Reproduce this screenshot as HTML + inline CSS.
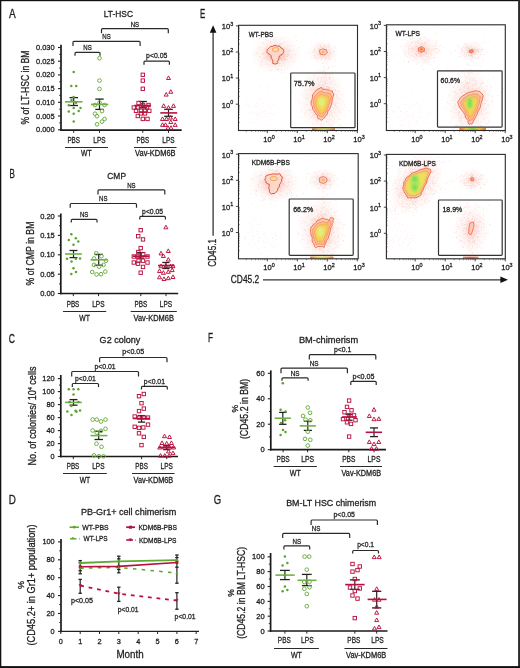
<!DOCTYPE html>
<html><head><meta charset="utf-8"><style>
html,body{margin:0;padding:0;background:#fff;width:520px;height:668px;overflow:hidden}
svg{display:block;will-change:transform}
text{font-family:"Liberation Sans", sans-serif;fill:#1e1e1e;stroke:#1e1e1e;stroke-width:0.3px}
</style></head><body>
<svg width="520" height="668" viewBox="0 0 520 668">
<defs><filter id="b1" x="-50%" y="-50%" width="200%" height="200%"><feGaussianBlur stdDeviation="0.9"/></filter><radialGradient id="halo"><stop offset="0" stop-color="#f08070" stop-opacity="0.40"/><stop offset="0.5" stop-color="#f3a090" stop-opacity="0.16"/><stop offset="1" stop-color="#f8c0b0" stop-opacity="0"/></radialGradient><linearGradient id="barG" x1="0" x2="1"><stop offset="0" stop-color="#f06030"/><stop offset="0.25" stop-color="#f0c030"/><stop offset="0.5" stop-color="#d8e040"/><stop offset="0.75" stop-color="#f0c030"/><stop offset="1" stop-color="#f06030"/></linearGradient><linearGradient id="barGr" x1="0" x2="1"><stop offset="0" stop-color="#f06030"/><stop offset="0.25" stop-color="#f0c030"/><stop offset="0.5" stop-color="#70d040"/><stop offset="0.75" stop-color="#f0c030"/><stop offset="1" stop-color="#f06030"/></linearGradient><linearGradient id="barO" x1="0" x2="1"><stop offset="0" stop-color="#f08060"/><stop offset="0.5" stop-color="#e85a30"/><stop offset="1" stop-color="#f08060"/></linearGradient></defs>
<rect x="0" y="0" width="520" height="668" fill="#fff"/>
<text x="9.0" y="17.9" font-size="12" textLength="6.7" lengthAdjust="spacingAndGlyphs">A</text>
<text x="103.8" y="17.3" font-size="9.77" textLength="29.2" lengthAdjust="spacingAndGlyphs">LT-HSC</text>
<line x1="61.0" y1="44.8" x2="61.0" y2="131.0" stroke="#1a1a1a" stroke-width="1.7"/>
<line x1="58.0" y1="47.5" x2="61.0" y2="47.5" stroke="#222" stroke-width="1.1"/>
<text x="54.6" y="50.0" font-size="8.05" text-anchor="end" textLength="18.6" lengthAdjust="spacingAndGlyphs">0.030</text>
<line x1="58.0" y1="61.2" x2="61.0" y2="61.2" stroke="#222" stroke-width="1.1"/>
<text x="54.6" y="63.7" font-size="8.05" text-anchor="end" textLength="18.6" lengthAdjust="spacingAndGlyphs">0.025</text>
<line x1="58.0" y1="74.9" x2="61.0" y2="74.9" stroke="#222" stroke-width="1.1"/>
<text x="54.6" y="77.4" font-size="8.05" text-anchor="end" textLength="18.6" lengthAdjust="spacingAndGlyphs">0.020</text>
<line x1="58.0" y1="88.6" x2="61.0" y2="88.6" stroke="#222" stroke-width="1.1"/>
<text x="54.6" y="91.1" font-size="8.05" text-anchor="end" textLength="18.6" lengthAdjust="spacingAndGlyphs">0.015</text>
<line x1="58.0" y1="102.3" x2="61.0" y2="102.3" stroke="#222" stroke-width="1.1"/>
<text x="54.6" y="104.8" font-size="8.05" text-anchor="end" textLength="18.6" lengthAdjust="spacingAndGlyphs">0.010</text>
<line x1="58.0" y1="116.0" x2="61.0" y2="116.0" stroke="#222" stroke-width="1.1"/>
<text x="54.6" y="118.5" font-size="8.05" text-anchor="end" textLength="18.6" lengthAdjust="spacingAndGlyphs">0.005</text>
<line x1="58.0" y1="129.8" x2="61.0" y2="129.8" stroke="#222" stroke-width="1.1"/>
<text x="54.6" y="132.3" font-size="8.05" text-anchor="end" textLength="18.6" lengthAdjust="spacingAndGlyphs">0.000</text>
<line x1="59.2" y1="54.4" x2="61.0" y2="54.4" stroke="#222" stroke-width="0.9"/>
<line x1="59.2" y1="68.1" x2="61.0" y2="68.1" stroke="#222" stroke-width="0.9"/>
<line x1="59.2" y1="81.8" x2="61.0" y2="81.8" stroke="#222" stroke-width="0.9"/>
<line x1="59.2" y1="95.4" x2="61.0" y2="95.4" stroke="#222" stroke-width="0.9"/>
<line x1="59.2" y1="109.2" x2="61.0" y2="109.2" stroke="#222" stroke-width="0.9"/>
<line x1="59.2" y1="122.9" x2="61.0" y2="122.9" stroke="#222" stroke-width="0.9"/>
<line x1="60.2" y1="130.2" x2="181.7" y2="130.2" stroke="#1a1a1a" stroke-width="1.7"/>
<line x1="73.7" y1="130.2" x2="73.7" y2="132.8" stroke="#222" stroke-width="1.0"/>
<line x1="99.5" y1="130.2" x2="99.5" y2="132.8" stroke="#222" stroke-width="1.0"/>
<line x1="142.8" y1="130.2" x2="142.8" y2="132.8" stroke="#222" stroke-width="1.0"/>
<line x1="168.5" y1="130.2" x2="168.5" y2="132.8" stroke="#222" stroke-width="1.0"/>
<text x="28.5" y="87.5" font-size="10.7" text-anchor="middle" textLength="74.0" lengthAdjust="spacingAndGlyphs" transform="rotate(-90 28.5 87.5)">% of LT-HSC in BM</text>
<path d="M101.5 33.2V29.7Q101.5 28.7 102.5 28.7H167.3Q168.3 28.7 168.3 29.7V33.2" fill="none" stroke="#2a2a2a" stroke-width="1.2"/>
<text x="134.9" y="26.5" font-size="8.05" text-anchor="middle" textLength="8.4" lengthAdjust="spacingAndGlyphs">NS</text>
<path d="M73.0 46.1V42.3Q73.0 41.3 74.0 41.3H139.1Q140.1 41.3 140.1 42.3V46.1" fill="none" stroke="#2a2a2a" stroke-width="1.2"/>
<text x="106.5" y="39.3" font-size="8.05" text-anchor="middle" textLength="8.4" lengthAdjust="spacingAndGlyphs">NS</text>
<path d="M75.0 55.8V53.3Q75.0 52.3 76.0 52.3H99.0Q100.0 52.3 100.0 53.3V55.8" fill="none" stroke="#2a2a2a" stroke-width="1.2"/>
<text x="87.5" y="50.3" font-size="8.05" text-anchor="middle" textLength="8.4" lengthAdjust="spacingAndGlyphs">NS</text>
<path d="M144.0 64.8V62.2Q144.0 61.2 145.0 61.2H168.4Q169.4 61.2 169.4 62.2V64.8" fill="none" stroke="#2a2a2a" stroke-width="1.2"/>
<text x="156.7" y="58.3" font-size="7.82" text-anchor="middle" textLength="21.3" lengthAdjust="spacingAndGlyphs">p&lt;0.05</text>
<text x="73.7" y="143.2" font-size="8.51" text-anchor="middle" textLength="12.6" lengthAdjust="spacingAndGlyphs">PBS</text>
<text x="99.5" y="143.2" font-size="8.51" text-anchor="middle" textLength="12.3" lengthAdjust="spacingAndGlyphs">LPS</text>
<text x="142.8" y="143.2" font-size="8.51" text-anchor="middle" textLength="12.6" lengthAdjust="spacingAndGlyphs">PBS</text>
<text x="168.5" y="143.2" font-size="8.51" text-anchor="middle" textLength="12.3" lengthAdjust="spacingAndGlyphs">LPS</text>
<line x1="65.0" y1="147.5" x2="108.0" y2="147.5" stroke="#2a2a2a" stroke-width="1.0"/>
<line x1="134.0" y1="147.5" x2="176.5" y2="147.5" stroke="#2a2a2a" stroke-width="1.0"/>
<text x="86.3" y="156.0" font-size="8.39" text-anchor="middle" textLength="10.6" lengthAdjust="spacingAndGlyphs">WT</text>
<text x="155.3" y="156.0" font-size="8.39" text-anchor="middle" textLength="40.4" lengthAdjust="spacingAndGlyphs">Vav-KDM6B</text>
<line x1="73.7" y1="97.6" x2="73.7" y2="105.5" stroke="#222" stroke-width="1.2"/>
<line x1="69.5" y1="97.6" x2="78.0" y2="97.6" stroke="#222" stroke-width="1.3"/>
<line x1="69.5" y1="105.5" x2="78.0" y2="105.5" stroke="#222" stroke-width="1.3"/>
<line x1="65.0" y1="101.8" x2="82.5" y2="101.8" stroke="#6fb144" stroke-width="1.6"/>
<circle cx="73.7" cy="72.1" r="1.25" fill="#5ca12f"/>
<circle cx="71.3" cy="86.1" r="1.25" fill="#5ca12f"/>
<circle cx="76.2" cy="86.1" r="1.25" fill="#5ca12f"/>
<circle cx="73.7" cy="96.9" r="1.25" fill="#5ca12f"/>
<circle cx="71.5" cy="99.9" r="1.25" fill="#5ca12f"/>
<circle cx="76.0" cy="102.7" r="1.25" fill="#5ca12f"/>
<circle cx="68.8" cy="105.3" r="1.25" fill="#5ca12f"/>
<circle cx="73.7" cy="108.1" r="1.25" fill="#5ca12f"/>
<circle cx="80.5" cy="108.1" r="1.25" fill="#5ca12f"/>
<circle cx="68.8" cy="111.5" r="1.25" fill="#5ca12f"/>
<circle cx="78.7" cy="110.9" r="1.25" fill="#5ca12f"/>
<circle cx="73.7" cy="113.7" r="1.25" fill="#5ca12f"/>
<circle cx="73.7" cy="121.6" r="1.25" fill="#5ca12f"/>
<line x1="99.5" y1="99.1" x2="99.5" y2="109.4" stroke="#222" stroke-width="1.2"/>
<line x1="95.3" y1="99.1" x2="103.7" y2="99.1" stroke="#222" stroke-width="1.3"/>
<line x1="95.3" y1="109.4" x2="103.7" y2="109.4" stroke="#222" stroke-width="1.3"/>
<line x1="90.9" y1="104.4" x2="108.3" y2="104.4" stroke="#6fb144" stroke-width="1.6"/>
<circle cx="99.5" cy="58.2" r="1.85" fill="none" stroke="#6fb144" stroke-width="1.0"/>
<circle cx="99.5" cy="80.6" r="1.85" fill="none" stroke="#6fb144" stroke-width="1.0"/>
<circle cx="99.5" cy="88.9" r="1.85" fill="none" stroke="#6fb144" stroke-width="1.0"/>
<circle cx="99.5" cy="102.7" r="1.85" fill="none" stroke="#6fb144" stroke-width="1.0"/>
<circle cx="95.0" cy="105.0" r="1.85" fill="none" stroke="#6fb144" stroke-width="1.0"/>
<circle cx="104.5" cy="105.0" r="1.85" fill="none" stroke="#6fb144" stroke-width="1.0"/>
<circle cx="102.0" cy="111.1" r="1.85" fill="none" stroke="#6fb144" stroke-width="1.0"/>
<circle cx="95.0" cy="113.7" r="1.85" fill="none" stroke="#6fb144" stroke-width="1.0"/>
<circle cx="97.0" cy="116.2" r="1.85" fill="none" stroke="#6fb144" stroke-width="1.0"/>
<circle cx="104.5" cy="119.0" r="1.85" fill="none" stroke="#6fb144" stroke-width="1.0"/>
<circle cx="102.0" cy="121.6" r="1.85" fill="none" stroke="#6fb144" stroke-width="1.0"/>
<circle cx="97.0" cy="124.3" r="1.85" fill="none" stroke="#6fb144" stroke-width="1.0"/>
<line x1="142.8" y1="101.5" x2="142.8" y2="107.8" stroke="#222" stroke-width="1.2"/>
<line x1="138.7" y1="101.5" x2="146.9" y2="101.5" stroke="#222" stroke-width="1.3"/>
<line x1="138.7" y1="107.8" x2="146.9" y2="107.8" stroke="#222" stroke-width="1.3"/>
<line x1="134.3" y1="105.5" x2="150.8" y2="105.5" stroke="#b9113f" stroke-width="1.6"/>
<rect x="141.1" y="73.1" width="3.4" height="3.4" fill="none" stroke="#b9113f" stroke-width="0.95"/>
<rect x="141.1" y="78.9" width="3.4" height="3.4" fill="none" stroke="#b9113f" stroke-width="0.95"/>
<rect x="141.1" y="87.1" width="3.4" height="3.4" fill="none" stroke="#b9113f" stroke-width="0.95"/>
<rect x="136.9" y="101.3" width="3.4" height="3.4" fill="none" stroke="#b9113f" stroke-width="0.95"/>
<rect x="141.3" y="103.3" width="3.4" height="3.4" fill="none" stroke="#b9113f" stroke-width="0.95"/>
<rect x="146.8" y="103.3" width="3.4" height="3.4" fill="none" stroke="#b9113f" stroke-width="0.95"/>
<rect x="132.1" y="105.8" width="3.4" height="3.4" fill="none" stroke="#b9113f" stroke-width="0.95"/>
<rect x="136.3" y="105.8" width="3.4" height="3.4" fill="none" stroke="#b9113f" stroke-width="0.95"/>
<rect x="145.3" y="105.8" width="3.4" height="3.4" fill="none" stroke="#b9113f" stroke-width="0.95"/>
<rect x="134.3" y="109.1" width="3.4" height="3.4" fill="none" stroke="#b9113f" stroke-width="0.95"/>
<rect x="139.3" y="109.1" width="3.4" height="3.4" fill="none" stroke="#b9113f" stroke-width="0.95"/>
<rect x="143.3" y="109.1" width="3.4" height="3.4" fill="none" stroke="#b9113f" stroke-width="0.95"/>
<rect x="147.6" y="109.1" width="3.4" height="3.4" fill="none" stroke="#b9113f" stroke-width="0.95"/>
<rect x="139.1" y="111.7" width="3.4" height="3.4" fill="none" stroke="#b9113f" stroke-width="0.95"/>
<rect x="143.3" y="111.7" width="3.4" height="3.4" fill="none" stroke="#b9113f" stroke-width="0.95"/>
<rect x="136.1" y="114.3" width="3.4" height="3.4" fill="none" stroke="#b9113f" stroke-width="0.95"/>
<rect x="141.1" y="117.2" width="3.4" height="3.4" fill="none" stroke="#b9113f" stroke-width="0.95"/>
<rect x="145.8" y="117.2" width="3.4" height="3.4" fill="none" stroke="#b9113f" stroke-width="0.95"/>
<line x1="168.5" y1="109.4" x2="168.5" y2="116.3" stroke="#222" stroke-width="1.2"/>
<line x1="164.2" y1="109.4" x2="172.8" y2="109.4" stroke="#222" stroke-width="1.3"/>
<line x1="164.2" y1="116.3" x2="172.8" y2="116.3" stroke="#222" stroke-width="1.3"/>
<line x1="160.3" y1="112.9" x2="177.2" y2="112.9" stroke="#b9113f" stroke-width="1.6"/>
<path d="M168.5 75.9L170.5 79.5H166.5Z" fill="none" stroke="#b9113f" stroke-width="0.95" stroke-linejoin="round"/>
<path d="M170.8 89.7L172.8 93.3H168.8Z" fill="none" stroke="#b9113f" stroke-width="0.95" stroke-linejoin="round"/>
<path d="M166.2 92.5L168.2 96.1H164.2Z" fill="none" stroke="#b9113f" stroke-width="0.95" stroke-linejoin="round"/>
<path d="M163.7 103.8L165.7 107.4H161.7Z" fill="none" stroke="#b9113f" stroke-width="0.95" stroke-linejoin="round"/>
<path d="M173.5 103.8L175.5 107.4H171.5Z" fill="none" stroke="#b9113f" stroke-width="0.95" stroke-linejoin="round"/>
<path d="M168.5 105.6L170.5 109.2H166.5Z" fill="none" stroke="#b9113f" stroke-width="0.95" stroke-linejoin="round"/>
<path d="M162.5 116.9L164.5 120.5H160.5Z" fill="none" stroke="#b9113f" stroke-width="0.95" stroke-linejoin="round"/>
<path d="M166.5 116.9L168.5 120.5H164.5Z" fill="none" stroke="#b9113f" stroke-width="0.95" stroke-linejoin="round"/>
<path d="M170.5 115.5L172.5 119.1H168.5Z" fill="none" stroke="#b9113f" stroke-width="0.95" stroke-linejoin="round"/>
<path d="M175.2 116.9L177.2 120.5H173.2Z" fill="none" stroke="#b9113f" stroke-width="0.95" stroke-linejoin="round"/>
<path d="M170.8 119.9L172.8 123.5H168.8Z" fill="none" stroke="#b9113f" stroke-width="0.95" stroke-linejoin="round"/>
<path d="M162.5 122.8L164.5 126.4H160.5Z" fill="none" stroke="#b9113f" stroke-width="0.95" stroke-linejoin="round"/>
<path d="M165.5 122.8L167.5 126.4H163.5Z" fill="none" stroke="#b9113f" stroke-width="0.95" stroke-linejoin="round"/>
<path d="M175.2 122.8L177.2 126.4H173.2Z" fill="none" stroke="#b9113f" stroke-width="0.95" stroke-linejoin="round"/>
<path d="M168.0 125.7L170.0 129.3H166.0Z" fill="none" stroke="#b9113f" stroke-width="0.95" stroke-linejoin="round"/>
<path d="M171.0 125.7L173.0 129.3H169.0Z" fill="none" stroke="#b9113f" stroke-width="0.95" stroke-linejoin="round"/>
<text x="9.6" y="177.8" font-size="12" textLength="5.4" lengthAdjust="spacingAndGlyphs">B</text>
<text x="107.3" y="178.8" font-size="9.77" textLength="18.7" lengthAdjust="spacingAndGlyphs">CMP</text>
<line x1="60.8" y1="213.5" x2="60.8" y2="294.3" stroke="#1a1a1a" stroke-width="1.7"/>
<line x1="57.8" y1="216.0" x2="60.8" y2="216.0" stroke="#222" stroke-width="1.1"/>
<text x="54.8" y="218.5" font-size="8.05" text-anchor="end" textLength="14.6" lengthAdjust="spacingAndGlyphs">0.20</text>
<line x1="57.8" y1="235.4" x2="60.8" y2="235.4" stroke="#222" stroke-width="1.1"/>
<text x="54.8" y="237.9" font-size="8.05" text-anchor="end" textLength="14.6" lengthAdjust="spacingAndGlyphs">0.15</text>
<line x1="57.8" y1="254.8" x2="60.8" y2="254.8" stroke="#222" stroke-width="1.1"/>
<text x="54.8" y="257.3" font-size="8.05" text-anchor="end" textLength="14.6" lengthAdjust="spacingAndGlyphs">0.10</text>
<line x1="57.8" y1="274.2" x2="60.8" y2="274.2" stroke="#222" stroke-width="1.1"/>
<text x="54.8" y="276.7" font-size="8.05" text-anchor="end" textLength="14.6" lengthAdjust="spacingAndGlyphs">0.05</text>
<line x1="57.8" y1="293.5" x2="60.8" y2="293.5" stroke="#222" stroke-width="1.1"/>
<text x="54.8" y="296.0" font-size="8.05" text-anchor="end" textLength="14.6" lengthAdjust="spacingAndGlyphs">0.00</text>
<line x1="59.0" y1="225.7" x2="60.8" y2="225.7" stroke="#222" stroke-width="0.9"/>
<line x1="59.0" y1="245.1" x2="60.8" y2="245.1" stroke="#222" stroke-width="0.9"/>
<line x1="59.0" y1="264.5" x2="60.8" y2="264.5" stroke="#222" stroke-width="0.9"/>
<line x1="59.0" y1="283.9" x2="60.8" y2="283.9" stroke="#222" stroke-width="0.9"/>
<line x1="60.0" y1="293.5" x2="178.2" y2="293.5" stroke="#1a1a1a" stroke-width="1.7"/>
<line x1="73.3" y1="293.5" x2="73.3" y2="296.1" stroke="#222" stroke-width="1.0"/>
<line x1="98.5" y1="293.5" x2="98.5" y2="296.1" stroke="#222" stroke-width="1.0"/>
<line x1="140.8" y1="293.5" x2="140.8" y2="296.1" stroke="#222" stroke-width="1.0"/>
<line x1="166.0" y1="293.5" x2="166.0" y2="296.1" stroke="#222" stroke-width="1.0"/>
<text x="33.6" y="253.5" font-size="10.7" text-anchor="middle" textLength="64.0" lengthAdjust="spacingAndGlyphs" transform="rotate(-90 33.6 253.5)">% of CMP in BM</text>
<path d="M98.0 194.6V190.8Q98.0 189.8 99.0 189.8H163.8Q164.8 189.8 164.8 190.8V194.6" fill="none" stroke="#2a2a2a" stroke-width="1.2"/>
<text x="131.4" y="187.5" font-size="8.05" text-anchor="middle" textLength="8.4" lengthAdjust="spacingAndGlyphs">NS</text>
<path d="M70.2 207.7V204.5Q70.2 203.5 71.2 203.5H135.5Q136.5 203.5 136.5 204.5V207.7" fill="none" stroke="#2a2a2a" stroke-width="1.2"/>
<text x="103.3" y="201.3" font-size="8.05" text-anchor="middle" textLength="8.4" lengthAdjust="spacingAndGlyphs">NS</text>
<path d="M71.3 222.5V220.3Q71.3 219.3 72.3 219.3H96.0Q97.0 219.3 97.0 220.3V222.5" fill="none" stroke="#2a2a2a" stroke-width="1.2"/>
<text x="84.2" y="217.2" font-size="8.05" text-anchor="middle" textLength="8.4" lengthAdjust="spacingAndGlyphs">NS</text>
<path d="M139.8 219.6V217.3Q139.8 216.3 140.8 216.3H164.4Q165.4 216.3 165.4 217.3V219.6" fill="none" stroke="#2a2a2a" stroke-width="1.2"/>
<text x="152.6" y="213.8" font-size="7.82" text-anchor="middle" textLength="21.0" lengthAdjust="spacingAndGlyphs">p&lt;0.05</text>
<text x="73.0" y="307.3" font-size="8.51" text-anchor="middle" textLength="12.6" lengthAdjust="spacingAndGlyphs">PBS</text>
<text x="98.4" y="307.3" font-size="8.51" text-anchor="middle" textLength="12.3" lengthAdjust="spacingAndGlyphs">LPS</text>
<text x="140.8" y="307.3" font-size="8.51" text-anchor="middle" textLength="12.6" lengthAdjust="spacingAndGlyphs">PBS</text>
<text x="166.0" y="307.3" font-size="8.51" text-anchor="middle" textLength="12.3" lengthAdjust="spacingAndGlyphs">LPS</text>
<line x1="63.0" y1="311.5" x2="106.2" y2="311.5" stroke="#2a2a2a" stroke-width="1.0"/>
<line x1="130.7" y1="311.5" x2="176.8" y2="311.5" stroke="#2a2a2a" stroke-width="1.0"/>
<text x="84.6" y="320.6" font-size="8.39" text-anchor="middle" textLength="10.6" lengthAdjust="spacingAndGlyphs">WT</text>
<text x="153.7" y="320.6" font-size="8.39" text-anchor="middle" textLength="40.4" lengthAdjust="spacingAndGlyphs">Vav-KDM6B</text>
<line x1="73.5" y1="250.5" x2="73.5" y2="257.6" stroke="#222" stroke-width="1.2"/>
<line x1="69.5" y1="250.5" x2="77.5" y2="250.5" stroke="#222" stroke-width="1.3"/>
<line x1="69.5" y1="257.6" x2="77.5" y2="257.6" stroke="#222" stroke-width="1.3"/>
<line x1="65.0" y1="254.0" x2="81.8" y2="254.0" stroke="#6fb144" stroke-width="1.6"/>
<circle cx="71.3" cy="234.2" r="1.25" fill="#5ca12f"/>
<circle cx="68.8" cy="240.0" r="1.25" fill="#5ca12f"/>
<circle cx="75.8" cy="238.3" r="1.25" fill="#5ca12f"/>
<circle cx="78.3" cy="241.6" r="1.25" fill="#5ca12f"/>
<circle cx="73.5" cy="244.7" r="1.25" fill="#5ca12f"/>
<circle cx="67.0" cy="258.7" r="1.25" fill="#5ca12f"/>
<circle cx="75.8" cy="258.7" r="1.25" fill="#5ca12f"/>
<circle cx="80.0" cy="258.4" r="1.25" fill="#5ca12f"/>
<circle cx="71.5" cy="261.5" r="1.25" fill="#5ca12f"/>
<circle cx="73.5" cy="268.3" r="1.25" fill="#5ca12f"/>
<circle cx="71.3" cy="273.9" r="1.25" fill="#5ca12f"/>
<circle cx="76.0" cy="272.0" r="1.25" fill="#5ca12f"/>
<line x1="98.7" y1="254.4" x2="98.7" y2="265.2" stroke="#222" stroke-width="1.2"/>
<line x1="94.5" y1="254.4" x2="103.0" y2="254.4" stroke="#222" stroke-width="1.3"/>
<line x1="94.5" y1="265.2" x2="103.0" y2="265.2" stroke="#222" stroke-width="1.3"/>
<line x1="90.6" y1="259.8" x2="107.4" y2="259.8" stroke="#6fb144" stroke-width="1.6"/>
<circle cx="96.3" cy="253.3" r="1.85" fill="none" stroke="#6fb144" stroke-width="1.0"/>
<circle cx="101.5" cy="256.2" r="1.85" fill="none" stroke="#6fb144" stroke-width="1.0"/>
<circle cx="94.0" cy="258.5" r="1.85" fill="none" stroke="#6fb144" stroke-width="1.0"/>
<circle cx="106.0" cy="260.7" r="1.85" fill="none" stroke="#6fb144" stroke-width="1.0"/>
<circle cx="94.0" cy="264.9" r="1.85" fill="none" stroke="#6fb144" stroke-width="1.0"/>
<circle cx="99.0" cy="266.6" r="1.85" fill="none" stroke="#6fb144" stroke-width="1.0"/>
<circle cx="103.5" cy="264.9" r="1.85" fill="none" stroke="#6fb144" stroke-width="1.0"/>
<circle cx="92.2" cy="272.0" r="1.85" fill="none" stroke="#6fb144" stroke-width="1.0"/>
<circle cx="96.6" cy="274.4" r="1.85" fill="none" stroke="#6fb144" stroke-width="1.0"/>
<circle cx="101.0" cy="274.2" r="1.85" fill="none" stroke="#6fb144" stroke-width="1.0"/>
<circle cx="105.3" cy="271.6" r="1.85" fill="none" stroke="#6fb144" stroke-width="1.0"/>
<line x1="140.7" y1="252.6" x2="140.7" y2="258.1" stroke="#222" stroke-width="1.2"/>
<line x1="137.1" y1="252.6" x2="144.3" y2="252.6" stroke="#222" stroke-width="1.3"/>
<line x1="137.1" y1="258.1" x2="144.3" y2="258.1" stroke="#222" stroke-width="1.3"/>
<line x1="132.6" y1="256.2" x2="149.0" y2="256.2" stroke="#b9113f" stroke-width="1.6"/>
<rect x="139.0" y="228.5" width="3.4" height="3.4" fill="none" stroke="#b9113f" stroke-width="0.95"/>
<rect x="136.5" y="234.5" width="3.4" height="3.4" fill="none" stroke="#b9113f" stroke-width="0.95"/>
<rect x="141.3" y="237.7" width="3.4" height="3.4" fill="none" stroke="#b9113f" stroke-width="0.95"/>
<rect x="139.0" y="246.4" width="3.4" height="3.4" fill="none" stroke="#b9113f" stroke-width="0.95"/>
<rect x="136.6" y="250.4" width="3.4" height="3.4" fill="none" stroke="#b9113f" stroke-width="0.95"/>
<rect x="141.5" y="252.4" width="3.4" height="3.4" fill="none" stroke="#b9113f" stroke-width="0.95"/>
<rect x="132.1" y="254.8" width="3.4" height="3.4" fill="none" stroke="#b9113f" stroke-width="0.95"/>
<rect x="136.3" y="254.8" width="3.4" height="3.4" fill="none" stroke="#b9113f" stroke-width="0.95"/>
<rect x="145.8" y="254.8" width="3.4" height="3.4" fill="none" stroke="#b9113f" stroke-width="0.95"/>
<rect x="132.1" y="260.8" width="3.4" height="3.4" fill="none" stroke="#b9113f" stroke-width="0.95"/>
<rect x="136.8" y="259.0" width="3.4" height="3.4" fill="none" stroke="#b9113f" stroke-width="0.95"/>
<rect x="141.3" y="259.0" width="3.4" height="3.4" fill="none" stroke="#b9113f" stroke-width="0.95"/>
<rect x="145.8" y="260.8" width="3.4" height="3.4" fill="none" stroke="#b9113f" stroke-width="0.95"/>
<rect x="136.3" y="262.0" width="3.4" height="3.4" fill="none" stroke="#b9113f" stroke-width="0.95"/>
<rect x="141.3" y="265.2" width="3.4" height="3.4" fill="none" stroke="#b9113f" stroke-width="0.95"/>
<rect x="139.0" y="271.0" width="3.4" height="3.4" fill="none" stroke="#b9113f" stroke-width="0.95"/>
<line x1="165.9" y1="262.5" x2="165.9" y2="268.5" stroke="#222" stroke-width="1.2"/>
<line x1="162.3" y1="262.5" x2="169.5" y2="262.5" stroke="#222" stroke-width="1.3"/>
<line x1="162.3" y1="268.5" x2="169.5" y2="268.5" stroke="#222" stroke-width="1.3"/>
<line x1="158.1" y1="265.5" x2="174.5" y2="265.5" stroke="#b9113f" stroke-width="1.6"/>
<path d="M165.9 225.2L167.9 228.8H163.9Z" fill="none" stroke="#b9113f" stroke-width="0.95" stroke-linejoin="round"/>
<path d="M168.3 248.9L170.3 252.5H166.3Z" fill="none" stroke="#b9113f" stroke-width="0.95" stroke-linejoin="round"/>
<path d="M161.0 251.3L163.0 254.9H159.0Z" fill="none" stroke="#b9113f" stroke-width="0.95" stroke-linejoin="round"/>
<path d="M163.4 253.9L165.4 257.5H161.4Z" fill="none" stroke="#b9113f" stroke-width="0.95" stroke-linejoin="round"/>
<path d="M168.3 257.5L170.3 261.1H166.3Z" fill="none" stroke="#b9113f" stroke-width="0.95" stroke-linejoin="round"/>
<path d="M161.0 264.1L163.0 267.7H159.0Z" fill="none" stroke="#b9113f" stroke-width="0.95" stroke-linejoin="round"/>
<path d="M165.9 264.0L167.9 267.6H163.9Z" fill="none" stroke="#b9113f" stroke-width="0.95" stroke-linejoin="round"/>
<path d="M170.5 264.0L172.5 267.6H168.5Z" fill="none" stroke="#b9113f" stroke-width="0.95" stroke-linejoin="round"/>
<path d="M173.0 264.1L175.0 267.7H171.0Z" fill="none" stroke="#b9113f" stroke-width="0.95" stroke-linejoin="round"/>
<path d="M159.5 268.9L161.5 272.5H157.5Z" fill="none" stroke="#b9113f" stroke-width="0.95" stroke-linejoin="round"/>
<path d="M163.4 270.7L165.4 274.3H161.4Z" fill="none" stroke="#b9113f" stroke-width="0.95" stroke-linejoin="round"/>
<path d="M168.3 269.7L170.3 273.3H166.3Z" fill="none" stroke="#b9113f" stroke-width="0.95" stroke-linejoin="round"/>
<path d="M172.2 268.0L174.2 271.6H170.2Z" fill="none" stroke="#b9113f" stroke-width="0.95" stroke-linejoin="round"/>
<path d="M159.5 275.2L161.5 278.8H157.5Z" fill="none" stroke="#b9113f" stroke-width="0.95" stroke-linejoin="round"/>
<path d="M164.0 276.9L166.0 280.5H162.0Z" fill="none" stroke="#b9113f" stroke-width="0.95" stroke-linejoin="round"/>
<path d="M168.3 276.1L170.3 279.7H166.3Z" fill="none" stroke="#b9113f" stroke-width="0.95" stroke-linejoin="round"/>
<path d="M173.0 274.9L175.0 278.5H171.0Z" fill="none" stroke="#b9113f" stroke-width="0.95" stroke-linejoin="round"/>
<text x="8.8" y="342.6" font-size="12" textLength="6.2" lengthAdjust="spacingAndGlyphs">C</text>
<text x="99.6" y="342.5" font-size="9.77" textLength="40.8" lengthAdjust="spacingAndGlyphs">G2 colony</text>
<line x1="60.8" y1="375.0" x2="60.8" y2="457.3" stroke="#1a1a1a" stroke-width="1.7"/>
<line x1="57.8" y1="378.6" x2="60.8" y2="378.6" stroke="#222" stroke-width="1.1"/>
<text x="54.6" y="381.1" font-size="8.05" text-anchor="end" textLength="12.3" lengthAdjust="spacingAndGlyphs">120</text>
<line x1="57.8" y1="391.6" x2="60.8" y2="391.6" stroke="#222" stroke-width="1.1"/>
<text x="54.6" y="394.1" font-size="8.05" text-anchor="end" textLength="12.3" lengthAdjust="spacingAndGlyphs">100</text>
<line x1="57.8" y1="404.6" x2="60.8" y2="404.6" stroke="#222" stroke-width="1.1"/>
<text x="54.6" y="407.1" font-size="8.05" text-anchor="end" textLength="8.2" lengthAdjust="spacingAndGlyphs">80</text>
<line x1="57.8" y1="417.6" x2="60.8" y2="417.6" stroke="#222" stroke-width="1.1"/>
<text x="54.6" y="420.1" font-size="8.05" text-anchor="end" textLength="8.2" lengthAdjust="spacingAndGlyphs">60</text>
<line x1="57.8" y1="430.6" x2="60.8" y2="430.6" stroke="#222" stroke-width="1.1"/>
<text x="54.6" y="433.1" font-size="8.05" text-anchor="end" textLength="8.2" lengthAdjust="spacingAndGlyphs">40</text>
<line x1="57.8" y1="443.6" x2="60.8" y2="443.6" stroke="#222" stroke-width="1.1"/>
<text x="54.6" y="446.1" font-size="8.05" text-anchor="end" textLength="8.2" lengthAdjust="spacingAndGlyphs">20</text>
<line x1="57.8" y1="456.5" x2="60.8" y2="456.5" stroke="#222" stroke-width="1.1"/>
<text x="54.6" y="459.0" font-size="8.05" text-anchor="end" textLength="4.1" lengthAdjust="spacingAndGlyphs">0</text>
<line x1="59.0" y1="385.1" x2="60.8" y2="385.1" stroke="#222" stroke-width="0.9"/>
<line x1="59.0" y1="398.1" x2="60.8" y2="398.1" stroke="#222" stroke-width="0.9"/>
<line x1="59.0" y1="411.1" x2="60.8" y2="411.1" stroke="#222" stroke-width="0.9"/>
<line x1="59.0" y1="424.1" x2="60.8" y2="424.1" stroke="#222" stroke-width="0.9"/>
<line x1="59.0" y1="437.1" x2="60.8" y2="437.1" stroke="#222" stroke-width="0.9"/>
<line x1="59.0" y1="450.1" x2="60.8" y2="450.1" stroke="#222" stroke-width="0.9"/>
<line x1="60.0" y1="456.5" x2="178.0" y2="456.5" stroke="#1a1a1a" stroke-width="1.7"/>
<line x1="73.3" y1="456.5" x2="73.3" y2="459.1" stroke="#222" stroke-width="1.0"/>
<line x1="98.6" y1="456.5" x2="98.6" y2="459.1" stroke="#222" stroke-width="1.0"/>
<line x1="141.6" y1="456.5" x2="141.6" y2="459.1" stroke="#222" stroke-width="1.0"/>
<line x1="166.7" y1="456.5" x2="166.7" y2="459.1" stroke="#222" stroke-width="1.0"/>
<text x="35.6" y="416.0" font-size="10.7" text-anchor="middle" textLength="99.0" lengthAdjust="spacingAndGlyphs" transform="rotate(-90 35.6 416.0)">No. of colonies/ 10<tspan font-size="6" dy="-3.5">4</tspan><tspan dy="3.5"> cells</tspan></text>
<path d="M99.6 362.3V358.5Q99.6 357.5 100.6 357.5H166.0Q167.0 357.5 167.0 358.5V362.3" fill="none" stroke="#2a2a2a" stroke-width="1.2"/>
<text x="133.3" y="354.0" font-size="7.82" text-anchor="middle" textLength="21.9" lengthAdjust="spacingAndGlyphs">p&lt;0.05</text>
<path d="M71.7 376.5V372.5Q71.7 371.5 72.7 371.5H137.5Q138.5 371.5 138.5 372.5V376.5" fill="none" stroke="#2a2a2a" stroke-width="1.2"/>
<text x="105.1" y="368.5" font-size="7.82" text-anchor="middle" textLength="21.2" lengthAdjust="spacingAndGlyphs">p&lt;0.01</text>
<path d="M72.3 387.0V384.5Q72.3 383.5 73.3 383.5H97.5Q98.5 383.5 98.5 384.5V387.0" fill="none" stroke="#2a2a2a" stroke-width="1.2"/>
<text x="85.4" y="380.7" font-size="7.82" text-anchor="middle" textLength="21.0" lengthAdjust="spacingAndGlyphs">p&lt;0.01</text>
<path d="M141.5 389.6V387.3Q141.5 386.3 142.5 386.3H166.3Q167.3 386.3 167.3 387.3V389.6" fill="none" stroke="#2a2a2a" stroke-width="1.2"/>
<text x="154.4" y="383.5" font-size="7.82" text-anchor="middle" textLength="21.1" lengthAdjust="spacingAndGlyphs">p&lt;0.01</text>
<text x="73.0" y="469.0" font-size="8.51" text-anchor="middle" textLength="12.6" lengthAdjust="spacingAndGlyphs">PBS</text>
<text x="98.4" y="469.0" font-size="8.51" text-anchor="middle" textLength="12.3" lengthAdjust="spacingAndGlyphs">LPS</text>
<text x="141.6" y="469.0" font-size="8.51" text-anchor="middle" textLength="12.6" lengthAdjust="spacingAndGlyphs">PBS</text>
<text x="166.7" y="469.0" font-size="8.51" text-anchor="middle" textLength="12.3" lengthAdjust="spacingAndGlyphs">LPS</text>
<line x1="63.0" y1="473.5" x2="106.8" y2="473.5" stroke="#2a2a2a" stroke-width="1.0"/>
<line x1="132.0" y1="473.5" x2="174.5" y2="473.5" stroke="#2a2a2a" stroke-width="1.0"/>
<text x="85.0" y="483.0" font-size="8.39" text-anchor="middle" textLength="10.6" lengthAdjust="spacingAndGlyphs">WT</text>
<text x="153.4" y="483.0" font-size="8.39" text-anchor="middle" textLength="39.7" lengthAdjust="spacingAndGlyphs">Vav-KDM6B</text>
<line x1="73.5" y1="399.6" x2="73.5" y2="405.2" stroke="#222" stroke-width="1.2"/>
<line x1="69.5" y1="399.6" x2="77.5" y2="399.6" stroke="#222" stroke-width="1.3"/>
<line x1="69.5" y1="405.2" x2="77.5" y2="405.2" stroke="#222" stroke-width="1.3"/>
<line x1="65.0" y1="402.4" x2="81.8" y2="402.4" stroke="#6fb144" stroke-width="1.6"/>
<circle cx="68.8" cy="389.2" r="1.25" fill="#5ca12f"/>
<circle cx="73.5" cy="389.2" r="1.25" fill="#5ca12f"/>
<circle cx="78.3" cy="389.2" r="1.25" fill="#5ca12f"/>
<circle cx="73.5" cy="394.6" r="1.25" fill="#5ca12f"/>
<circle cx="69.5" cy="402.1" r="1.25" fill="#5ca12f"/>
<circle cx="78.5" cy="402.1" r="1.25" fill="#5ca12f"/>
<circle cx="71.3" cy="406.1" r="1.25" fill="#5ca12f"/>
<circle cx="67.3" cy="411.4" r="1.25" fill="#5ca12f"/>
<circle cx="75.5" cy="410.8" r="1.25" fill="#5ca12f"/>
<circle cx="76.5" cy="411.8" r="1.25" fill="#5ca12f"/>
<circle cx="80.0" cy="410.6" r="1.25" fill="#5ca12f"/>
<circle cx="71.5" cy="415.1" r="1.25" fill="#5ca12f"/>
<line x1="98.7" y1="431.3" x2="98.7" y2="439.5" stroke="#222" stroke-width="1.2"/>
<line x1="94.5" y1="431.3" x2="103.0" y2="431.3" stroke="#222" stroke-width="1.3"/>
<line x1="94.5" y1="439.5" x2="103.0" y2="439.5" stroke="#222" stroke-width="1.3"/>
<line x1="90.6" y1="435.6" x2="107.4" y2="435.6" stroke="#6fb144" stroke-width="1.6"/>
<circle cx="92.7" cy="419.6" r="1.85" fill="none" stroke="#6fb144" stroke-width="1.0"/>
<circle cx="96.8" cy="419.6" r="1.85" fill="none" stroke="#6fb144" stroke-width="1.0"/>
<circle cx="101.0" cy="421.5" r="1.85" fill="none" stroke="#6fb144" stroke-width="1.0"/>
<circle cx="105.5" cy="419.6" r="1.85" fill="none" stroke="#6fb144" stroke-width="1.0"/>
<circle cx="92.7" cy="430.5" r="1.85" fill="none" stroke="#6fb144" stroke-width="1.0"/>
<circle cx="96.8" cy="432.6" r="1.85" fill="none" stroke="#6fb144" stroke-width="1.0"/>
<circle cx="101.0" cy="430.8" r="1.85" fill="none" stroke="#6fb144" stroke-width="1.0"/>
<circle cx="105.5" cy="428.8" r="1.85" fill="none" stroke="#6fb144" stroke-width="1.0"/>
<circle cx="96.5" cy="443.7" r="1.85" fill="none" stroke="#6fb144" stroke-width="1.0"/>
<circle cx="101.5" cy="446.8" r="1.85" fill="none" stroke="#6fb144" stroke-width="1.0"/>
<circle cx="94.0" cy="455.4" r="1.85" fill="none" stroke="#6fb144" stroke-width="1.0"/>
<circle cx="99.0" cy="456.3" r="1.85" fill="none" stroke="#6fb144" stroke-width="1.0"/>
<circle cx="103.5" cy="456.3" r="1.85" fill="none" stroke="#6fb144" stroke-width="1.0"/>
<line x1="141.5" y1="415.6" x2="141.5" y2="422.1" stroke="#222" stroke-width="1.2"/>
<line x1="137.9" y1="415.6" x2="145.1" y2="415.6" stroke="#222" stroke-width="1.3"/>
<line x1="137.9" y1="422.1" x2="145.1" y2="422.1" stroke="#222" stroke-width="1.3"/>
<line x1="133.0" y1="418.5" x2="149.8" y2="418.5" stroke="#b9113f" stroke-width="1.6"/>
<rect x="137.3" y="394.5" width="3.4" height="3.4" fill="none" stroke="#b9113f" stroke-width="0.95"/>
<rect x="142.1" y="392.3" width="3.4" height="3.4" fill="none" stroke="#b9113f" stroke-width="0.95"/>
<rect x="139.8" y="401.5" width="3.4" height="3.4" fill="none" stroke="#b9113f" stroke-width="0.95"/>
<rect x="137.3" y="409.4" width="3.4" height="3.4" fill="none" stroke="#b9113f" stroke-width="0.95"/>
<rect x="142.1" y="406.9" width="3.4" height="3.4" fill="none" stroke="#b9113f" stroke-width="0.95"/>
<rect x="133.0" y="414.8" width="3.4" height="3.4" fill="none" stroke="#b9113f" stroke-width="0.95"/>
<rect x="137.3" y="415.9" width="3.4" height="3.4" fill="none" stroke="#b9113f" stroke-width="0.95"/>
<rect x="142.1" y="415.9" width="3.4" height="3.4" fill="none" stroke="#b9113f" stroke-width="0.95"/>
<rect x="146.3" y="415.9" width="3.4" height="3.4" fill="none" stroke="#b9113f" stroke-width="0.95"/>
<rect x="146.3" y="422.9" width="3.4" height="3.4" fill="none" stroke="#b9113f" stroke-width="0.95"/>
<rect x="133.0" y="425.1" width="3.4" height="3.4" fill="none" stroke="#b9113f" stroke-width="0.95"/>
<rect x="137.3" y="426.2" width="3.4" height="3.4" fill="none" stroke="#b9113f" stroke-width="0.95"/>
<rect x="141.6" y="425.8" width="3.4" height="3.4" fill="none" stroke="#b9113f" stroke-width="0.95"/>
<rect x="137.3" y="431.6" width="3.4" height="3.4" fill="none" stroke="#b9113f" stroke-width="0.95"/>
<rect x="142.1" y="435.2" width="3.4" height="3.4" fill="none" stroke="#b9113f" stroke-width="0.95"/>
<rect x="139.8" y="443.4" width="3.4" height="3.4" fill="none" stroke="#b9113f" stroke-width="0.95"/>
<line x1="166.7" y1="445.7" x2="166.7" y2="449.6" stroke="#222" stroke-width="1.2"/>
<line x1="163.1" y1="445.7" x2="170.3" y2="445.7" stroke="#222" stroke-width="1.3"/>
<line x1="163.1" y1="449.6" x2="170.3" y2="449.6" stroke="#222" stroke-width="1.3"/>
<line x1="158.6" y1="447.4" x2="175.4" y2="447.4" stroke="#b9113f" stroke-width="1.6"/>
<path d="M164.5 434.1L166.5 437.7H162.5Z" fill="none" stroke="#b9113f" stroke-width="0.95" stroke-linejoin="round"/>
<path d="M169.5 434.9L171.5 438.5H167.5Z" fill="none" stroke="#b9113f" stroke-width="0.95" stroke-linejoin="round"/>
<path d="M162.0 440.9L164.0 444.5H160.0Z" fill="none" stroke="#b9113f" stroke-width="0.95" stroke-linejoin="round"/>
<path d="M166.7 441.4L168.7 445.0H164.7Z" fill="none" stroke="#b9113f" stroke-width="0.95" stroke-linejoin="round"/>
<path d="M171.4 440.9L173.4 444.5H169.4Z" fill="none" stroke="#b9113f" stroke-width="0.95" stroke-linejoin="round"/>
<path d="M159.7 445.4L161.7 449.0H157.7Z" fill="none" stroke="#b9113f" stroke-width="0.95" stroke-linejoin="round"/>
<path d="M164.5 445.4L166.5 449.0H162.5Z" fill="none" stroke="#b9113f" stroke-width="0.95" stroke-linejoin="round"/>
<path d="M169.5 445.4L171.5 449.0H167.5Z" fill="none" stroke="#b9113f" stroke-width="0.95" stroke-linejoin="round"/>
<path d="M173.5 445.4L175.5 449.0H171.5Z" fill="none" stroke="#b9113f" stroke-width="0.95" stroke-linejoin="round"/>
<path d="M168.5 449.3L170.5 452.9H166.5Z" fill="none" stroke="#b9113f" stroke-width="0.95" stroke-linejoin="round"/>
<path d="M173.0 451.0L175.0 454.6H171.0Z" fill="none" stroke="#b9113f" stroke-width="0.95" stroke-linejoin="round"/>
<path d="M160.5 453.6L162.5 457.2H158.5Z" fill="none" stroke="#b9113f" stroke-width="0.95" stroke-linejoin="round"/>
<path d="M164.8 453.6L166.8 457.2H162.8Z" fill="none" stroke="#b9113f" stroke-width="0.95" stroke-linejoin="round"/>
<path d="M169.2 453.6L171.2 457.2H167.2Z" fill="none" stroke="#b9113f" stroke-width="0.95" stroke-linejoin="round"/>
<text x="8.7" y="503.8" font-size="12" textLength="7.1" lengthAdjust="spacingAndGlyphs">D</text>
<text x="81.0" y="514.8" font-size="9.77" textLength="95.4" lengthAdjust="spacingAndGlyphs">PB-Gr1+ cell chimerism</text>
<line x1="61.0" y1="539.0" x2="61.0" y2="632.2" stroke="#1a1a1a" stroke-width="1.7"/>
<line x1="58.0" y1="541.9" x2="61.0" y2="541.9" stroke="#222" stroke-width="1.1"/>
<text x="54.7" y="544.4" font-size="8.05" text-anchor="end" textLength="12.3" lengthAdjust="spacingAndGlyphs">100</text>
<line x1="58.0" y1="559.8" x2="61.0" y2="559.8" stroke="#222" stroke-width="1.1"/>
<text x="54.7" y="562.3" font-size="8.05" text-anchor="end" textLength="8.2" lengthAdjust="spacingAndGlyphs">80</text>
<line x1="58.0" y1="577.7" x2="61.0" y2="577.7" stroke="#222" stroke-width="1.1"/>
<text x="54.7" y="580.2" font-size="8.05" text-anchor="end" textLength="8.2" lengthAdjust="spacingAndGlyphs">60</text>
<line x1="58.0" y1="595.6" x2="61.0" y2="595.6" stroke="#222" stroke-width="1.1"/>
<text x="54.7" y="598.1" font-size="8.05" text-anchor="end" textLength="8.2" lengthAdjust="spacingAndGlyphs">40</text>
<line x1="58.0" y1="613.5" x2="61.0" y2="613.5" stroke="#222" stroke-width="1.1"/>
<text x="54.7" y="616.0" font-size="8.05" text-anchor="end" textLength="8.2" lengthAdjust="spacingAndGlyphs">20</text>
<line x1="58.0" y1="631.4" x2="61.0" y2="631.4" stroke="#222" stroke-width="1.1"/>
<text x="54.7" y="633.9" font-size="8.05" text-anchor="end" textLength="4.1" lengthAdjust="spacingAndGlyphs">0</text>
<line x1="59.2" y1="550.8" x2="61.0" y2="550.8" stroke="#222" stroke-width="0.9"/>
<line x1="59.2" y1="568.8" x2="61.0" y2="568.8" stroke="#222" stroke-width="0.9"/>
<line x1="59.2" y1="586.7" x2="61.0" y2="586.7" stroke="#222" stroke-width="0.9"/>
<line x1="59.2" y1="604.5" x2="61.0" y2="604.5" stroke="#222" stroke-width="0.9"/>
<line x1="59.2" y1="622.5" x2="61.0" y2="622.5" stroke="#222" stroke-width="0.9"/>
<line x1="60.4" y1="631.4" x2="199.0" y2="631.4" stroke="#222" stroke-width="1.3"/>
<line x1="60.8" y1="631.4" x2="60.8" y2="634.0" stroke="#222" stroke-width="1.0"/>
<text x="60.8" y="644.3" font-size="8.05" text-anchor="middle" textLength="4.1" lengthAdjust="spacingAndGlyphs">0</text>
<line x1="80.2" y1="631.4" x2="80.2" y2="634.0" stroke="#222" stroke-width="1.0"/>
<text x="80.2" y="644.3" font-size="8.05" text-anchor="middle" textLength="4.1" lengthAdjust="spacingAndGlyphs">1</text>
<line x1="99.5" y1="631.4" x2="99.5" y2="634.0" stroke="#222" stroke-width="1.0"/>
<text x="99.5" y="644.3" font-size="8.05" text-anchor="middle" textLength="4.1" lengthAdjust="spacingAndGlyphs">2</text>
<line x1="118.8" y1="631.4" x2="118.8" y2="634.0" stroke="#222" stroke-width="1.0"/>
<text x="118.8" y="644.3" font-size="8.05" text-anchor="middle" textLength="4.1" lengthAdjust="spacingAndGlyphs">3</text>
<line x1="138.2" y1="631.4" x2="138.2" y2="634.0" stroke="#222" stroke-width="1.0"/>
<text x="138.2" y="644.3" font-size="8.05" text-anchor="middle" textLength="4.1" lengthAdjust="spacingAndGlyphs">4</text>
<line x1="157.6" y1="631.4" x2="157.6" y2="634.0" stroke="#222" stroke-width="1.0"/>
<text x="157.6" y="644.3" font-size="8.05" text-anchor="middle" textLength="4.1" lengthAdjust="spacingAndGlyphs">5</text>
<line x1="176.9" y1="631.4" x2="176.9" y2="634.0" stroke="#222" stroke-width="1.0"/>
<text x="176.9" y="644.3" font-size="8.05" text-anchor="middle" textLength="4.1" lengthAdjust="spacingAndGlyphs">6</text>
<line x1="196.2" y1="631.4" x2="196.2" y2="634.0" stroke="#222" stroke-width="1.0"/>
<text x="196.2" y="644.3" font-size="8.05" text-anchor="middle" textLength="4.1" lengthAdjust="spacingAndGlyphs">7</text>
<text x="130.0" y="657.6" font-size="11.5" text-anchor="middle" textLength="27.2" lengthAdjust="spacingAndGlyphs">Month</text>
<text x="23.5" y="585.0" font-size="9.89" text-anchor="middle" textLength="8.0" lengthAdjust="spacingAndGlyphs" transform="rotate(-90 23.5 585.0)">%</text>
<text x="35.2" y="585.0" font-size="10.7" text-anchor="middle" textLength="121.0" lengthAdjust="spacingAndGlyphs" transform="rotate(-90 35.2 585.0)">(CD45.2+ in Gr1+ population)</text>
<line x1="69.6" y1="527.2" x2="78.9" y2="527.2" stroke="#58a62a" stroke-width="1.5"/>
<circle cx="74.2" cy="527.2" r="1.4" fill="#58a62a"/>
<text x="82.3" y="529.8" font-size="8.05" textLength="26.4" lengthAdjust="spacingAndGlyphs">WT-PBS</text>
<line x1="70.0" y1="538.8" x2="76.5" y2="538.8" stroke="#58a62a" stroke-width="1.4"/>
<path d="M71.6 537.3L74.2 537.3L72.9 539.6Z" fill="#58a62a"/>
<circle cx="79.5" cy="538.8" r="0.6" fill="#58a62a"/>
<text x="83.5" y="541.4" font-size="8.05" textLength="24.2" lengthAdjust="spacingAndGlyphs">WT-LPS</text>
<line x1="126.2" y1="527.2" x2="135.0" y2="527.2" stroke="#b9113f" stroke-width="1.8"/>
<rect x="129" y="525.7" width="3" height="3" fill="#b9113f"/>
<text x="138.4" y="529.8" font-size="8.05" textLength="38.6" lengthAdjust="spacingAndGlyphs">KDM6B-PBS</text>
<line x1="126.2" y1="540.0" x2="133.0" y2="540.0" stroke="#b9113f" stroke-width="1.6"/>
<path d="M128.6 538.6L132.0 538.6L130.3 541.4Z" fill="#b9113f"/>
<circle cx="135.4" cy="540" r="0.6" fill="#b9113f"/>
<text x="138.9" y="542.6" font-size="8.05" textLength="37.6" lengthAdjust="spacingAndGlyphs">KDM6B-LPS</text>
<line x1="80.2" y1="560.6" x2="80.2" y2="573.8" stroke="#222" stroke-width="1.2"/>
<line x1="78.5" y1="560.6" x2="81.9" y2="560.6" stroke="#222" stroke-width="1.3"/>
<line x1="78.5" y1="573.8" x2="81.9" y2="573.8" stroke="#222" stroke-width="1.3"/>
<line x1="118.8" y1="556.2" x2="118.8" y2="572.8" stroke="#222" stroke-width="1.2"/>
<line x1="117.1" y1="556.2" x2="120.5" y2="556.2" stroke="#222" stroke-width="1.3"/>
<line x1="117.1" y1="572.8" x2="120.5" y2="572.8" stroke="#222" stroke-width="1.3"/>
<line x1="176.9" y1="555.0" x2="176.9" y2="583.2" stroke="#222" stroke-width="1.2"/>
<line x1="175.2" y1="555.0" x2="178.6" y2="555.0" stroke="#222" stroke-width="1.3"/>
<line x1="175.2" y1="583.2" x2="178.6" y2="583.2" stroke="#222" stroke-width="1.3"/>
<line x1="80.2" y1="579.4" x2="80.2" y2="593.3" stroke="#222" stroke-width="1.2"/>
<line x1="78.5" y1="579.4" x2="81.9" y2="579.4" stroke="#222" stroke-width="1.3"/>
<line x1="78.5" y1="593.3" x2="81.9" y2="593.3" stroke="#222" stroke-width="1.3"/>
<line x1="118.8" y1="587.2" x2="118.8" y2="601.4" stroke="#222" stroke-width="1.2"/>
<line x1="117.1" y1="587.2" x2="120.5" y2="587.2" stroke="#222" stroke-width="1.3"/>
<line x1="117.1" y1="601.4" x2="120.5" y2="601.4" stroke="#222" stroke-width="1.3"/>
<line x1="176.9" y1="592.7" x2="176.9" y2="609.2" stroke="#222" stroke-width="1.2"/>
<line x1="175.2" y1="592.7" x2="178.6" y2="592.7" stroke="#222" stroke-width="1.3"/>
<line x1="175.2" y1="609.2" x2="178.6" y2="609.2" stroke="#222" stroke-width="1.3"/>
<line x1="78.5" y1="562.6" x2="81.9" y2="562.6" stroke="#222" stroke-width="1.3"/>
<line x1="78.5" y1="570.8" x2="81.9" y2="570.8" stroke="#222" stroke-width="1.3"/>
<line x1="117.1" y1="558.8" x2="120.5" y2="558.8" stroke="#222" stroke-width="1.3"/>
<line x1="117.1" y1="569.5" x2="120.5" y2="569.5" stroke="#222" stroke-width="1.3"/>
<line x1="175.2" y1="557.6" x2="178.6" y2="557.6" stroke="#222" stroke-width="1.3"/>
<line x1="175.2" y1="567.2" x2="178.6" y2="567.2" stroke="#222" stroke-width="1.3"/>
<polyline points="80.2,568.2 118.8,567.4 176.9,573" fill="none" stroke="#58a62a" stroke-width="1.5" stroke-dasharray="3.5 5.3"/>
<polyline points="80.2,585.5 118.8,593.7 176.9,600.5" fill="none" stroke="#b9113f" stroke-width="1.8" stroke-dasharray="3.8 4.8"/>
<polyline points="80.2,566.8 118.8,566.4 176.9,562.5" fill="none" stroke="#b9113f" stroke-width="1.6"/>
<polyline points="80.2,563 118.8,561.4 176.9,560.2" fill="none" stroke="#5eaa36" stroke-width="1.8"/>
<circle cx="80.2" cy="563.0" r="1.5" fill="#58a62a"/>
<circle cx="118.8" cy="561.4" r="1.5" fill="#58a62a"/>
<circle cx="176.9" cy="560.2" r="1.5" fill="#58a62a"/>
<rect x="78.7" y="565.3" width="3" height="3" fill="#b9113f"/>
<rect x="117.3" y="564.9" width="3" height="3" fill="#b9113f"/>
<rect x="175.4" y="561.0" width="3" height="3" fill="#b9113f"/>
<path d="M78.7 569.4L81.7 569.4L80.2 566.7Z" fill="#58a62a"/>
<path d="M117.3 568.6L120.3 568.6L118.8 565.9Z" fill="#58a62a"/>
<path d="M175.4 574.2L178.4 574.2L176.9 571.5Z" fill="#58a62a"/>
<path d="M78.5 584.2L81.9 584.2L80.2 587.1Z" fill="#b9113f"/>
<path d="M117.1 592.4L120.5 592.4L118.8 595.3Z" fill="#b9113f"/>
<path d="M175.2 599.2L178.6 599.2L176.9 602.1Z" fill="#b9113f"/>
<text x="71.0" y="602.8" font-size="8.05" textLength="22.0" lengthAdjust="spacingAndGlyphs">p&lt;0.05</text>
<text x="117.8" y="612.0" font-size="8.05" textLength="20.8" lengthAdjust="spacingAndGlyphs">p&lt;0.01</text>
<text x="174.6" y="619.3" font-size="8.05" textLength="21.0" lengthAdjust="spacingAndGlyphs">p&lt;0.01</text>
<text x="208.0" y="342.0" font-size="12" textLength="5.0" lengthAdjust="spacingAndGlyphs">F</text>
<text x="298.9" y="342.7" font-size="9.77" textLength="59.3" lengthAdjust="spacingAndGlyphs">BM-chimerism</text>
<line x1="270.8" y1="370.4" x2="270.8" y2="450.5" stroke="#1a1a1a" stroke-width="1.7"/>
<line x1="267.8" y1="373.3" x2="270.8" y2="373.3" stroke="#222" stroke-width="1.1"/>
<text x="264.6" y="375.8" font-size="8.05" text-anchor="end" textLength="8.4" lengthAdjust="spacingAndGlyphs">60</text>
<line x1="267.8" y1="398.8" x2="270.8" y2="398.8" stroke="#222" stroke-width="1.1"/>
<text x="264.6" y="401.3" font-size="8.05" text-anchor="end" textLength="8.4" lengthAdjust="spacingAndGlyphs">40</text>
<line x1="267.8" y1="424.2" x2="270.8" y2="424.2" stroke="#222" stroke-width="1.1"/>
<text x="264.6" y="426.7" font-size="8.05" text-anchor="end" textLength="8.4" lengthAdjust="spacingAndGlyphs">20</text>
<line x1="267.8" y1="449.7" x2="270.8" y2="449.7" stroke="#222" stroke-width="1.1"/>
<text x="264.6" y="452.2" font-size="8.05" text-anchor="end" textLength="4.2" lengthAdjust="spacingAndGlyphs">0</text>
<line x1="269.0" y1="386.1" x2="270.8" y2="386.1" stroke="#222" stroke-width="0.9"/>
<line x1="269.0" y1="411.5" x2="270.8" y2="411.5" stroke="#222" stroke-width="0.9"/>
<line x1="269.0" y1="436.9" x2="270.8" y2="436.9" stroke="#222" stroke-width="0.9"/>
<line x1="270.0" y1="449.7" x2="386.0" y2="449.7" stroke="#1a1a1a" stroke-width="1.7"/>
<line x1="283.1" y1="449.7" x2="283.1" y2="452.3" stroke="#222" stroke-width="1.0"/>
<line x1="307.6" y1="449.7" x2="307.6" y2="452.3" stroke="#222" stroke-width="1.0"/>
<line x1="348.8" y1="449.7" x2="348.8" y2="452.3" stroke="#222" stroke-width="1.0"/>
<line x1="374.0" y1="449.7" x2="374.0" y2="452.3" stroke="#222" stroke-width="1.0"/>
<text x="238.2" y="408.8" font-size="9.89" text-anchor="middle" textLength="7.6" lengthAdjust="spacingAndGlyphs" transform="rotate(-90 238.2 408.8)">%</text>
<text x="248.0" y="408.9" font-size="10.7" text-anchor="middle" textLength="60.3" lengthAdjust="spacingAndGlyphs" transform="rotate(-90 248.0 408.9)">(CD45.2 in BM)</text>
<path d="M309.3 359.6V355.7Q309.3 354.7 310.3 354.7H374.8Q375.8 354.7 375.8 355.7V359.6" fill="none" stroke="#2a2a2a" stroke-width="1.2"/>
<text x="342.6" y="352.0" font-size="7.82" text-anchor="middle" textLength="17.3" lengthAdjust="spacingAndGlyphs">p&lt;0.1</text>
<path d="M281.0 373.2V369.1Q281.0 368.1 282.0 368.1H346.4Q347.4 368.1 347.4 369.1V373.2" fill="none" stroke="#2a2a2a" stroke-width="1.2"/>
<text x="314.2" y="366.3" font-size="8.05" text-anchor="middle" textLength="9.0" lengthAdjust="spacingAndGlyphs">NS</text>
<path d="M282.0 380.8V378.8Q282.0 377.8 283.0 377.8H307.1Q308.1 377.8 308.1 378.8V380.8" fill="none" stroke="#2a2a2a" stroke-width="1.2"/>
<text x="295.1" y="375.5" font-size="8.05" text-anchor="middle" textLength="8.8" lengthAdjust="spacingAndGlyphs">NS</text>
<path d="M350.8 385.0V382.3Q350.8 381.3 351.8 381.3H375.2Q376.2 381.3 376.2 382.3V385.0" fill="none" stroke="#2a2a2a" stroke-width="1.2"/>
<text x="363.5" y="379.0" font-size="7.82" text-anchor="middle" textLength="22.0" lengthAdjust="spacingAndGlyphs">p&lt;0.05</text>
<text x="283.1" y="462.4" font-size="8.74" text-anchor="middle" textLength="13.2" lengthAdjust="spacingAndGlyphs">PBS</text>
<text x="307.6" y="462.4" font-size="8.74" text-anchor="middle" textLength="12.9" lengthAdjust="spacingAndGlyphs">LPS</text>
<text x="348.8" y="462.4" font-size="8.74" text-anchor="middle" textLength="13.2" lengthAdjust="spacingAndGlyphs">PBS</text>
<text x="374.0" y="462.4" font-size="8.74" text-anchor="middle" textLength="12.9" lengthAdjust="spacingAndGlyphs">LPS</text>
<line x1="273.6" y1="466.5" x2="316.9" y2="466.5" stroke="#2a2a2a" stroke-width="1.0"/>
<line x1="340.0" y1="466.5" x2="382.0" y2="466.5" stroke="#2a2a2a" stroke-width="1.0"/>
<text x="295.3" y="475.9" font-size="8.62" text-anchor="middle" textLength="11.1" lengthAdjust="spacingAndGlyphs">WT</text>
<text x="361.3" y="475.9" font-size="8.62" text-anchor="middle" textLength="39.5" lengthAdjust="spacingAndGlyphs">Vav-KDM6B</text>
<line x1="282.8" y1="412.4" x2="282.8" y2="424.3" stroke="#222" stroke-width="1.2"/>
<line x1="279.1" y1="412.4" x2="286.5" y2="412.4" stroke="#222" stroke-width="1.3"/>
<line x1="279.1" y1="424.3" x2="286.5" y2="424.3" stroke="#222" stroke-width="1.3"/>
<line x1="274.7" y1="418.2" x2="290.9" y2="418.2" stroke="#6fb144" stroke-width="1.6"/>
<circle cx="282.8" cy="383.2" r="1.25" fill="#5ca12f"/>
<circle cx="280.6" cy="409.7" r="1.25" fill="#5ca12f"/>
<circle cx="285.5" cy="411.5" r="1.25" fill="#5ca12f"/>
<circle cx="285.0" cy="420.3" r="1.25" fill="#5ca12f"/>
<circle cx="281.0" cy="423.0" r="1.25" fill="#5ca12f"/>
<circle cx="283.0" cy="430.0" r="1.25" fill="#5ca12f"/>
<circle cx="285.5" cy="432.1" r="1.25" fill="#5ca12f"/>
<circle cx="280.6" cy="435.1" r="1.25" fill="#5ca12f"/>
<line x1="307.8" y1="421.3" x2="307.8" y2="430.4" stroke="#222" stroke-width="1.2"/>
<line x1="303.8" y1="421.3" x2="311.9" y2="421.3" stroke="#222" stroke-width="1.3"/>
<line x1="303.8" y1="430.4" x2="311.9" y2="430.4" stroke="#222" stroke-width="1.3"/>
<line x1="299.7" y1="425.9" x2="315.8" y2="425.9" stroke="#6fb144" stroke-width="1.6"/>
<circle cx="307.8" cy="407.5" r="1.85" fill="none" stroke="#6fb144" stroke-width="1.0"/>
<circle cx="310.0" cy="412.8" r="1.85" fill="none" stroke="#6fb144" stroke-width="1.0"/>
<circle cx="303.0" cy="416.0" r="1.85" fill="none" stroke="#6fb144" stroke-width="1.0"/>
<circle cx="305.5" cy="419.6" r="1.85" fill="none" stroke="#6fb144" stroke-width="1.0"/>
<circle cx="310.3" cy="420.3" r="1.85" fill="none" stroke="#6fb144" stroke-width="1.0"/>
<circle cx="307.8" cy="431.7" r="1.85" fill="none" stroke="#6fb144" stroke-width="1.0"/>
<circle cx="305.0" cy="438.9" r="1.85" fill="none" stroke="#6fb144" stroke-width="1.0"/>
<circle cx="310.3" cy="439.8" r="1.85" fill="none" stroke="#6fb144" stroke-width="1.0"/>
<circle cx="307.8" cy="445.6" r="1.85" fill="none" stroke="#6fb144" stroke-width="1.0"/>
<line x1="349.1" y1="414.3" x2="349.1" y2="420.2" stroke="#222" stroke-width="1.2"/>
<line x1="345.6" y1="414.3" x2="352.6" y2="414.3" stroke="#222" stroke-width="1.3"/>
<line x1="345.6" y1="420.2" x2="352.6" y2="420.2" stroke="#222" stroke-width="1.3"/>
<line x1="342.0" y1="417.0" x2="356.8" y2="417.0" stroke="#b9113f" stroke-width="1.6"/>
<rect x="347.4" y="398.9" width="3.4" height="3.4" fill="none" stroke="#b9113f" stroke-width="0.95"/>
<rect x="345.3" y="405.2" width="3.4" height="3.4" fill="none" stroke="#b9113f" stroke-width="0.95"/>
<rect x="349.8" y="408.6" width="3.4" height="3.4" fill="none" stroke="#b9113f" stroke-width="0.95"/>
<rect x="342.8" y="410.5" width="3.4" height="3.4" fill="none" stroke="#b9113f" stroke-width="0.95"/>
<rect x="347.3" y="413.7" width="3.4" height="3.4" fill="none" stroke="#b9113f" stroke-width="0.95"/>
<rect x="352.3" y="413.7" width="3.4" height="3.4" fill="none" stroke="#b9113f" stroke-width="0.95"/>
<rect x="341.3" y="417.4" width="3.4" height="3.4" fill="none" stroke="#b9113f" stroke-width="0.95"/>
<rect x="346.3" y="417.3" width="3.4" height="3.4" fill="none" stroke="#b9113f" stroke-width="0.95"/>
<rect x="353.8" y="418.5" width="3.4" height="3.4" fill="none" stroke="#b9113f" stroke-width="0.95"/>
<rect x="345.3" y="420.6" width="3.4" height="3.4" fill="none" stroke="#b9113f" stroke-width="0.95"/>
<rect x="349.3" y="422.2" width="3.4" height="3.4" fill="none" stroke="#b9113f" stroke-width="0.95"/>
<rect x="347.4" y="434.9" width="3.4" height="3.4" fill="none" stroke="#b9113f" stroke-width="0.95"/>
<line x1="374.0" y1="427.9" x2="374.0" y2="436.6" stroke="#222" stroke-width="1.2"/>
<line x1="370.0" y1="427.9" x2="378.0" y2="427.9" stroke="#222" stroke-width="1.3"/>
<line x1="370.0" y1="436.6" x2="378.0" y2="436.6" stroke="#222" stroke-width="1.3"/>
<line x1="365.7" y1="432.3" x2="382.1" y2="432.3" stroke="#b9113f" stroke-width="1.6"/>
<path d="M374.0 407.6L376.0 411.2H372.0Z" fill="none" stroke="#b9113f" stroke-width="0.95" stroke-linejoin="round"/>
<path d="M369.3 413.9L371.3 417.5H367.3Z" fill="none" stroke="#b9113f" stroke-width="0.95" stroke-linejoin="round"/>
<path d="M374.0 417.1L376.0 420.7H372.0Z" fill="none" stroke="#b9113f" stroke-width="0.95" stroke-linejoin="round"/>
<path d="M378.8 416.8L380.8 420.4H376.8Z" fill="none" stroke="#b9113f" stroke-width="0.95" stroke-linejoin="round"/>
<path d="M369.3 439.9L371.3 443.5H367.3Z" fill="none" stroke="#b9113f" stroke-width="0.95" stroke-linejoin="round"/>
<path d="M374.0 442.0L376.0 445.6H372.0Z" fill="none" stroke="#b9113f" stroke-width="0.95" stroke-linejoin="round"/>
<path d="M378.8 439.9L380.8 443.5H376.8Z" fill="none" stroke="#b9113f" stroke-width="0.95" stroke-linejoin="round"/>
<path d="M371.5 446.6L373.5 450.2H369.5Z" fill="none" stroke="#b9113f" stroke-width="0.95" stroke-linejoin="round"/>
<path d="M376.5 446.6L378.5 450.2H374.5Z" fill="none" stroke="#b9113f" stroke-width="0.95" stroke-linejoin="round"/>
<text x="213.8" y="504.0" font-size="12" textLength="7.4" lengthAdjust="spacingAndGlyphs">G</text>
<text x="286.2" y="505.8" font-size="9.77" textLength="90.0" lengthAdjust="spacingAndGlyphs">BM-LT HSC chimerism</text>
<line x1="270.6" y1="553.0" x2="270.6" y2="631.8" stroke="#1a1a1a" stroke-width="1.7"/>
<line x1="267.6" y1="556.8" x2="270.6" y2="556.8" stroke="#222" stroke-width="1.1"/>
<text x="264.6" y="559.3" font-size="8.05" text-anchor="end" textLength="12.6" lengthAdjust="spacingAndGlyphs">100</text>
<line x1="267.6" y1="571.6" x2="270.6" y2="571.6" stroke="#222" stroke-width="1.1"/>
<text x="264.6" y="574.1" font-size="8.05" text-anchor="end" textLength="8.4" lengthAdjust="spacingAndGlyphs">80</text>
<line x1="267.6" y1="586.5" x2="270.6" y2="586.5" stroke="#222" stroke-width="1.1"/>
<text x="264.6" y="589.0" font-size="8.05" text-anchor="end" textLength="8.4" lengthAdjust="spacingAndGlyphs">60</text>
<line x1="267.6" y1="601.4" x2="270.6" y2="601.4" stroke="#222" stroke-width="1.1"/>
<text x="264.6" y="603.9" font-size="8.05" text-anchor="end" textLength="8.4" lengthAdjust="spacingAndGlyphs">40</text>
<line x1="267.6" y1="616.2" x2="270.6" y2="616.2" stroke="#222" stroke-width="1.1"/>
<text x="264.6" y="618.7" font-size="8.05" text-anchor="end" textLength="8.4" lengthAdjust="spacingAndGlyphs">20</text>
<line x1="267.6" y1="631.0" x2="270.6" y2="631.0" stroke="#222" stroke-width="1.1"/>
<text x="264.6" y="633.5" font-size="8.05" text-anchor="end" textLength="4.2" lengthAdjust="spacingAndGlyphs">0</text>
<line x1="268.8" y1="564.2" x2="270.6" y2="564.2" stroke="#222" stroke-width="0.9"/>
<line x1="268.8" y1="579.0" x2="270.6" y2="579.0" stroke="#222" stroke-width="0.9"/>
<line x1="268.8" y1="594.0" x2="270.6" y2="594.0" stroke="#222" stroke-width="0.9"/>
<line x1="268.8" y1="608.8" x2="270.6" y2="608.8" stroke="#222" stroke-width="0.9"/>
<line x1="268.8" y1="623.6" x2="270.6" y2="623.6" stroke="#222" stroke-width="0.9"/>
<line x1="269.8" y1="631.0" x2="387.5" y2="631.0" stroke="#1a1a1a" stroke-width="1.7"/>
<line x1="284.9" y1="631.0" x2="284.9" y2="633.6" stroke="#222" stroke-width="1.0"/>
<line x1="306.8" y1="631.0" x2="306.8" y2="633.6" stroke="#222" stroke-width="1.0"/>
<line x1="354.8" y1="631.0" x2="354.8" y2="633.6" stroke="#222" stroke-width="1.0"/>
<line x1="376.7" y1="631.0" x2="376.7" y2="633.6" stroke="#222" stroke-width="1.0"/>
<text x="233.8" y="593.0" font-size="9.89" text-anchor="middle" textLength="7.5" lengthAdjust="spacingAndGlyphs" transform="rotate(-90 233.8 593.0)">%</text>
<text x="244.6" y="592.8" font-size="10.7" text-anchor="middle" textLength="92.0" lengthAdjust="spacingAndGlyphs" transform="rotate(-90 244.6 592.8)">(CD45.2 in BM LT-HSC)</text>
<path d="M311.1 525.1V521.0Q311.1 520.0 312.1 520.0H376.4Q377.4 520.0 377.4 521.0V525.1" fill="none" stroke="#2a2a2a" stroke-width="1.2"/>
<text x="344.2" y="516.6" font-size="7.82" text-anchor="middle" textLength="21.5" lengthAdjust="spacingAndGlyphs">p&lt;0.05</text>
<path d="M282.7 538.0V534.4Q282.7 533.4 283.7 533.4H348.7Q349.7 533.4 349.7 534.4V538.0" fill="none" stroke="#2a2a2a" stroke-width="1.2"/>
<text x="316.2" y="531.1" font-size="8.05" text-anchor="middle" textLength="8.7" lengthAdjust="spacingAndGlyphs">NS</text>
<path d="M283.9 549.6V546.9Q283.9 545.9 284.9 545.9H308.7Q309.7 545.9 309.7 546.9V549.6" fill="none" stroke="#2a2a2a" stroke-width="1.2"/>
<text x="296.8" y="543.6" font-size="8.05" text-anchor="middle" textLength="8.6" lengthAdjust="spacingAndGlyphs">NS</text>
<path d="M352.7 553.5V551.5Q352.7 550.5 353.7 550.5H377.5Q378.5 550.5 378.5 551.5V553.5" fill="none" stroke="#2a2a2a" stroke-width="1.2"/>
<text x="365.6" y="546.6" font-size="7.82" text-anchor="middle" textLength="16.9" lengthAdjust="spacingAndGlyphs">p&lt;0.1</text>
<text x="284.3" y="643.4" font-size="8.74" text-anchor="middle" textLength="13.0" lengthAdjust="spacingAndGlyphs">PBS</text>
<text x="307.3" y="643.4" font-size="8.74" text-anchor="middle" textLength="12.7" lengthAdjust="spacingAndGlyphs">LPS</text>
<text x="353.8" y="643.4" font-size="8.74" text-anchor="middle" textLength="13.0" lengthAdjust="spacingAndGlyphs">PBS</text>
<text x="377.5" y="643.4" font-size="8.74" text-anchor="middle" textLength="12.7" lengthAdjust="spacingAndGlyphs">LPS</text>
<line x1="274.0" y1="648.5" x2="318.9" y2="648.5" stroke="#2a2a2a" stroke-width="1.0"/>
<line x1="344.4" y1="648.5" x2="387.5" y2="648.5" stroke="#2a2a2a" stroke-width="1.0"/>
<text x="296.4" y="657.8" font-size="8.62" text-anchor="middle" textLength="11.0" lengthAdjust="spacingAndGlyphs">WT</text>
<text x="366.1" y="657.8" font-size="8.62" text-anchor="middle" textLength="40.2" lengthAdjust="spacingAndGlyphs">Vav-KDM6B</text>
<line x1="284.9" y1="570.4" x2="284.9" y2="579.6" stroke="#222" stroke-width="1.2"/>
<line x1="280.0" y1="570.4" x2="289.8" y2="570.4" stroke="#222" stroke-width="1.3"/>
<line x1="280.0" y1="579.6" x2="289.8" y2="579.6" stroke="#222" stroke-width="1.3"/>
<line x1="275.4" y1="575.1" x2="294.7" y2="575.1" stroke="#6fb144" stroke-width="1.6"/>
<circle cx="284.9" cy="556.6" r="1.25" fill="#5ca12f"/>
<circle cx="282.6" cy="565.5" r="1.25" fill="#5ca12f"/>
<circle cx="287.4" cy="563.0" r="1.25" fill="#5ca12f"/>
<circle cx="284.9" cy="575.4" r="1.25" fill="#5ca12f"/>
<circle cx="284.9" cy="586.6" r="1.25" fill="#5ca12f"/>
<circle cx="282.6" cy="591.3" r="1.25" fill="#5ca12f"/>
<circle cx="287.4" cy="590.1" r="1.25" fill="#5ca12f"/>
<line x1="306.8" y1="574.4" x2="306.8" y2="585.6" stroke="#222" stroke-width="1.2"/>
<line x1="301.9" y1="574.4" x2="311.7" y2="574.4" stroke="#222" stroke-width="1.3"/>
<line x1="301.9" y1="585.6" x2="311.7" y2="585.6" stroke="#222" stroke-width="1.3"/>
<line x1="297.5" y1="580.3" x2="316.6" y2="580.3" stroke="#6fb144" stroke-width="1.6"/>
<circle cx="304.6" cy="556.6" r="1.85" fill="none" stroke="#6fb144" stroke-width="1.0"/>
<circle cx="309.2" cy="556.6" r="1.85" fill="none" stroke="#6fb144" stroke-width="1.0"/>
<circle cx="306.8" cy="569.7" r="1.85" fill="none" stroke="#6fb144" stroke-width="1.0"/>
<circle cx="304.3" cy="582.0" r="1.85" fill="none" stroke="#6fb144" stroke-width="1.0"/>
<circle cx="309.5" cy="581.8" r="1.85" fill="none" stroke="#6fb144" stroke-width="1.0"/>
<circle cx="304.3" cy="588.8" r="1.85" fill="none" stroke="#6fb144" stroke-width="1.0"/>
<circle cx="309.5" cy="587.2" r="1.85" fill="none" stroke="#6fb144" stroke-width="1.0"/>
<circle cx="306.8" cy="593.9" r="1.85" fill="none" stroke="#6fb144" stroke-width="1.0"/>
<circle cx="306.8" cy="606.2" r="1.85" fill="none" stroke="#6fb144" stroke-width="1.0"/>
<line x1="354.8" y1="579.9" x2="354.8" y2="589.4" stroke="#222" stroke-width="1.2"/>
<line x1="349.9" y1="579.9" x2="359.8" y2="579.9" stroke="#222" stroke-width="1.3"/>
<line x1="349.9" y1="589.4" x2="359.8" y2="589.4" stroke="#222" stroke-width="1.3"/>
<line x1="345.2" y1="584.6" x2="364.6" y2="584.6" stroke="#b9113f" stroke-width="1.6"/>
<rect x="350.8" y="562.3" width="3.4" height="3.4" fill="none" stroke="#b9113f" stroke-width="0.95"/>
<rect x="358.1" y="564.8" width="3.4" height="3.4" fill="none" stroke="#b9113f" stroke-width="0.95"/>
<rect x="355.8" y="568.4" width="3.4" height="3.4" fill="none" stroke="#b9113f" stroke-width="0.95"/>
<rect x="350.8" y="569.9" width="3.4" height="3.4" fill="none" stroke="#b9113f" stroke-width="0.95"/>
<rect x="353.1" y="577.3" width="3.4" height="3.4" fill="none" stroke="#b9113f" stroke-width="0.95"/>
<rect x="348.3" y="585.8" width="3.4" height="3.4" fill="none" stroke="#b9113f" stroke-width="0.95"/>
<rect x="358.1" y="586.7" width="3.4" height="3.4" fill="none" stroke="#b9113f" stroke-width="0.95"/>
<rect x="353.1" y="589.3" width="3.4" height="3.4" fill="none" stroke="#b9113f" stroke-width="0.95"/>
<rect x="350.8" y="593.8" width="3.4" height="3.4" fill="none" stroke="#b9113f" stroke-width="0.95"/>
<rect x="355.8" y="596.9" width="3.4" height="3.4" fill="none" stroke="#b9113f" stroke-width="0.95"/>
<rect x="353.1" y="616.4" width="3.4" height="3.4" fill="none" stroke="#b9113f" stroke-width="0.95"/>
<line x1="376.7" y1="591.3" x2="376.7" y2="607.9" stroke="#222" stroke-width="1.2"/>
<line x1="372.1" y1="591.3" x2="381.3" y2="591.3" stroke="#222" stroke-width="1.3"/>
<line x1="372.1" y1="607.9" x2="381.3" y2="607.9" stroke="#222" stroke-width="1.3"/>
<line x1="367.6" y1="599.4" x2="386.6" y2="599.4" stroke="#b9113f" stroke-width="1.6"/>
<path d="M374.2 555.0L376.2 558.6H372.2Z" fill="none" stroke="#b9113f" stroke-width="0.95" stroke-linejoin="round"/>
<path d="M379.2 555.0L381.2 558.6H377.2Z" fill="none" stroke="#b9113f" stroke-width="0.95" stroke-linejoin="round"/>
<path d="M376.7 586.8L378.7 590.4H374.7Z" fill="none" stroke="#b9113f" stroke-width="0.95" stroke-linejoin="round"/>
<path d="M374.5 597.6L376.5 601.2H372.5Z" fill="none" stroke="#b9113f" stroke-width="0.95" stroke-linejoin="round"/>
<path d="M379.0 597.6L381.0 601.2H377.0Z" fill="none" stroke="#b9113f" stroke-width="0.95" stroke-linejoin="round"/>
<path d="M376.7 604.6L378.7 608.2H374.7Z" fill="none" stroke="#b9113f" stroke-width="0.95" stroke-linejoin="round"/>
<path d="M376.7 610.6L378.7 614.2H374.7Z" fill="none" stroke="#b9113f" stroke-width="0.95" stroke-linejoin="round"/>
<path d="M376.7 618.0L378.7 621.6H374.7Z" fill="none" stroke="#b9113f" stroke-width="0.95" stroke-linejoin="round"/>
<path d="M374.5 626.4L376.5 630.0H372.5Z" fill="none" stroke="#b9113f" stroke-width="0.95" stroke-linejoin="round"/>
<path d="M379.0 625.0L381.0 628.6H377.0Z" fill="none" stroke="#b9113f" stroke-width="0.95" stroke-linejoin="round"/>
<text x="199.9" y="17.8" font-size="12" textLength="5.2" lengthAdjust="spacingAndGlyphs">E</text>
<line x1="213.1" y1="31.0" x2="213.1" y2="235.8" stroke="#333" stroke-width="1.3"/>
<path d="M213.1 25.2L216.4 32.8L209.8 32.8Z" fill="#111"/>
<text x="216.2" y="252.8" font-size="10.81" text-anchor="middle" textLength="28.0" lengthAdjust="spacingAndGlyphs" transform="rotate(-90 216.2 252.8)">CD45.1</text>
<line x1="263.0" y1="279.8" x2="502.0" y2="279.8" stroke="#333" stroke-width="1.3"/>
<path d="M508 279.8L500.4 276.5L500.4 283.1Z" fill="#111"/>
<text x="230.8" y="283.2" font-size="10.81" textLength="28.4" lengthAdjust="spacingAndGlyphs">CD45.2</text>
<line x1="235.9" y1="104.2" x2="238.5" y2="104.2" stroke="#333" stroke-width="0.9"/>
<text x="230.2" y="107.5" font-size="8.05" text-anchor="end" textLength="8.4" lengthAdjust="spacingAndGlyphs" fill="#333">10</text>
<text x="230.2" y="103.8" font-size="5.75" textLength="3.0" lengthAdjust="spacingAndGlyphs" fill="#333">0</text>
<line x1="267.3" y1="130.5" x2="267.3" y2="133.1" stroke="#333" stroke-width="0.9"/>
<text x="267.5" y="142.1" font-size="8.05" text-anchor="middle" textLength="8.4" lengthAdjust="spacingAndGlyphs" fill="#333">10</text>
<text x="271.7" y="138.5" font-size="5.75" textLength="3.0" lengthAdjust="spacingAndGlyphs" fill="#333">0</text>
<line x1="235.9" y1="78.1" x2="238.5" y2="78.1" stroke="#333" stroke-width="0.9"/>
<text x="230.2" y="81.4" font-size="8.05" text-anchor="end" textLength="8.4" lengthAdjust="spacingAndGlyphs" fill="#333">10</text>
<text x="230.2" y="77.7" font-size="5.75" textLength="3.0" lengthAdjust="spacingAndGlyphs" fill="#333">1</text>
<line x1="297.3" y1="130.5" x2="297.3" y2="133.1" stroke="#333" stroke-width="0.9"/>
<text x="297.5" y="142.1" font-size="8.05" text-anchor="middle" textLength="8.4" lengthAdjust="spacingAndGlyphs" fill="#333">10</text>
<text x="301.7" y="138.5" font-size="5.75" textLength="3.0" lengthAdjust="spacingAndGlyphs" fill="#333">1</text>
<line x1="235.9" y1="52.0" x2="238.5" y2="52.0" stroke="#333" stroke-width="0.9"/>
<text x="230.2" y="55.3" font-size="8.05" text-anchor="end" textLength="8.4" lengthAdjust="spacingAndGlyphs" fill="#333">10</text>
<text x="230.2" y="51.6" font-size="5.75" textLength="3.0" lengthAdjust="spacingAndGlyphs" fill="#333">2</text>
<line x1="327.3" y1="130.5" x2="327.3" y2="133.1" stroke="#333" stroke-width="0.9"/>
<text x="327.5" y="142.1" font-size="8.05" text-anchor="middle" textLength="8.4" lengthAdjust="spacingAndGlyphs" fill="#333">10</text>
<text x="331.7" y="138.5" font-size="5.75" textLength="3.0" lengthAdjust="spacingAndGlyphs" fill="#333">2</text>
<line x1="235.9" y1="25.9" x2="238.5" y2="25.9" stroke="#333" stroke-width="0.9"/>
<text x="230.2" y="29.2" font-size="8.05" text-anchor="end" textLength="8.4" lengthAdjust="spacingAndGlyphs" fill="#333">10</text>
<text x="230.2" y="25.5" font-size="5.75" textLength="3.0" lengthAdjust="spacingAndGlyphs" fill="#333">3</text>
<line x1="357.3" y1="130.5" x2="357.3" y2="133.1" stroke="#333" stroke-width="0.9"/>
<text x="357.5" y="142.1" font-size="8.05" text-anchor="middle" textLength="8.4" lengthAdjust="spacingAndGlyphs" fill="#333">10</text>
<text x="361.7" y="138.5" font-size="5.75" textLength="3.0" lengthAdjust="spacingAndGlyphs" fill="#333">3</text>
<path d="M246.3 130.5v1.4M238.5 122.4h1.3M251.6 130.5v1.4M238.5 117.8h1.3M255.4 130.5v1.4M238.5 114.6h1.3M258.3 130.5v1.4M238.5 112.1h1.3M260.6 130.5v1.4M238.5 110.0h1.3M262.7 130.5v1.4M238.5 108.2h1.3M264.4 130.5v1.4M238.5 106.7h1.3M265.9 130.5v1.4M238.5 105.4h1.3M276.3 130.5v1.4M238.5 96.3h1.3M281.6 130.5v1.4M238.5 91.7h1.3M285.4 130.5v1.4M238.5 88.5h1.3M288.3 130.5v1.4M238.5 86.0h1.3M290.6 130.5v1.4M238.5 83.9h1.3M292.7 130.5v1.4M238.5 82.1h1.3M294.4 130.5v1.4M238.5 80.6h1.3M295.9 130.5v1.4M238.5 79.3h1.3M306.3 130.5v1.4M238.5 70.2h1.3M311.6 130.5v1.4M238.5 65.6h1.3M315.4 130.5v1.4M238.5 62.4h1.3M318.3 130.5v1.4M238.5 59.9h1.3M320.6 130.5v1.4M238.5 57.8h1.3M322.7 130.5v1.4M238.5 56.0h1.3M324.4 130.5v1.4M238.5 54.5h1.3M325.9 130.5v1.4M238.5 53.2h1.3M336.3 130.5v1.4M238.5 44.1h1.3M341.6 130.5v1.4M238.5 39.5h1.3M345.4 130.5v1.4M238.5 36.3h1.3M348.3 130.5v1.4M238.5 33.8h1.3M350.6 130.5v1.4M238.5 31.7h1.3M352.7 130.5v1.4M238.5 29.9h1.3M354.4 130.5v1.4M238.5 28.4h1.3M355.9 130.5v1.4M238.5 27.1h1.3" stroke="#555" stroke-width="0.6"/>
<path d="M277.4 41.9h.6v.6h-.6zM315.7 33.8h.6v.6h-.6zM302.2 64.0h.6v.6h-.6zM246.3 78.7h.6v.6h-.6zM243.9 71.1h.6v.6h-.6zM247.7 35.7h.6v.6h-.6zM289.2 111.6h.6v.6h-.6zM254.0 49.3h.6v.6h-.6zM312.9 124.1h.6v.6h-.6zM307.0 67.2h.6v.6h-.6zM353.7 31.1h.6v.6h-.6zM339.9 56.2h.6v.6h-.6zM256.4 38.5h.6v.6h-.6zM275.6 110.5h.6v.6h-.6zM260.6 86.3h.6v.6h-.6zM314.3 64.7h.6v.6h-.6zM303.6 32.8h.6v.6h-.6zM246.5 47.6h.6v.6h-.6zM319.1 70.4h.6v.6h-.6zM276.3 86.7h.6v.6h-.6zM292.5 57.2h.6v.6h-.6zM332.4 98.4h.6v.6h-.6zM268.1 85.6h.6v.6h-.6zM300.9 116.6h.6v.6h-.6zM324.8 56.0h.6v.6h-.6zM354.2 38.5h.6v.6h-.6zM288.4 104.4h.6v.6h-.6zM257.3 76.8h.6v.6h-.6zM244.1 95.3h.6v.6h-.6zM329.0 85.4h.6v.6h-.6zM341.9 58.7h.6v.6h-.6zM320.8 87.6h.6v.6h-.6zM307.3 73.4h.6v.6h-.6zM337.8 123.8h.6v.6h-.6zM295.0 94.8h.6v.6h-.6zM246.6 98.7h.6v.6h-.6zM315.2 128.8h.6v.6h-.6zM335.7 55.7h.6v.6h-.6zM284.6 95.3h.6v.6h-.6zM242.1 73.9h.6v.6h-.6zM259.2 38.4h.6v.6h-.6zM246.4 105.6h.6v.6h-.6zM254.6 51.9h.6v.6h-.6zM285.2 116.2h.6v.6h-.6zM248.9 72.7h.6v.6h-.6zM303.8 117.5h.6v.6h-.6zM335.4 115.5h.6v.6h-.6zM272.1 69.2h.6v.6h-.6zM281.5 117.5h.6v.6h-.6zM351.6 41.9h.6v.6h-.6zM260.1 50.2h.6v.6h-.6zM266.8 76.3h.6v.6h-.6zM308.4 53.4h.6v.6h-.6zM240.0 69.5h.6v.6h-.6zM282.7 84.7h.6v.6h-.6zM351.0 97.6h.6v.6h-.6zM299.8 90.0h.6v.6h-.6zM318.6 31.9h.6v.6h-.6zM344.7 106.8h.6v.6h-.6zM341.8 108.6h.6v.6h-.6zM285.4 67.5h.6v.6h-.6zM251.6 91.8h.6v.6h-.6zM246.8 33.3h.6v.6h-.6zM263.9 43.0h.6v.6h-.6zM279.3 31.7h.6v.6h-.6zM239.5 41.9h.6v.6h-.6zM251.4 63.8h.6v.6h-.6zM242.5 116.5h.6v.6h-.6zM311.3 41.6h.6v.6h-.6zM269.0 62.2h.6v.6h-.6zM282.1 39.0h.6v.6h-.6zM338.8 128.8h.6v.6h-.6zM294.0 76.2h.6v.6h-.6zM249.5 36.8h.6v.6h-.6zM279.6 53.6h.6v.6h-.6zM336.5 43.0h.6v.6h-.6zM242.2 124.4h.6v.6h-.6zM301.3 41.4h.6v.6h-.6zM303.1 29.1h.6v.6h-.6zM301.3 127.3h.6v.6h-.6zM340.5 98.1h.6v.6h-.6zM270.1 64.1h.6v.6h-.6zM259.0 106.0h.6v.6h-.6zM301.8 106.7h.6v.6h-.6zM278.1 49.3h.6v.6h-.6zM334.4 127.9h.6v.6h-.6zM339.3 109.5h.6v.6h-.6zM335.2 102.7h.6v.6h-.6zM266.0 79.7h.6v.6h-.6zM281.1 29.3h.6v.6h-.6zM242.8 55.1h.6v.6h-.6zM269.8 97.8h.6v.6h-.6zM351.4 72.5h.6v.6h-.6zM349.1 128.3h.6v.6h-.6zM351.2 63.9h.6v.6h-.6zM265.3 49.7h.6v.6h-.6zM262.5 47.4h.6v.6h-.6zM312.5 119.2h.6v.6h-.6zM337.8 75.8h.6v.6h-.6zM315.9 108.8h.6v.6h-.6zM249.4 94.5h.6v.6h-.6zM345.9 107.0h.6v.6h-.6zM327.3 75.6h.6v.6h-.6zM260.4 107.7h.6v.6h-.6zM278.4 108.9h.6v.6h-.6zM353.2 67.2h.6v.6h-.6zM286.5 124.0h.6v.6h-.6zM324.3 43.8h.6v.6h-.6zM254.4 41.9h.6v.6h-.6zM345.4 109.5h.6v.6h-.6zM256.6 111.6h.6v.6h-.6zM354.2 94.1h.6v.6h-.6zM280.5 82.9h.6v.6h-.6zM254.8 27.8h.6v.6h-.6zM353.1 93.3h.6v.6h-.6zM301.1 122.7h.6v.6h-.6zM290.3 116.3h.6v.6h-.6zM336.2 48.1h.6v.6h-.6zM269.0 56.5h.6v.6h-.6zM267.6 86.8h.6v.6h-.6zM269.8 69.5h.6v.6h-.6zM254.8 120.2h.6v.6h-.6zM280.9 73.6h.6v.6h-.6zM307.8 119.6h.6v.6h-.6zM288.7 121.0h.6v.6h-.6zM298.2 81.2h.6v.6h-.6zM300.8 28.2h.6v.6h-.6zM291.0 45.2h.6v.6h-.6zM240.0 108.8h.6v.6h-.6zM259.7 75.2h.6v.6h-.6zM324.3 83.7h.6v.6h-.6zM277.6 79.8h.6v.6h-.6zM304.5 107.2h.6v.6h-.6zM251.9 84.1h.6v.6h-.6zM268.6 54.9h.6v.6h-.6zM329.9 78.7h.6v.6h-.6zM305.2 104.7h.6v.6h-.6zM346.3 72.0h.6v.6h-.6zM311.2 78.5h.6v.6h-.6zM299.4 97.8h.6v.6h-.6zM292.4 81.3h.6v.6h-.6zM295.4 123.5h.6v.6h-.6zM321.3 116.8h.6v.6h-.6zM349.7 53.1h.6v.6h-.6zM305.0 123.6h.6v.6h-.6zM337.8 40.5h.6v.6h-.6zM253.7 71.9h.6v.6h-.6zM248.0 51.1h.6v.6h-.6zM248.1 95.4h.6v.6h-.6zM331.2 118.9h.6v.6h-.6zM257.6 100.2h.6v.6h-.6zM316.8 41.1h.6v.6h-.6zM342.8 126.2h.6v.6h-.6zM265.2 124.6h.6v.6h-.6zM286.1 76.6h.6v.6h-.6zM355.3 112.2h.6v.6h-.6zM258.4 70.8h.6v.6h-.6zM299.8 61.3h.6v.6h-.6zM262.4 59.2h.6v.6h-.6zM324.0 28.3h.6v.6h-.6zM304.3 71.8h.6v.6h-.6zM241.6 60.5h.6v.6h-.6zM312.5 79.2h.6v.6h-.6zM247.0 128.0h.6v.6h-.6zM331.7 126.6h.6v.6h-.6zM251.8 53.7h.6v.6h-.6zM244.1 106.7h.6v.6h-.6zM271.1 39.7h.6v.6h-.6zM288.9 120.4h.6v.6h-.6zM335.3 53.0h.6v.6h-.6zM257.0 121.2h.6v.6h-.6zM306.3 98.6h.6v.6h-.6zM250.0 32.2h.6v.6h-.6zM320.0 70.2h.6v.6h-.6zM248.0 123.1h.6v.6h-.6zM313.7 109.0h.6v.6h-.6zM249.3 114.7h.6v.6h-.6zM247.3 115.3h.6v.6h-.6zM292.6 61.3h.6v.6h-.6zM304.2 121.9h.6v.6h-.6zM270.8 39.6h.6v.6h-.6zM301.1 50.9h.6v.6h-.6zM252.3 43.0h.6v.6h-.6zM245.4 47.1h.6v.6h-.6zM276.0 57.8h.6v.6h-.6zM328.4 56.2h.6v.6h-.6zM298.0 44.7h.6v.6h-.6zM280.1 28.2h.6v.6h-.6zM268.8 27.9h.6v.6h-.6zM325.3 83.2h.6v.6h-.6zM261.7 75.3h.6v.6h-.6zM348.9 37.3h.6v.6h-.6zM335.3 70.9h.6v.6h-.6zM297.4 112.4h.6v.6h-.6zM285.5 78.6h.6v.6h-.6zM320.0 127.7h.6v.6h-.6zM279.6 112.2h.6v.6h-.6zM322.2 91.9h.6v.6h-.6zM286.8 62.2h.6v.6h-.6zM245.9 39.7h.6v.6h-.6zM247.8 102.8h.6v.6h-.6zM269.4 43.1h.6v.6h-.6zM249.4 113.1h.6v.6h-.6zM341.4 95.5h.6v.6h-.6zM272.5 51.3h.6v.6h-.6zM273.8 73.7h.6v.6h-.6zM257.9 72.3h.6v.6h-.6zM270.3 125.6h.6v.6h-.6zM353.3 82.8h.6v.6h-.6zM268.1 126.0h.6v.6h-.6zM275.7 63.1h.6v.6h-.6zM239.6 65.7h.6v.6h-.6zM295.0 78.2h.6v.6h-.6zM263.0 78.4h.6v.6h-.6zM240.1 53.6h.6v.6h-.6zM250.0 67.5h.6v.6h-.6zM244.4 28.6h.6v.6h-.6zM275.1 50.3h.6v.6h-.6zM308.0 80.9h.6v.6h-.6zM327.3 94.2h.6v.6h-.6zM323.3 117.0h.6v.6h-.6zM285.1 60.0h.6v.6h-.6zM354.7 41.7h.6v.6h-.6zM324.2 92.7h.6v.6h-.6zM244.6 112.5h.6v.6h-.6zM343.9 91.0h.6v.6h-.6zM325.4 110.1h.6v.6h-.6zM255.8 80.4h.6v.6h-.6zM298.5 112.5h.6v.6h-.6zM333.6 111.6h.6v.6h-.6zM307.8 118.4h.6v.6h-.6zM319.4 97.9h.6v.6h-.6zM266.4 29.5h.6v.6h-.6zM255.1 63.5h.6v.6h-.6zM251.8 112.6h.6v.6h-.6zM304.8 91.1h.6v.6h-.6zM312.8 96.5h.6v.6h-.6zM296.7 26.6h.6v.6h-.6zM332.8 103.5h.6v.6h-.6zM298.3 81.5h.6v.6h-.6zM316.6 33.1h.6v.6h-.6zM325.7 52.3h.6v.6h-.6zM248.2 53.7h.6v.6h-.6zM324.8 47.5h.6v.6h-.6zM326.1 127.0h.6v.6h-.6zM297.3 65.8h.6v.6h-.6zM295.5 96.9h.6v.6h-.6zM329.2 90.0h.6v.6h-.6zM314.7 34.3h.6v.6h-.6zM256.7 52.5h.6v.6h-.6zM326.5 57.7h.6v.6h-.6zM305.9 27.6h.6v.6h-.6zM246.6 54.0h.6v.6h-.6zM318.1 97.7h.6v.6h-.6zM318.6 56.3h.6v.6h-.6zM299.9 74.3h.6v.6h-.6zM294.1 38.5h.6v.6h-.6zM344.1 46.9h.6v.6h-.6zM353.9 122.9h.6v.6h-.6zM241.5 73.7h.6v.6h-.6z" fill="#e8a8a0" fill-opacity="0.2"/>
<ellipse cx="276.0" cy="54.0" rx="26" ry="20" fill="url(#halo)" opacity="1" transform="rotate(0 276.0 54.0)"/>
<ellipse cx="276.0" cy="54.0" rx="14" ry="11" fill="url(#halo)" opacity="1" transform="rotate(0 276.0 54.0)"/>
<ellipse cx="323.0" cy="52.0" rx="16" ry="12" fill="url(#halo)" opacity="0.8" transform="rotate(0 323.0 52.0)"/>
<ellipse cx="322.0" cy="100.0" rx="24" ry="34" fill="url(#halo)" opacity="1" transform="rotate(0 322.0 100.0)"/>
<path d="M286.0 37.4h.7v.7h-.7zM269.2 55.7h.7v.7h-.7zM281.4 70.4h.7v.7h-.7zM278.9 63.0h.7v.7h-.7zM282.9 60.6h.7v.7h-.7zM280.6 52.9h.7v.7h-.7zM280.6 46.5h.7v.7h-.7zM286.6 46.9h.7v.7h-.7zM278.2 68.8h.7v.7h-.7zM274.0 54.1h.7v.7h-.7zM286.5 54.2h.7v.7h-.7zM268.7 55.8h.7v.7h-.7zM281.2 59.0h.7v.7h-.7zM269.0 66.3h.7v.7h-.7zM291.0 54.1h.7v.7h-.7zM278.4 51.0h.7v.7h-.7zM288.7 49.1h.7v.7h-.7zM282.1 50.6h.7v.7h-.7zM269.8 59.0h.7v.7h-.7zM288.0 53.9h.7v.7h-.7zM269.9 59.7h.7v.7h-.7zM275.6 56.2h.7v.7h-.7zM289.7 61.9h.7v.7h-.7zM271.3 70.0h.7v.7h-.7zM276.0 59.5h.7v.7h-.7zM270.2 53.7h.7v.7h-.7zM260.3 66.5h.7v.7h-.7zM288.3 45.5h.7v.7h-.7zM262.5 42.7h.7v.7h-.7zM286.6 50.8h.7v.7h-.7zM275.5 51.8h.7v.7h-.7zM274.9 46.4h.7v.7h-.7zM276.2 43.9h.7v.7h-.7zM275.4 56.2h.7v.7h-.7zM280.2 52.4h.7v.7h-.7zM267.9 55.1h.7v.7h-.7zM271.6 65.0h.7v.7h-.7zM282.9 53.2h.7v.7h-.7zM271.8 49.1h.7v.7h-.7zM267.6 51.5h.7v.7h-.7zM278.7 57.6h.7v.7h-.7zM281.1 68.7h.7v.7h-.7zM269.7 54.1h.7v.7h-.7zM301.2 40.9h.7v.7h-.7zM271.3 55.2h.7v.7h-.7zM277.4 56.9h.7v.7h-.7zM273.9 56.6h.7v.7h-.7zM276.5 59.4h.7v.7h-.7zM259.0 47.8h.7v.7h-.7zM276.0 46.8h.7v.7h-.7zM266.6 58.4h.7v.7h-.7zM270.2 58.4h.7v.7h-.7zM282.7 56.1h.7v.7h-.7zM280.6 53.3h.7v.7h-.7zM263.3 53.8h.7v.7h-.7zM280.1 50.3h.7v.7h-.7zM275.1 59.2h.7v.7h-.7zM268.1 58.5h.7v.7h-.7zM292.8 50.1h.7v.7h-.7zM277.3 52.9h.7v.7h-.7zM289.9 56.2h.7v.7h-.7zM284.1 49.2h.7v.7h-.7zM275.9 53.9h.7v.7h-.7zM260.0 64.1h.7v.7h-.7zM284.1 41.8h.7v.7h-.7zM282.7 53.1h.7v.7h-.7zM280.0 56.6h.7v.7h-.7zM262.5 52.5h.7v.7h-.7zM289.4 50.0h.7v.7h-.7zM266.8 44.5h.7v.7h-.7zM265.0 56.3h.7v.7h-.7zM291.2 57.0h.7v.7h-.7zM278.2 69.6h.7v.7h-.7zM271.3 49.3h.7v.7h-.7zM280.8 57.8h.7v.7h-.7zM266.9 45.8h.7v.7h-.7zM278.6 55.7h.7v.7h-.7zM264.2 52.6h.7v.7h-.7zM271.1 57.2h.7v.7h-.7zM274.9 53.4h.7v.7h-.7zM272.8 61.4h.7v.7h-.7zM288.5 51.4h.7v.7h-.7zM283.6 48.7h.7v.7h-.7zM276.6 59.2h.7v.7h-.7zM289.6 51.3h.7v.7h-.7zM275.3 55.4h.7v.7h-.7zM262.5 54.1h.7v.7h-.7zM269.9 56.6h.7v.7h-.7zM265.8 40.2h.7v.7h-.7zM276.3 55.8h.7v.7h-.7zM271.1 60.2h.7v.7h-.7zM273.5 49.8h.7v.7h-.7zM280.3 43.0h.7v.7h-.7zM269.9 53.9h.7v.7h-.7zM283.6 52.9h.7v.7h-.7zM278.8 49.4h.7v.7h-.7zM278.7 65.6h.7v.7h-.7zM269.8 70.6h.7v.7h-.7zM270.2 54.1h.7v.7h-.7zM277.6 61.2h.7v.7h-.7zM264.9 39.3h.7v.7h-.7zM281.5 59.6h.7v.7h-.7zM281.6 72.4h.7v.7h-.7zM277.8 55.8h.7v.7h-.7zM284.4 56.6h.7v.7h-.7zM291.0 45.3h.7v.7h-.7zM272.6 29.9h.7v.7h-.7zM283.3 51.4h.7v.7h-.7zM284.3 69.1h.7v.7h-.7zM275.9 52.2h.7v.7h-.7zM271.5 48.1h.7v.7h-.7zM270.3 58.5h.7v.7h-.7zM276.3 54.5h.7v.7h-.7zM274.4 60.4h.7v.7h-.7zM280.4 53.0h.7v.7h-.7zM282.0 52.9h.7v.7h-.7zM265.6 64.2h.7v.7h-.7zM280.2 47.3h.7v.7h-.7zM285.7 56.4h.7v.7h-.7zM261.9 65.3h.7v.7h-.7zM279.0 60.2h.7v.7h-.7zM277.8 53.0h.7v.7h-.7zM262.1 60.8h.7v.7h-.7zM276.3 52.0h.7v.7h-.7zM279.2 54.5h.7v.7h-.7zM282.1 51.4h.7v.7h-.7zM275.7 39.0h.7v.7h-.7zM272.2 58.7h.7v.7h-.7zM288.0 51.5h.7v.7h-.7zM274.9 65.1h.7v.7h-.7zM273.1 59.1h.7v.7h-.7zM291.1 54.3h.7v.7h-.7zM287.0 49.0h.7v.7h-.7zM277.9 53.5h.7v.7h-.7zM277.0 61.9h.7v.7h-.7zM297.5 49.3h.7v.7h-.7zM270.8 57.5h.7v.7h-.7zM266.5 57.5h.7v.7h-.7zM281.1 52.1h.7v.7h-.7zM280.8 43.2h.7v.7h-.7zM282.8 43.2h.7v.7h-.7zM269.7 50.1h.7v.7h-.7zM272.4 60.0h.7v.7h-.7zM276.7 51.2h.7v.7h-.7zM280.9 65.1h.7v.7h-.7zM276.1 56.6h.7v.7h-.7zM287.2 55.9h.7v.7h-.7zM264.4 71.4h.7v.7h-.7zM295.9 40.1h.7v.7h-.7zM275.6 56.9h.7v.7h-.7zM284.7 58.7h.7v.7h-.7zM273.6 46.6h.7v.7h-.7zM276.9 61.2h.7v.7h-.7zM266.2 46.8h.7v.7h-.7zM275.8 40.4h.7v.7h-.7zM273.7 50.9h.7v.7h-.7zM280.1 49.1h.7v.7h-.7zM268.1 51.2h.7v.7h-.7zM275.6 49.3h.7v.7h-.7zM276.1 59.3h.7v.7h-.7zM286.7 65.9h.7v.7h-.7zM268.9 51.1h.7v.7h-.7zM253.7 67.3h.7v.7h-.7zM269.5 53.8h.7v.7h-.7zM280.7 44.5h.7v.7h-.7zM280.2 53.8h.7v.7h-.7zM259.6 56.0h.7v.7h-.7zM286.8 40.9h.7v.7h-.7zM283.3 55.5h.7v.7h-.7zM280.3 57.1h.7v.7h-.7zM287.7 52.4h.7v.7h-.7zM283.9 51.1h.7v.7h-.7zM282.6 48.3h.7v.7h-.7zM275.0 66.1h.7v.7h-.7zM280.0 52.9h.7v.7h-.7zM265.7 48.5h.7v.7h-.7zM277.7 60.6h.7v.7h-.7zM279.8 57.7h.7v.7h-.7zM275.6 63.5h.7v.7h-.7zM272.5 50.2h.7v.7h-.7zM284.0 54.4h.7v.7h-.7zM273.5 50.0h.7v.7h-.7zM273.7 58.4h.7v.7h-.7zM279.2 45.5h.7v.7h-.7zM279.8 55.3h.7v.7h-.7zM267.0 59.4h.7v.7h-.7zM273.5 51.7h.7v.7h-.7zM283.2 63.2h.7v.7h-.7zM269.8 57.1h.7v.7h-.7zM268.1 70.2h.7v.7h-.7zM271.6 62.4h.7v.7h-.7zM270.2 59.7h.7v.7h-.7zM296.0 36.2h.7v.7h-.7zM272.1 57.5h.7v.7h-.7zM275.2 49.3h.7v.7h-.7zM295.4 54.6h.7v.7h-.7zM261.2 60.0h.7v.7h-.7zM260.5 62.1h.7v.7h-.7zM270.8 55.0h.7v.7h-.7zM287.3 54.8h.7v.7h-.7zM263.5 42.1h.7v.7h-.7zM286.6 59.2h.7v.7h-.7zM268.7 60.0h.7v.7h-.7zM280.5 58.5h.7v.7h-.7zM255.7 51.9h.7v.7h-.7zM284.1 59.1h.7v.7h-.7zM283.9 36.8h.7v.7h-.7zM277.5 57.4h.7v.7h-.7zM299.0 47.3h.7v.7h-.7zM273.0 54.3h.7v.7h-.7zM284.0 50.9h.7v.7h-.7zM286.3 48.5h.7v.7h-.7zM278.4 50.3h.7v.7h-.7zM277.4 49.2h.7v.7h-.7zM261.6 61.7h.7v.7h-.7zM278.7 50.1h.7v.7h-.7zM277.8 60.9h.7v.7h-.7zM267.2 53.2h.7v.7h-.7zM280.9 57.7h.7v.7h-.7zM273.0 39.3h.7v.7h-.7zM287.2 56.3h.7v.7h-.7zM276.1 52.1h.7v.7h-.7zM278.4 51.0h.7v.7h-.7zM266.8 48.8h.7v.7h-.7zM270.6 49.7h.7v.7h-.7zM265.6 58.5h.7v.7h-.7zM264.2 58.6h.7v.7h-.7zM266.9 56.5h.7v.7h-.7zM288.4 55.4h.7v.7h-.7zM269.4 54.3h.7v.7h-.7zM277.3 41.9h.7v.7h-.7zM270.5 55.1h.7v.7h-.7zM271.8 54.6h.7v.7h-.7zM282.6 59.4h.7v.7h-.7zM284.2 58.1h.7v.7h-.7zM273.4 53.9h.7v.7h-.7zM273.6 51.8h.7v.7h-.7zM274.4 41.9h.7v.7h-.7zM273.0 53.8h.7v.7h-.7zM267.2 53.8h.7v.7h-.7zM280.6 52.8h.7v.7h-.7zM294.7 35.8h.7v.7h-.7zM274.1 41.2h.7v.7h-.7zM284.8 72.6h.7v.7h-.7zM253.5 54.9h.7v.7h-.7zM280.7 51.9h.7v.7h-.7zM281.0 38.3h.7v.7h-.7zM283.7 56.6h.7v.7h-.7zM276.2 49.9h.7v.7h-.7zM281.7 50.6h.7v.7h-.7zM278.0 50.4h.7v.7h-.7zM255.8 53.8h.7v.7h-.7zM277.8 59.3h.7v.7h-.7zM268.1 53.8h.7v.7h-.7zM281.6 55.0h.7v.7h-.7zM287.2 67.9h.7v.7h-.7zM267.8 40.6h.7v.7h-.7zM283.7 64.7h.7v.7h-.7zM284.3 59.7h.7v.7h-.7zM270.4 49.0h.7v.7h-.7zM284.0 47.6h.7v.7h-.7zM259.7 47.0h.7v.7h-.7zM298.4 67.5h.7v.7h-.7zM269.8 48.9h.7v.7h-.7zM278.1 48.8h.7v.7h-.7zM287.8 53.5h.7v.7h-.7zM266.2 63.2h.7v.7h-.7zM270.8 55.5h.7v.7h-.7zM275.9 51.8h.7v.7h-.7zM278.9 49.2h.7v.7h-.7zM259.4 38.5h.7v.7h-.7zM264.6 48.7h.7v.7h-.7zM275.8 54.4h.7v.7h-.7zM281.0 54.8h.7v.7h-.7zM268.9 49.0h.7v.7h-.7zM256.9 52.8h.7v.7h-.7zM280.4 57.7h.7v.7h-.7zM274.9 52.8h.7v.7h-.7zM284.4 54.1h.7v.7h-.7zM282.6 58.1h.7v.7h-.7zM277.9 63.1h.7v.7h-.7zM270.8 51.5h.7v.7h-.7zM268.7 48.4h.7v.7h-.7zM290.0 66.3h.7v.7h-.7zM276.2 58.0h.7v.7h-.7zM286.6 59.7h.7v.7h-.7zM286.8 45.2h.7v.7h-.7zM270.2 57.2h.7v.7h-.7zM288.9 54.7h.7v.7h-.7zM268.3 51.5h.7v.7h-.7zM270.1 48.0h.7v.7h-.7zM289.5 49.6h.7v.7h-.7zM276.2 69.1h.7v.7h-.7zM286.7 56.4h.7v.7h-.7zM270.5 56.9h.7v.7h-.7zM290.6 58.4h.7v.7h-.7zM287.4 54.7h.7v.7h-.7zM280.6 52.6h.7v.7h-.7zM279.8 63.1h.7v.7h-.7zM263.1 53.6h.7v.7h-.7zM278.2 50.0h.7v.7h-.7zM273.2 59.5h.7v.7h-.7zM294.0 58.4h.7v.7h-.7zM278.9 43.1h.7v.7h-.7zM293.3 54.5h.7v.7h-.7zM275.7 46.2h.7v.7h-.7zM275.5 46.3h.7v.7h-.7zM276.6 57.3h.7v.7h-.7zM276.3 56.0h.7v.7h-.7zM268.3 64.0h.7v.7h-.7zM270.1 41.3h.7v.7h-.7zM274.3 48.7h.7v.7h-.7zM266.9 51.5h.7v.7h-.7zM278.6 45.7h.7v.7h-.7zM274.8 64.0h.7v.7h-.7zM282.1 52.9h.7v.7h-.7zM277.1 53.2h.7v.7h-.7zM275.6 59.1h.7v.7h-.7zM275.2 37.2h.7v.7h-.7zM275.8 47.8h.7v.7h-.7zM281.9 49.7h.7v.7h-.7zM277.3 69.2h.7v.7h-.7zM266.6 46.1h.7v.7h-.7zM263.3 37.2h.7v.7h-.7zM259.1 56.6h.7v.7h-.7zM270.3 40.9h.7v.7h-.7zM262.7 58.3h.7v.7h-.7zM269.0 51.4h.7v.7h-.7zM279.0 63.5h.7v.7h-.7zM293.5 61.2h.7v.7h-.7z" fill="#ec7868" fill-opacity="0.32"/>
<path d="M323.9 52.8h.7v.7h-.7zM333.8 58.4h.7v.7h-.7zM321.1 54.1h.7v.7h-.7zM324.7 52.2h.7v.7h-.7zM320.0 46.0h.7v.7h-.7zM319.8 45.1h.7v.7h-.7zM330.3 54.4h.7v.7h-.7zM315.8 58.3h.7v.7h-.7zM328.4 43.4h.7v.7h-.7zM334.0 55.6h.7v.7h-.7zM335.4 46.5h.7v.7h-.7zM326.2 53.9h.7v.7h-.7zM324.2 52.8h.7v.7h-.7zM329.3 45.3h.7v.7h-.7zM315.5 45.7h.7v.7h-.7zM319.7 49.3h.7v.7h-.7zM325.2 53.2h.7v.7h-.7zM323.2 49.0h.7v.7h-.7zM320.3 56.3h.7v.7h-.7zM327.6 52.5h.7v.7h-.7zM321.1 59.0h.7v.7h-.7zM319.4 54.9h.7v.7h-.7zM329.9 50.8h.7v.7h-.7zM328.0 47.0h.7v.7h-.7zM329.1 52.9h.7v.7h-.7zM313.5 55.0h.7v.7h-.7zM317.6 57.8h.7v.7h-.7zM318.9 51.3h.7v.7h-.7zM324.7 50.5h.7v.7h-.7zM324.6 49.5h.7v.7h-.7zM327.0 52.0h.7v.7h-.7zM324.3 39.6h.7v.7h-.7zM330.0 52.1h.7v.7h-.7zM312.3 52.4h.7v.7h-.7zM325.8 56.8h.7v.7h-.7zM316.5 59.0h.7v.7h-.7zM322.0 62.8h.7v.7h-.7zM322.1 55.1h.7v.7h-.7zM320.8 47.0h.7v.7h-.7zM329.6 56.1h.7v.7h-.7zM332.2 55.9h.7v.7h-.7zM319.6 44.5h.7v.7h-.7zM319.1 49.0h.7v.7h-.7zM318.1 54.6h.7v.7h-.7zM325.0 50.8h.7v.7h-.7zM324.0 51.3h.7v.7h-.7zM324.3 55.4h.7v.7h-.7zM328.8 48.9h.7v.7h-.7zM314.0 58.4h.7v.7h-.7zM323.7 57.0h.7v.7h-.7zM313.1 50.5h.7v.7h-.7zM323.2 45.5h.7v.7h-.7zM319.9 55.3h.7v.7h-.7zM329.5 59.2h.7v.7h-.7zM317.8 45.7h.7v.7h-.7zM326.1 56.2h.7v.7h-.7zM324.2 46.1h.7v.7h-.7zM327.7 55.6h.7v.7h-.7zM326.3 49.8h.7v.7h-.7zM324.8 55.6h.7v.7h-.7zM319.6 43.7h.7v.7h-.7zM325.0 54.2h.7v.7h-.7zM323.1 56.0h.7v.7h-.7zM319.5 51.6h.7v.7h-.7zM321.2 54.6h.7v.7h-.7zM332.6 50.9h.7v.7h-.7zM335.3 58.9h.7v.7h-.7zM327.7 54.6h.7v.7h-.7zM333.6 51.2h.7v.7h-.7zM322.3 47.2h.7v.7h-.7zM325.8 58.1h.7v.7h-.7zM326.2 53.9h.7v.7h-.7zM321.8 52.8h.7v.7h-.7zM314.4 56.7h.7v.7h-.7zM320.5 47.0h.7v.7h-.7zM318.5 48.3h.7v.7h-.7zM328.1 56.8h.7v.7h-.7zM314.9 56.2h.7v.7h-.7zM328.3 49.4h.7v.7h-.7zM314.1 48.6h.7v.7h-.7zM319.2 53.5h.7v.7h-.7zM320.9 42.9h.7v.7h-.7zM324.4 45.1h.7v.7h-.7zM328.4 46.6h.7v.7h-.7zM318.8 48.2h.7v.7h-.7zM319.7 57.8h.7v.7h-.7zM328.1 54.7h.7v.7h-.7zM324.9 45.0h.7v.7h-.7zM319.9 49.5h.7v.7h-.7zM317.1 54.3h.7v.7h-.7zM318.6 48.8h.7v.7h-.7zM316.7 42.7h.7v.7h-.7zM326.6 58.0h.7v.7h-.7zM324.0 47.6h.7v.7h-.7zM306.8 52.8h.7v.7h-.7zM330.3 53.3h.7v.7h-.7zM328.6 58.7h.7v.7h-.7zM329.8 50.0h.7v.7h-.7zM329.3 55.5h.7v.7h-.7zM313.8 50.2h.7v.7h-.7zM314.5 51.5h.7v.7h-.7zM326.5 47.2h.7v.7h-.7zM310.7 57.8h.7v.7h-.7zM325.3 58.6h.7v.7h-.7zM315.1 56.8h.7v.7h-.7zM335.4 61.0h.7v.7h-.7zM321.7 53.2h.7v.7h-.7zM322.1 56.5h.7v.7h-.7zM329.2 52.4h.7v.7h-.7zM314.8 55.3h.7v.7h-.7zM320.2 54.8h.7v.7h-.7zM324.6 59.3h.7v.7h-.7zM329.8 50.0h.7v.7h-.7zM325.1 59.9h.7v.7h-.7zM319.8 54.0h.7v.7h-.7zM330.1 57.7h.7v.7h-.7zM326.1 46.1h.7v.7h-.7zM315.4 53.1h.7v.7h-.7zM325.3 63.5h.7v.7h-.7zM317.8 57.1h.7v.7h-.7zM327.6 44.5h.7v.7h-.7zM318.1 52.7h.7v.7h-.7zM320.0 51.3h.7v.7h-.7zM325.8 48.4h.7v.7h-.7zM325.8 49.1h.7v.7h-.7zM319.7 54.4h.7v.7h-.7zM319.6 53.3h.7v.7h-.7zM332.6 52.1h.7v.7h-.7zM322.1 55.3h.7v.7h-.7zM320.8 56.9h.7v.7h-.7z" fill="#ec7868" fill-opacity="0.32"/>
<path d="M310.5 110.0h.7v.7h-.7zM317.4 91.6h.7v.7h-.7zM337.9 90.9h.7v.7h-.7zM337.8 110.6h.7v.7h-.7zM335.1 89.3h.7v.7h-.7zM332.8 120.9h.7v.7h-.7zM321.0 100.3h.7v.7h-.7zM344.1 104.3h.7v.7h-.7zM318.2 93.8h.7v.7h-.7zM326.0 106.3h.7v.7h-.7zM323.6 124.4h.7v.7h-.7zM319.0 108.2h.7v.7h-.7zM335.1 88.9h.7v.7h-.7zM331.3 125.8h.7v.7h-.7zM309.8 87.7h.7v.7h-.7zM312.7 78.0h.7v.7h-.7zM326.1 77.9h.7v.7h-.7zM326.5 120.9h.7v.7h-.7zM307.5 97.9h.7v.7h-.7zM304.7 112.1h.7v.7h-.7zM315.4 98.5h.7v.7h-.7zM322.5 109.1h.7v.7h-.7zM318.9 102.2h.7v.7h-.7zM317.1 103.5h.7v.7h-.7zM311.4 102.8h.7v.7h-.7zM304.6 95.6h.7v.7h-.7zM339.2 103.0h.7v.7h-.7zM310.7 105.3h.7v.7h-.7zM313.2 80.5h.7v.7h-.7zM315.4 111.6h.7v.7h-.7zM325.5 100.7h.7v.7h-.7zM313.7 88.0h.7v.7h-.7zM334.1 105.2h.7v.7h-.7zM313.4 74.6h.7v.7h-.7zM311.7 101.0h.7v.7h-.7zM323.9 100.0h.7v.7h-.7zM319.5 84.1h.7v.7h-.7zM312.5 124.0h.7v.7h-.7zM315.2 113.0h.7v.7h-.7zM306.8 98.4h.7v.7h-.7zM324.3 115.5h.7v.7h-.7zM311.9 109.7h.7v.7h-.7zM325.5 92.4h.7v.7h-.7zM326.3 90.3h.7v.7h-.7zM314.8 101.8h.7v.7h-.7zM297.6 100.6h.7v.7h-.7zM313.0 83.0h.7v.7h-.7zM318.2 111.9h.7v.7h-.7zM318.4 118.5h.7v.7h-.7zM311.6 84.9h.7v.7h-.7zM336.0 107.2h.7v.7h-.7zM330.5 91.3h.7v.7h-.7zM329.2 105.4h.7v.7h-.7zM327.8 102.3h.7v.7h-.7zM332.9 93.6h.7v.7h-.7zM313.3 82.8h.7v.7h-.7zM332.4 92.4h.7v.7h-.7zM312.6 89.8h.7v.7h-.7zM318.0 85.5h.7v.7h-.7zM319.4 93.8h.7v.7h-.7zM317.0 89.5h.7v.7h-.7zM322.3 96.0h.7v.7h-.7zM323.0 105.2h.7v.7h-.7zM325.1 73.5h.7v.7h-.7zM317.2 91.7h.7v.7h-.7zM329.0 81.5h.7v.7h-.7zM315.6 98.2h.7v.7h-.7zM319.0 114.9h.7v.7h-.7zM318.0 114.5h.7v.7h-.7zM308.8 78.4h.7v.7h-.7zM333.0 107.7h.7v.7h-.7zM326.4 103.6h.7v.7h-.7zM326.4 86.2h.7v.7h-.7zM330.5 95.1h.7v.7h-.7zM330.9 103.1h.7v.7h-.7zM304.2 85.3h.7v.7h-.7zM332.1 100.2h.7v.7h-.7zM318.4 105.2h.7v.7h-.7zM318.2 94.9h.7v.7h-.7zM322.9 103.9h.7v.7h-.7zM335.7 102.6h.7v.7h-.7zM338.9 125.4h.7v.7h-.7zM337.4 115.8h.7v.7h-.7zM323.2 103.8h.7v.7h-.7zM320.7 92.5h.7v.7h-.7zM321.4 93.7h.7v.7h-.7zM336.8 108.9h.7v.7h-.7zM318.0 77.1h.7v.7h-.7zM321.5 96.6h.7v.7h-.7zM312.2 87.2h.7v.7h-.7zM301.7 109.4h.7v.7h-.7zM321.7 100.1h.7v.7h-.7zM335.0 103.7h.7v.7h-.7zM323.5 97.2h.7v.7h-.7zM316.6 121.5h.7v.7h-.7zM331.0 124.3h.7v.7h-.7zM318.9 102.4h.7v.7h-.7zM314.1 114.6h.7v.7h-.7zM309.5 109.3h.7v.7h-.7zM331.9 120.3h.7v.7h-.7zM313.5 116.2h.7v.7h-.7zM315.6 92.2h.7v.7h-.7zM310.1 117.0h.7v.7h-.7zM336.8 94.3h.7v.7h-.7zM315.2 97.6h.7v.7h-.7zM344.6 115.1h.7v.7h-.7zM317.1 78.7h.7v.7h-.7zM315.9 117.4h.7v.7h-.7zM338.8 98.5h.7v.7h-.7zM315.8 95.4h.7v.7h-.7zM305.0 113.8h.7v.7h-.7zM312.2 115.8h.7v.7h-.7zM306.6 85.5h.7v.7h-.7zM324.6 92.1h.7v.7h-.7zM329.0 102.1h.7v.7h-.7zM311.4 110.1h.7v.7h-.7zM329.6 77.1h.7v.7h-.7zM338.4 108.5h.7v.7h-.7zM328.8 77.8h.7v.7h-.7zM315.5 97.5h.7v.7h-.7zM331.7 83.0h.7v.7h-.7zM314.0 75.6h.7v.7h-.7zM319.8 106.5h.7v.7h-.7zM306.8 94.3h.7v.7h-.7zM326.6 122.6h.7v.7h-.7zM328.0 98.1h.7v.7h-.7zM311.4 89.8h.7v.7h-.7zM316.0 103.9h.7v.7h-.7zM321.6 123.7h.7v.7h-.7zM324.6 88.1h.7v.7h-.7zM335.9 114.3h.7v.7h-.7zM322.9 92.6h.7v.7h-.7zM305.2 88.7h.7v.7h-.7zM330.2 91.6h.7v.7h-.7zM310.1 104.5h.7v.7h-.7zM324.2 109.9h.7v.7h-.7zM327.9 120.3h.7v.7h-.7zM314.4 114.7h.7v.7h-.7zM313.1 111.0h.7v.7h-.7zM323.6 105.2h.7v.7h-.7zM330.7 101.8h.7v.7h-.7zM332.0 113.4h.7v.7h-.7zM323.2 94.6h.7v.7h-.7zM315.2 95.1h.7v.7h-.7zM320.2 101.7h.7v.7h-.7zM348.8 110.3h.7v.7h-.7zM328.9 90.8h.7v.7h-.7zM315.6 97.9h.7v.7h-.7zM323.7 88.5h.7v.7h-.7zM336.5 94.7h.7v.7h-.7zM331.7 71.6h.7v.7h-.7zM321.9 105.6h.7v.7h-.7zM323.7 109.8h.7v.7h-.7zM324.5 104.1h.7v.7h-.7zM305.0 92.7h.7v.7h-.7zM300.9 110.2h.7v.7h-.7zM324.8 99.5h.7v.7h-.7zM314.6 94.4h.7v.7h-.7zM338.6 124.5h.7v.7h-.7zM321.5 118.7h.7v.7h-.7zM307.7 76.8h.7v.7h-.7zM317.7 90.6h.7v.7h-.7zM317.0 104.4h.7v.7h-.7zM349.2 93.4h.7v.7h-.7zM322.4 105.6h.7v.7h-.7zM321.7 114.1h.7v.7h-.7zM338.0 85.8h.7v.7h-.7zM323.5 98.6h.7v.7h-.7zM325.2 82.1h.7v.7h-.7zM306.2 71.9h.7v.7h-.7zM326.7 104.5h.7v.7h-.7zM322.7 71.2h.7v.7h-.7zM318.6 92.2h.7v.7h-.7zM309.3 90.1h.7v.7h-.7zM328.3 109.1h.7v.7h-.7zM321.8 108.7h.7v.7h-.7zM316.6 102.9h.7v.7h-.7zM322.4 109.2h.7v.7h-.7zM321.4 100.1h.7v.7h-.7zM320.8 93.6h.7v.7h-.7zM342.1 108.7h.7v.7h-.7zM334.6 81.8h.7v.7h-.7zM328.3 112.9h.7v.7h-.7zM339.0 119.1h.7v.7h-.7zM328.9 86.7h.7v.7h-.7zM314.2 105.5h.7v.7h-.7zM326.5 88.7h.7v.7h-.7zM318.5 96.8h.7v.7h-.7zM322.5 106.4h.7v.7h-.7zM319.4 85.9h.7v.7h-.7zM333.2 122.7h.7v.7h-.7zM321.0 115.3h.7v.7h-.7zM326.0 110.6h.7v.7h-.7zM326.3 92.1h.7v.7h-.7zM327.2 115.1h.7v.7h-.7zM313.9 127.6h.7v.7h-.7zM340.8 125.7h.7v.7h-.7zM339.9 111.7h.7v.7h-.7zM319.0 94.2h.7v.7h-.7zM314.7 103.5h.7v.7h-.7zM321.7 110.7h.7v.7h-.7zM342.5 101.6h.7v.7h-.7zM328.1 108.2h.7v.7h-.7zM324.5 99.3h.7v.7h-.7zM320.9 91.3h.7v.7h-.7zM323.6 101.7h.7v.7h-.7zM324.9 90.9h.7v.7h-.7zM322.4 102.6h.7v.7h-.7zM327.4 88.2h.7v.7h-.7zM325.8 114.8h.7v.7h-.7zM327.4 97.2h.7v.7h-.7zM317.6 98.9h.7v.7h-.7zM328.6 122.2h.7v.7h-.7zM320.6 93.6h.7v.7h-.7zM325.4 104.7h.7v.7h-.7zM313.8 92.4h.7v.7h-.7zM321.1 110.7h.7v.7h-.7zM311.3 88.8h.7v.7h-.7zM326.5 86.1h.7v.7h-.7zM323.0 106.6h.7v.7h-.7zM321.0 88.8h.7v.7h-.7zM321.5 97.7h.7v.7h-.7zM325.0 91.1h.7v.7h-.7zM331.8 80.2h.7v.7h-.7zM320.4 102.1h.7v.7h-.7zM330.7 94.1h.7v.7h-.7zM326.9 94.6h.7v.7h-.7zM328.6 124.6h.7v.7h-.7zM318.4 107.8h.7v.7h-.7zM313.7 114.7h.7v.7h-.7zM332.9 102.5h.7v.7h-.7zM311.8 107.2h.7v.7h-.7zM332.3 116.2h.7v.7h-.7zM329.3 78.2h.7v.7h-.7zM315.9 120.5h.7v.7h-.7zM311.0 116.7h.7v.7h-.7zM338.9 111.9h.7v.7h-.7zM332.1 97.7h.7v.7h-.7zM311.0 100.7h.7v.7h-.7zM320.2 101.4h.7v.7h-.7zM328.3 100.1h.7v.7h-.7zM323.7 107.5h.7v.7h-.7zM322.0 126.0h.7v.7h-.7zM326.0 103.1h.7v.7h-.7zM320.1 93.9h.7v.7h-.7zM334.1 104.0h.7v.7h-.7zM312.3 94.7h.7v.7h-.7zM320.8 96.2h.7v.7h-.7zM331.8 86.9h.7v.7h-.7zM326.4 103.9h.7v.7h-.7zM311.4 102.6h.7v.7h-.7zM321.2 108.5h.7v.7h-.7zM317.9 105.9h.7v.7h-.7zM307.0 87.9h.7v.7h-.7zM329.1 115.5h.7v.7h-.7zM321.9 94.2h.7v.7h-.7zM331.7 74.8h.7v.7h-.7zM314.8 110.7h.7v.7h-.7zM327.9 88.6h.7v.7h-.7zM305.0 120.9h.7v.7h-.7zM323.4 90.3h.7v.7h-.7zM322.5 113.7h.7v.7h-.7zM298.7 116.4h.7v.7h-.7zM328.7 74.9h.7v.7h-.7zM328.9 78.9h.7v.7h-.7zM332.3 107.2h.7v.7h-.7zM342.3 94.1h.7v.7h-.7zM322.0 115.6h.7v.7h-.7zM316.2 92.8h.7v.7h-.7zM318.7 101.1h.7v.7h-.7zM312.3 108.3h.7v.7h-.7zM326.9 102.9h.7v.7h-.7zM337.3 97.7h.7v.7h-.7zM333.8 94.9h.7v.7h-.7zM328.8 76.8h.7v.7h-.7zM323.8 99.7h.7v.7h-.7zM317.5 94.1h.7v.7h-.7zM318.9 92.6h.7v.7h-.7zM302.3 94.2h.7v.7h-.7zM317.1 95.2h.7v.7h-.7zM312.5 100.2h.7v.7h-.7zM329.1 98.7h.7v.7h-.7zM317.6 119.6h.7v.7h-.7zM330.8 114.0h.7v.7h-.7zM332.4 97.7h.7v.7h-.7zM320.8 116.5h.7v.7h-.7zM317.0 100.4h.7v.7h-.7zM325.4 106.8h.7v.7h-.7zM319.5 114.8h.7v.7h-.7zM320.4 111.4h.7v.7h-.7zM331.6 110.6h.7v.7h-.7zM328.6 86.9h.7v.7h-.7zM310.2 94.0h.7v.7h-.7zM326.3 121.5h.7v.7h-.7zM311.0 106.0h.7v.7h-.7zM314.3 92.5h.7v.7h-.7zM319.5 111.0h.7v.7h-.7zM323.9 117.3h.7v.7h-.7zM313.1 113.6h.7v.7h-.7zM330.4 102.9h.7v.7h-.7zM326.3 94.7h.7v.7h-.7zM312.2 96.7h.7v.7h-.7zM317.6 123.5h.7v.7h-.7zM323.8 106.1h.7v.7h-.7zM328.7 91.9h.7v.7h-.7zM330.2 106.9h.7v.7h-.7zM308.4 109.8h.7v.7h-.7zM327.0 107.9h.7v.7h-.7zM336.3 96.6h.7v.7h-.7zM326.6 111.7h.7v.7h-.7zM313.9 117.6h.7v.7h-.7zM308.9 85.1h.7v.7h-.7zM326.7 87.8h.7v.7h-.7zM321.0 80.6h.7v.7h-.7zM322.6 87.3h.7v.7h-.7zM325.1 82.1h.7v.7h-.7zM326.0 98.5h.7v.7h-.7zM322.6 101.1h.7v.7h-.7zM323.2 84.8h.7v.7h-.7zM298.9 102.4h.7v.7h-.7zM313.6 96.1h.7v.7h-.7zM325.8 76.2h.7v.7h-.7zM315.1 94.1h.7v.7h-.7zM312.5 106.2h.7v.7h-.7zM320.7 91.3h.7v.7h-.7zM313.1 112.5h.7v.7h-.7zM316.1 109.6h.7v.7h-.7zM326.0 77.4h.7v.7h-.7zM312.2 102.0h.7v.7h-.7zM325.1 112.1h.7v.7h-.7zM329.2 115.4h.7v.7h-.7zM318.6 99.3h.7v.7h-.7zM329.0 96.5h.7v.7h-.7zM331.5 81.3h.7v.7h-.7zM327.9 99.7h.7v.7h-.7zM304.3 114.7h.7v.7h-.7zM324.8 102.3h.7v.7h-.7zM312.3 96.0h.7v.7h-.7zM335.6 91.2h.7v.7h-.7zM290.8 90.9h.7v.7h-.7zM311.2 100.3h.7v.7h-.7zM318.5 90.1h.7v.7h-.7zM314.4 115.6h.7v.7h-.7zM309.0 127.4h.7v.7h-.7zM317.1 87.8h.7v.7h-.7zM329.1 109.3h.7v.7h-.7zM312.6 111.7h.7v.7h-.7zM305.4 90.0h.7v.7h-.7zM332.1 98.7h.7v.7h-.7zM310.3 108.7h.7v.7h-.7zM330.3 101.7h.7v.7h-.7zM305.7 97.5h.7v.7h-.7zM325.8 112.0h.7v.7h-.7zM338.7 98.7h.7v.7h-.7zM317.7 101.5h.7v.7h-.7zM332.9 89.8h.7v.7h-.7zM333.7 66.3h.7v.7h-.7zM329.2 93.2h.7v.7h-.7zM326.1 111.0h.7v.7h-.7zM311.4 100.9h.7v.7h-.7zM324.2 109.6h.7v.7h-.7zM313.6 89.1h.7v.7h-.7zM320.3 99.1h.7v.7h-.7zM308.5 114.1h.7v.7h-.7zM317.2 120.7h.7v.7h-.7zM329.7 102.3h.7v.7h-.7zM328.5 87.5h.7v.7h-.7zM319.1 94.5h.7v.7h-.7zM310.6 102.2h.7v.7h-.7zM320.7 120.7h.7v.7h-.7zM291.8 93.3h.7v.7h-.7zM313.7 96.0h.7v.7h-.7zM325.8 107.2h.7v.7h-.7zM322.3 95.8h.7v.7h-.7zM326.5 106.7h.7v.7h-.7zM305.4 98.6h.7v.7h-.7zM309.6 86.6h.7v.7h-.7zM323.3 102.8h.7v.7h-.7zM323.0 90.6h.7v.7h-.7zM320.2 90.1h.7v.7h-.7zM325.4 111.0h.7v.7h-.7zM337.8 118.5h.7v.7h-.7zM314.8 96.0h.7v.7h-.7zM313.6 106.0h.7v.7h-.7zM339.8 111.2h.7v.7h-.7zM302.2 85.7h.7v.7h-.7zM310.4 108.7h.7v.7h-.7zM322.0 105.9h.7v.7h-.7zM338.0 91.2h.7v.7h-.7zM314.4 127.6h.7v.7h-.7zM325.1 91.9h.7v.7h-.7zM303.7 82.2h.7v.7h-.7zM300.0 102.9h.7v.7h-.7zM322.4 114.9h.7v.7h-.7zM320.7 93.0h.7v.7h-.7zM315.3 126.7h.7v.7h-.7zM306.1 104.3h.7v.7h-.7zM322.2 110.0h.7v.7h-.7zM318.4 108.5h.7v.7h-.7zM329.3 100.1h.7v.7h-.7zM317.9 99.6h.7v.7h-.7zM313.3 99.3h.7v.7h-.7zM319.3 104.7h.7v.7h-.7zM334.0 119.0h.7v.7h-.7zM318.0 109.8h.7v.7h-.7zM324.7 111.9h.7v.7h-.7zM322.2 105.5h.7v.7h-.7zM317.8 91.8h.7v.7h-.7zM329.8 118.9h.7v.7h-.7zM328.0 107.7h.7v.7h-.7zM324.4 96.1h.7v.7h-.7zM306.0 110.6h.7v.7h-.7zM323.8 94.8h.7v.7h-.7zM313.3 118.6h.7v.7h-.7zM305.8 124.9h.7v.7h-.7zM315.5 101.7h.7v.7h-.7zM317.4 104.0h.7v.7h-.7zM320.1 92.3h.7v.7h-.7zM331.7 91.8h.7v.7h-.7zM317.4 109.2h.7v.7h-.7zM317.2 96.4h.7v.7h-.7zM325.2 97.2h.7v.7h-.7zM310.8 100.7h.7v.7h-.7zM320.0 124.2h.7v.7h-.7zM312.1 114.6h.7v.7h-.7zM314.9 97.4h.7v.7h-.7zM319.1 105.5h.7v.7h-.7zM329.8 124.7h.7v.7h-.7zM316.3 119.3h.7v.7h-.7zM331.0 112.6h.7v.7h-.7zM315.2 113.7h.7v.7h-.7zM321.0 106.6h.7v.7h-.7zM319.6 110.6h.7v.7h-.7zM332.0 116.7h.7v.7h-.7zM320.2 114.9h.7v.7h-.7zM335.1 89.8h.7v.7h-.7zM335.3 84.6h.7v.7h-.7zM326.9 109.7h.7v.7h-.7zM335.3 105.6h.7v.7h-.7zM317.7 91.6h.7v.7h-.7zM310.7 112.0h.7v.7h-.7zM319.9 92.7h.7v.7h-.7zM326.8 92.1h.7v.7h-.7zM318.1 96.0h.7v.7h-.7zM336.9 121.0h.7v.7h-.7zM320.6 81.6h.7v.7h-.7zM324.5 102.9h.7v.7h-.7zM325.1 109.4h.7v.7h-.7zM319.1 114.0h.7v.7h-.7zM329.5 104.7h.7v.7h-.7zM318.3 95.8h.7v.7h-.7zM328.2 87.7h.7v.7h-.7zM320.6 92.3h.7v.7h-.7zM309.5 109.8h.7v.7h-.7zM321.8 102.5h.7v.7h-.7zM329.9 82.6h.7v.7h-.7zM321.4 105.8h.7v.7h-.7zM329.5 87.9h.7v.7h-.7zM328.4 104.9h.7v.7h-.7zM334.2 116.8h.7v.7h-.7zM322.0 96.5h.7v.7h-.7zM318.9 89.8h.7v.7h-.7zM321.7 77.6h.7v.7h-.7zM321.2 107.5h.7v.7h-.7zM330.9 97.5h.7v.7h-.7zM334.5 93.5h.7v.7h-.7zM320.8 77.6h.7v.7h-.7zM315.1 91.7h.7v.7h-.7zM335.1 108.7h.7v.7h-.7zM312.3 108.8h.7v.7h-.7zM326.2 99.0h.7v.7h-.7zM322.2 98.1h.7v.7h-.7zM317.2 79.5h.7v.7h-.7zM321.2 118.3h.7v.7h-.7zM334.6 98.5h.7v.7h-.7zM315.4 99.3h.7v.7h-.7zM329.9 106.5h.7v.7h-.7zM316.9 106.6h.7v.7h-.7zM320.2 108.5h.7v.7h-.7zM318.4 83.3h.7v.7h-.7zM322.5 111.6h.7v.7h-.7zM312.3 100.6h.7v.7h-.7zM329.7 97.3h.7v.7h-.7zM316.3 127.7h.7v.7h-.7zM329.3 115.0h.7v.7h-.7zM313.7 122.7h.7v.7h-.7zM307.5 95.4h.7v.7h-.7zM328.5 118.8h.7v.7h-.7zM313.9 93.6h.7v.7h-.7zM323.7 77.6h.7v.7h-.7zM327.6 109.1h.7v.7h-.7zM318.1 108.8h.7v.7h-.7zM328.8 105.9h.7v.7h-.7zM326.6 121.1h.7v.7h-.7zM317.8 104.0h.7v.7h-.7zM317.4 115.0h.7v.7h-.7zM318.4 108.0h.7v.7h-.7zM323.2 102.8h.7v.7h-.7zM337.0 100.9h.7v.7h-.7zM334.4 112.4h.7v.7h-.7zM333.5 99.9h.7v.7h-.7zM330.1 111.5h.7v.7h-.7zM316.7 105.4h.7v.7h-.7zM320.9 101.6h.7v.7h-.7zM333.3 92.9h.7v.7h-.7zM307.4 80.1h.7v.7h-.7zM318.1 93.9h.7v.7h-.7zM322.1 109.1h.7v.7h-.7zM337.3 105.9h.7v.7h-.7zM326.0 92.8h.7v.7h-.7zM327.0 119.0h.7v.7h-.7zM333.6 77.5h.7v.7h-.7z" fill="#ec7868" fill-opacity="0.32"/>
<path d="M328.0 96.3h.7v.7h-.7zM327.8 60.7h.7v.7h-.7zM324.0 84.8h.7v.7h-.7zM326.4 68.6h.7v.7h-.7zM322.0 89.2h.7v.7h-.7zM320.5 94.6h.7v.7h-.7zM325.1 81.5h.7v.7h-.7zM320.5 71.1h.7v.7h-.7zM327.3 61.0h.7v.7h-.7zM332.0 61.8h.7v.7h-.7zM320.9 78.5h.7v.7h-.7zM326.6 86.5h.7v.7h-.7zM323.8 75.6h.7v.7h-.7zM324.2 71.4h.7v.7h-.7zM316.3 89.1h.7v.7h-.7zM325.8 79.8h.7v.7h-.7zM322.9 80.9h.7v.7h-.7zM325.0 77.1h.7v.7h-.7zM328.7 58.1h.7v.7h-.7zM325.8 65.7h.7v.7h-.7zM323.9 95.3h.7v.7h-.7zM321.4 76.8h.7v.7h-.7zM323.0 88.9h.7v.7h-.7zM321.7 58.6h.7v.7h-.7zM326.7 73.9h.7v.7h-.7zM323.9 90.5h.7v.7h-.7zM322.0 73.7h.7v.7h-.7zM325.5 82.8h.7v.7h-.7zM323.3 89.9h.7v.7h-.7zM332.5 73.3h.7v.7h-.7zM331.3 53.7h.7v.7h-.7zM329.7 74.0h.7v.7h-.7zM325.5 74.1h.7v.7h-.7zM322.9 63.3h.7v.7h-.7zM323.7 92.9h.7v.7h-.7zM328.8 74.0h.7v.7h-.7zM323.2 69.9h.7v.7h-.7zM321.0 98.8h.7v.7h-.7zM327.2 79.4h.7v.7h-.7zM323.3 66.2h.7v.7h-.7zM329.4 87.0h.7v.7h-.7zM321.8 89.4h.7v.7h-.7zM321.3 85.4h.7v.7h-.7zM321.8 73.2h.7v.7h-.7zM326.7 83.0h.7v.7h-.7zM328.4 68.4h.7v.7h-.7zM330.3 93.5h.7v.7h-.7zM325.0 83.4h.7v.7h-.7zM322.4 76.2h.7v.7h-.7zM320.6 79.0h.7v.7h-.7zM325.7 93.5h.7v.7h-.7zM328.2 87.4h.7v.7h-.7zM323.8 75.4h.7v.7h-.7zM323.9 80.6h.7v.7h-.7zM318.5 86.9h.7v.7h-.7zM319.7 72.1h.7v.7h-.7zM325.1 72.1h.7v.7h-.7zM330.6 76.9h.7v.7h-.7zM330.3 91.5h.7v.7h-.7zM323.3 82.6h.7v.7h-.7zM329.4 74.2h.7v.7h-.7zM325.3 71.6h.7v.7h-.7zM325.2 73.9h.7v.7h-.7zM325.3 89.5h.7v.7h-.7zM329.7 79.5h.7v.7h-.7zM325.7 87.9h.7v.7h-.7zM324.0 65.8h.7v.7h-.7zM328.7 67.2h.7v.7h-.7zM328.1 66.9h.7v.7h-.7zM331.2 66.0h.7v.7h-.7zM327.9 95.3h.7v.7h-.7zM321.8 95.1h.7v.7h-.7zM322.2 57.7h.7v.7h-.7zM327.4 86.1h.7v.7h-.7zM324.3 48.9h.7v.7h-.7zM324.8 74.5h.7v.7h-.7zM323.7 74.7h.7v.7h-.7zM319.0 71.5h.7v.7h-.7zM331.0 95.8h.7v.7h-.7zM323.8 69.8h.7v.7h-.7zM326.3 90.2h.7v.7h-.7zM327.4 64.5h.7v.7h-.7zM325.5 79.6h.7v.7h-.7zM329.8 91.8h.7v.7h-.7zM326.8 92.0h.7v.7h-.7zM323.7 95.7h.7v.7h-.7zM323.6 82.6h.7v.7h-.7zM328.1 67.5h.7v.7h-.7zM322.6 57.7h.7v.7h-.7zM325.6 77.4h.7v.7h-.7zM323.9 83.7h.7v.7h-.7zM317.9 77.7h.7v.7h-.7zM325.3 74.9h.7v.7h-.7zM327.7 98.2h.7v.7h-.7zM323.5 67.2h.7v.7h-.7zM323.0 79.1h.7v.7h-.7zM327.0 68.1h.7v.7h-.7zM328.4 66.2h.7v.7h-.7zM327.8 82.9h.7v.7h-.7zM326.6 102.9h.7v.7h-.7zM324.1 76.1h.7v.7h-.7zM326.6 87.9h.7v.7h-.7zM320.5 81.2h.7v.7h-.7zM322.5 85.3h.7v.7h-.7zM329.6 78.6h.7v.7h-.7zM324.6 80.1h.7v.7h-.7zM315.1 86.9h.7v.7h-.7zM326.9 79.9h.7v.7h-.7zM323.7 69.6h.7v.7h-.7zM324.4 92.0h.7v.7h-.7z" fill="#ec7868" fill-opacity="0.2"/>
<path d="M261.0 121.6h.7v.7h-.7zM264.6 109.9h.7v.7h-.7zM246.1 104.3h.7v.7h-.7zM274.0 98.8h.7v.7h-.7zM252.5 100.5h.7v.7h-.7zM256.7 115.6h.7v.7h-.7zM267.7 92.5h.7v.7h-.7zM276.0 104.9h.7v.7h-.7zM256.4 124.4h.7v.7h-.7zM261.2 99.3h.7v.7h-.7zM255.9 103.7h.7v.7h-.7zM252.3 107.1h.7v.7h-.7zM270.4 113.0h.7v.7h-.7zM252.5 111.0h.7v.7h-.7zM262.3 116.6h.7v.7h-.7zM258.8 113.9h.7v.7h-.7zM282.2 110.8h.7v.7h-.7zM251.6 112.8h.7v.7h-.7zM254.3 106.8h.7v.7h-.7zM263.8 112.9h.7v.7h-.7zM259.3 117.3h.7v.7h-.7zM260.1 98.7h.7v.7h-.7zM270.4 106.9h.7v.7h-.7zM273.6 104.3h.7v.7h-.7zM267.5 112.7h.7v.7h-.7zM251.3 122.2h.7v.7h-.7zM243.9 117.9h.7v.7h-.7zM272.5 114.3h.7v.7h-.7zM268.5 105.7h.7v.7h-.7zM261.9 111.9h.7v.7h-.7zM266.0 116.1h.7v.7h-.7zM260.0 103.9h.7v.7h-.7zM256.6 113.6h.7v.7h-.7zM246.1 99.2h.7v.7h-.7zM258.0 105.2h.7v.7h-.7zM259.4 87.0h.7v.7h-.7zM258.7 107.8h.7v.7h-.7zM269.5 92.9h.7v.7h-.7zM259.1 114.1h.7v.7h-.7zM266.7 120.3h.7v.7h-.7zM272.1 100.9h.7v.7h-.7zM268.1 107.1h.7v.7h-.7zM254.3 123.3h.7v.7h-.7zM256.0 102.6h.7v.7h-.7zM258.1 102.6h.7v.7h-.7zM271.7 113.3h.7v.7h-.7zM275.5 113.6h.7v.7h-.7zM256.1 119.1h.7v.7h-.7zM255.7 106.0h.7v.7h-.7zM260.4 110.3h.7v.7h-.7zM273.5 104.8h.7v.7h-.7zM265.4 109.8h.7v.7h-.7zM249.9 100.5h.7v.7h-.7zM259.9 113.5h.7v.7h-.7zM265.1 114.2h.7v.7h-.7zM262.5 106.1h.7v.7h-.7zM266.1 101.3h.7v.7h-.7zM249.1 107.1h.7v.7h-.7zM248.2 105.5h.7v.7h-.7zM254.8 105.2h.7v.7h-.7zM261.6 103.1h.7v.7h-.7zM257.9 95.2h.7v.7h-.7zM263.4 102.4h.7v.7h-.7zM265.9 85.5h.7v.7h-.7zM254.3 112.1h.7v.7h-.7zM262.9 110.9h.7v.7h-.7z" fill="#ec7868" fill-opacity="0.2"/>
<path d="M267.3 49.6L268.3 48.5L269.5 47.7L270.4 46.5L272.3 46.4L274.0 45.6L275.8 45.4L277.1 46.3L278.7 45.8L280.0 46.5L281.0 48.0L282.7 48.8L283.5 50.4L283.7 51.6L283.4 52.6L282.7 53.5L282.0 54.7L280.6 55.0L279.6 55.8L279.0 57.3L278.9 59.0L278.0 60.4L277.3 61.3L277.7 62.5L277.3 63.5L275.8 63.9L274.2 63.9L272.7 63.5L272.8 62.2L272.9 60.9L272.3 59.6L271.6 58.4L271.1 57.2L271.2 55.8L269.8 54.3L267.9 53.4L266.5 51.9L267.3 51.3L267.0 50.4Z" fill="#fcd8cc" stroke="#ec5232" stroke-width="1.0" stroke-linejoin="round"/>
<path d="M272.5 48.5L273.5 48.2L274.5 47.6L275.5 47.3L276.5 47.7L277.5 47.9L278.5 48.2L278.7 49.0L278.5 49.8L278.8 50.5L277.8 51.1L276.6 51.3L275.5 51.8L274.5 51.6L273.6 51.1L272.6 50.8L272.5 50.0L272.7 49.3Z" fill="#fbd6b0" stroke="#f39a40" stroke-width="0.8" stroke-linejoin="round"/>
<ellipse cx="275.6" cy="49.6" rx="1.3" ry="0.9" fill="#f8e0a0"/>
<path d="M319.3 50.5L320.3 49.8L321.4 49.4L322.5 48.8L323.8 49.1L325.1 49.6L326.5 49.8L326.6 50.8L327.1 51.6L327.4 52.5L326.5 53.4L325.5 54.1L324.5 54.8L323.2 54.7L321.8 54.4L320.5 54.2L320.0 53.0L319.6 51.8Z" fill="#fbd0b8" stroke="#ec5232" stroke-width="0.7" stroke-linejoin="round"/>
<ellipse cx="323.2" cy="51.8" rx="1.6" ry="1.1" fill="#f6b070"/>
<path d="M318.0 89.0L319.1 88.7L320.1 88.1L321.0 87.4L322.1 87.9L322.7 89.2L324.0 89.5L325.4 89.4L326.7 89.9L328.0 90.0L329.6 90.0L330.9 91.1L332.5 91.0L332.5 92.5L333.5 93.6L333.7 95.0L332.9 97.3L332.2 99.6L332.0 102.0L331.6 104.1L330.8 106.1L330.0 108.0L329.2 109.7L327.9 111.1L327.5 113.0L326.8 114.9L325.3 116.2L324.5 118.0L323.4 118.6L322.5 119.5L321.5 120.2L320.5 119.7L319.7 119.0L318.5 119.0L317.4 117.5L317.2 115.5L316.0 114.0L314.7 112.4L313.9 110.5L312.5 109.0L312.4 106.6L311.2 104.4L311.0 102.0L311.9 99.8L312.5 97.4L312.5 95.0L314.2 92.8L315.8 90.6Z" fill="#fbcdb6" stroke="#ec5232" stroke-width="0.75" stroke-linejoin="round"/>
<path d="M318.8 92.1L319.5 91.4L320.6 91.6L321.2 90.8L322.2 91.1L322.6 92.2L323.6 92.5L324.7 92.4L325.7 93.0L326.8 92.9L328.1 92.9L329.3 93.2L330.4 93.7L330.6 94.8L331.4 95.7L331.4 96.9L331.0 98.8L330.1 100.6L330.0 102.5L329.3 104.0L328.6 105.6L328.4 107.3L327.4 108.5L327.4 110.1L326.4 111.3L325.8 112.7L324.6 113.8L324.0 115.3L323.1 115.8L322.6 116.8L321.6 117.1L320.8 116.7L319.9 116.6L319.2 116.1L318.5 114.8L317.6 113.6L317.2 112.1L316.0 111.0L315.7 109.2L314.4 108.1L313.9 106.3L313.9 104.3L313.2 102.5L313.3 100.6L314.0 98.8L314.4 96.9L315.7 95.1L317.3 93.7Z" fill="#f9bc88" stroke="#f07846" stroke-width="0.6" stroke-linejoin="round"/>
<path d="M319.6 95.1L320.1 94.6L320.9 94.6L321.4 94.1L322.1 94.4L322.5 95.1L323.2 95.4L324.0 95.5L324.8 95.4L325.6 95.7L326.5 95.8L327.4 96.1L328.3 96.3L328.3 97.2L328.9 97.9L329.0 98.7L328.8 100.1L328.1 101.4L328.0 102.9L327.4 104.0L327.1 105.3L326.8 106.5L326.4 107.6L326.0 108.6L325.3 109.5L324.8 110.6L324.3 111.6L323.5 112.5L323.1 113.2L322.3 113.4L321.7 113.8L321.1 113.6L320.5 113.3L319.9 113.1L319.3 112.1L318.6 111.2L318.4 110.1L317.8 109.0L317.1 108.0L316.3 107.1L316.0 105.7L315.7 104.3L315.4 102.9L315.8 101.5L316.3 100.2L316.3 98.7L317.6 97.7L318.6 96.4Z" fill="#f7c85e" stroke="#f49a40" stroke-width="0.5" stroke-linejoin="round"/>
<g filter="url(#b1)">
<path d="M320.3 97.7L320.7 97.5L321.1 97.2L321.6 97.0L322.0 97.3L322.3 97.8L322.8 97.9L323.4 97.9L324.0 98.0L324.5 98.1L325.2 98.2L325.8 98.2L326.4 98.6L326.3 99.2L327.0 99.6L326.9 100.2L326.6 101.2L326.2 102.1L326.2 103.2L326.0 104.1L325.6 104.8L325.4 105.7L325.1 106.4L324.8 107.2L324.3 107.8L324.0 108.6L323.6 109.3L323.1 109.9L322.5 110.1L322.1 110.4L321.8 110.8L321.4 110.5L320.9 110.7L320.5 110.3L320.3 109.6L319.8 109.0L319.5 108.2L319.0 107.5L318.5 106.8L318.0 106.1L317.7 105.2L317.8 104.1L317.4 103.2L317.3 102.1L317.9 101.2L318.0 100.2L318.9 99.5L319.6 98.6Z" fill="#f1dc52"/>
<ellipse cx="321.5" cy="101.5" rx="3.2" ry="4.5" fill="#e6ee76"/>
<ellipse cx="321.5" cy="101.5" rx="1.6" ry="2.2" fill="#d4f08c"/>
</g>
<rect x="312" y="128.3" width="23" height="2" fill="url(#barG)"/>
<rect x="238.5" y="25.3" width="119.0" height="105.2" fill="none" stroke="#2a2a2a" stroke-width="1.1"/>
<rect x="290.7" y="73.0" width="64.3" height="54.7" fill="none" stroke="#333" stroke-width="1.2" rx="0.8"/>
<text x="248.8" y="36.5" font-size="6.9" textLength="24.4" lengthAdjust="spacingAndGlyphs">WT-PBS</text>
<text x="293.8" y="85.5" font-size="7.36" textLength="20.7" lengthAdjust="spacingAndGlyphs">75.7%</text>
<line x1="383.8" y1="103.7" x2="386.4" y2="103.7" stroke="#333" stroke-width="0.9"/>
<text x="378.1" y="107.0" font-size="8.05" text-anchor="end" textLength="8.4" lengthAdjust="spacingAndGlyphs" fill="#333">10</text>
<text x="378.1" y="103.3" font-size="5.75" textLength="3.0" lengthAdjust="spacingAndGlyphs" fill="#333">0</text>
<line x1="415.2" y1="130.5" x2="415.2" y2="133.1" stroke="#333" stroke-width="0.9"/>
<text x="415.4" y="142.1" font-size="8.05" text-anchor="middle" textLength="8.4" lengthAdjust="spacingAndGlyphs" fill="#333">10</text>
<text x="419.6" y="138.5" font-size="5.75" textLength="3.0" lengthAdjust="spacingAndGlyphs" fill="#333">0</text>
<line x1="383.8" y1="77.6" x2="386.4" y2="77.6" stroke="#333" stroke-width="0.9"/>
<text x="378.1" y="80.9" font-size="8.05" text-anchor="end" textLength="8.4" lengthAdjust="spacingAndGlyphs" fill="#333">10</text>
<text x="378.1" y="77.2" font-size="5.75" textLength="3.0" lengthAdjust="spacingAndGlyphs" fill="#333">1</text>
<line x1="445.2" y1="130.5" x2="445.2" y2="133.1" stroke="#333" stroke-width="0.9"/>
<text x="445.4" y="142.1" font-size="8.05" text-anchor="middle" textLength="8.4" lengthAdjust="spacingAndGlyphs" fill="#333">10</text>
<text x="449.6" y="138.5" font-size="5.75" textLength="3.0" lengthAdjust="spacingAndGlyphs" fill="#333">1</text>
<line x1="383.8" y1="51.5" x2="386.4" y2="51.5" stroke="#333" stroke-width="0.9"/>
<text x="378.1" y="54.8" font-size="8.05" text-anchor="end" textLength="8.4" lengthAdjust="spacingAndGlyphs" fill="#333">10</text>
<text x="378.1" y="51.1" font-size="5.75" textLength="3.0" lengthAdjust="spacingAndGlyphs" fill="#333">2</text>
<line x1="475.2" y1="130.5" x2="475.2" y2="133.1" stroke="#333" stroke-width="0.9"/>
<text x="475.4" y="142.1" font-size="8.05" text-anchor="middle" textLength="8.4" lengthAdjust="spacingAndGlyphs" fill="#333">10</text>
<text x="479.6" y="138.5" font-size="5.75" textLength="3.0" lengthAdjust="spacingAndGlyphs" fill="#333">2</text>
<line x1="383.8" y1="25.4" x2="386.4" y2="25.4" stroke="#333" stroke-width="0.9"/>
<text x="378.1" y="28.7" font-size="8.05" text-anchor="end" textLength="8.4" lengthAdjust="spacingAndGlyphs" fill="#333">10</text>
<text x="378.1" y="25.0" font-size="5.75" textLength="3.0" lengthAdjust="spacingAndGlyphs" fill="#333">3</text>
<line x1="505.2" y1="130.5" x2="505.2" y2="133.1" stroke="#333" stroke-width="0.9"/>
<text x="505.4" y="142.1" font-size="8.05" text-anchor="middle" textLength="8.4" lengthAdjust="spacingAndGlyphs" fill="#333">10</text>
<text x="509.6" y="138.5" font-size="5.75" textLength="3.0" lengthAdjust="spacingAndGlyphs" fill="#333">3</text>
<path d="M394.2 130.5v1.4M386.4 121.9h1.3M399.5 130.5v1.4M386.4 117.3h1.3M403.3 130.5v1.4M386.4 114.1h1.3M406.2 130.5v1.4M386.4 111.6h1.3M408.5 130.5v1.4M386.4 109.5h1.3M410.6 130.5v1.4M386.4 107.7h1.3M412.3 130.5v1.4M386.4 106.2h1.3M413.8 130.5v1.4M386.4 104.9h1.3M424.2 130.5v1.4M386.4 95.8h1.3M429.5 130.5v1.4M386.4 91.2h1.3M433.3 130.5v1.4M386.4 88.0h1.3M436.2 130.5v1.4M386.4 85.5h1.3M438.5 130.5v1.4M386.4 83.4h1.3M440.6 130.5v1.4M386.4 81.6h1.3M442.3 130.5v1.4M386.4 80.1h1.3M443.8 130.5v1.4M386.4 78.8h1.3M454.2 130.5v1.4M386.4 69.7h1.3M459.5 130.5v1.4M386.4 65.1h1.3M463.3 130.5v1.4M386.4 61.9h1.3M466.2 130.5v1.4M386.4 59.4h1.3M468.5 130.5v1.4M386.4 57.3h1.3M470.6 130.5v1.4M386.4 55.5h1.3M472.3 130.5v1.4M386.4 54.0h1.3M473.8 130.5v1.4M386.4 52.7h1.3M484.2 130.5v1.4M386.4 43.6h1.3M489.5 130.5v1.4M386.4 39.0h1.3M493.3 130.5v1.4M386.4 35.8h1.3M496.2 130.5v1.4M386.4 33.3h1.3M498.5 130.5v1.4M386.4 31.2h1.3M500.6 130.5v1.4M386.4 29.4h1.3M502.3 130.5v1.4M386.4 27.9h1.3M503.8 130.5v1.4M386.4 26.6h1.3" stroke="#555" stroke-width="0.6"/>
<path d="M456.6 129.0h.6v.6h-.6zM414.8 91.1h.6v.6h-.6zM474.3 65.1h.6v.6h-.6zM470.7 66.6h.6v.6h-.6zM448.9 89.3h.6v.6h-.6zM466.6 59.2h.6v.6h-.6zM460.9 82.1h.6v.6h-.6zM413.5 89.3h.6v.6h-.6zM418.4 120.0h.6v.6h-.6zM442.7 100.6h.6v.6h-.6zM448.4 75.2h.6v.6h-.6zM413.3 40.5h.6v.6h-.6zM495.8 80.6h.6v.6h-.6zM448.6 80.5h.6v.6h-.6zM482.5 50.5h.6v.6h-.6zM407.5 111.0h.6v.6h-.6zM441.2 92.2h.6v.6h-.6zM484.1 118.5h.6v.6h-.6zM488.8 30.3h.6v.6h-.6zM432.0 112.1h.6v.6h-.6zM483.0 38.6h.6v.6h-.6zM405.4 51.9h.6v.6h-.6zM399.4 62.8h.6v.6h-.6zM481.3 79.9h.6v.6h-.6zM440.3 34.9h.6v.6h-.6zM433.6 129.2h.6v.6h-.6zM468.6 72.4h.6v.6h-.6zM443.3 108.6h.6v.6h-.6zM476.1 41.3h.6v.6h-.6zM466.9 63.9h.6v.6h-.6zM448.3 50.4h.6v.6h-.6zM430.7 61.1h.6v.6h-.6zM432.0 27.6h.6v.6h-.6zM410.9 85.0h.6v.6h-.6zM394.1 44.3h.6v.6h-.6zM471.4 54.3h.6v.6h-.6zM425.3 50.9h.6v.6h-.6zM484.9 35.3h.6v.6h-.6zM461.8 114.9h.6v.6h-.6zM411.0 69.7h.6v.6h-.6zM480.0 89.9h.6v.6h-.6zM430.8 30.4h.6v.6h-.6zM439.1 63.9h.6v.6h-.6zM470.7 56.4h.6v.6h-.6zM435.1 93.0h.6v.6h-.6zM482.2 62.3h.6v.6h-.6zM432.4 85.8h.6v.6h-.6zM495.5 45.7h.6v.6h-.6zM501.0 99.6h.6v.6h-.6zM430.9 94.8h.6v.6h-.6zM425.9 33.1h.6v.6h-.6zM475.8 65.1h.6v.6h-.6zM448.9 77.3h.6v.6h-.6zM492.8 104.3h.6v.6h-.6zM390.4 87.3h.6v.6h-.6zM441.5 73.7h.6v.6h-.6zM485.5 68.8h.6v.6h-.6zM442.8 118.1h.6v.6h-.6zM438.8 76.7h.6v.6h-.6zM447.2 111.3h.6v.6h-.6zM465.8 102.6h.6v.6h-.6zM434.4 30.0h.6v.6h-.6zM466.9 83.2h.6v.6h-.6zM477.3 105.6h.6v.6h-.6zM401.2 48.7h.6v.6h-.6zM396.4 110.6h.6v.6h-.6zM399.3 35.0h.6v.6h-.6zM475.5 84.3h.6v.6h-.6zM393.8 96.4h.6v.6h-.6zM470.5 75.9h.6v.6h-.6zM393.8 97.5h.6v.6h-.6zM436.3 86.4h.6v.6h-.6zM504.1 110.5h.6v.6h-.6zM489.3 40.9h.6v.6h-.6zM426.5 79.5h.6v.6h-.6zM388.1 128.3h.6v.6h-.6zM419.5 53.0h.6v.6h-.6zM424.0 52.2h.6v.6h-.6zM487.8 83.4h.6v.6h-.6zM447.1 69.4h.6v.6h-.6zM393.4 57.4h.6v.6h-.6zM488.7 109.0h.6v.6h-.6zM487.5 52.5h.6v.6h-.6zM411.0 31.2h.6v.6h-.6zM450.2 64.6h.6v.6h-.6zM441.7 76.5h.6v.6h-.6zM455.6 63.7h.6v.6h-.6zM481.1 46.6h.6v.6h-.6zM494.9 83.5h.6v.6h-.6zM393.4 58.4h.6v.6h-.6zM449.7 68.2h.6v.6h-.6zM453.4 59.4h.6v.6h-.6zM419.4 108.4h.6v.6h-.6zM421.5 99.5h.6v.6h-.6zM481.2 87.2h.6v.6h-.6zM440.5 122.7h.6v.6h-.6zM439.4 116.9h.6v.6h-.6zM394.1 70.8h.6v.6h-.6zM462.1 30.9h.6v.6h-.6zM488.2 33.3h.6v.6h-.6zM457.1 44.5h.6v.6h-.6zM495.2 84.0h.6v.6h-.6zM481.0 77.5h.6v.6h-.6zM466.2 95.8h.6v.6h-.6zM421.9 47.7h.6v.6h-.6zM485.4 40.9h.6v.6h-.6zM494.7 47.3h.6v.6h-.6zM399.2 35.7h.6v.6h-.6zM479.1 124.4h.6v.6h-.6zM435.9 94.1h.6v.6h-.6zM417.5 119.7h.6v.6h-.6zM467.6 41.9h.6v.6h-.6zM394.0 97.9h.6v.6h-.6zM392.3 112.5h.6v.6h-.6zM421.7 49.9h.6v.6h-.6zM455.4 58.9h.6v.6h-.6zM452.9 41.8h.6v.6h-.6zM494.0 59.4h.6v.6h-.6zM485.7 41.6h.6v.6h-.6zM480.8 127.4h.6v.6h-.6zM433.2 29.2h.6v.6h-.6zM431.8 92.2h.6v.6h-.6zM413.5 82.4h.6v.6h-.6zM398.3 74.0h.6v.6h-.6zM472.5 70.4h.6v.6h-.6zM466.8 37.7h.6v.6h-.6zM484.3 38.5h.6v.6h-.6zM495.3 129.1h.6v.6h-.6zM497.2 80.4h.6v.6h-.6zM421.4 61.9h.6v.6h-.6zM475.1 77.3h.6v.6h-.6zM496.1 35.4h.6v.6h-.6zM444.1 115.4h.6v.6h-.6zM457.3 81.9h.6v.6h-.6zM397.7 40.3h.6v.6h-.6zM419.1 118.4h.6v.6h-.6zM486.2 49.4h.6v.6h-.6zM495.5 29.2h.6v.6h-.6zM457.4 126.1h.6v.6h-.6zM427.6 123.7h.6v.6h-.6zM464.1 31.0h.6v.6h-.6zM426.3 72.4h.6v.6h-.6zM416.3 102.8h.6v.6h-.6zM408.3 107.5h.6v.6h-.6zM422.3 33.0h.6v.6h-.6zM452.8 35.7h.6v.6h-.6zM451.9 107.5h.6v.6h-.6zM457.0 73.6h.6v.6h-.6zM391.3 79.0h.6v.6h-.6zM398.8 92.9h.6v.6h-.6zM402.8 85.7h.6v.6h-.6zM428.7 64.7h.6v.6h-.6zM464.9 42.8h.6v.6h-.6zM407.2 123.4h.6v.6h-.6zM426.2 113.1h.6v.6h-.6zM489.5 75.6h.6v.6h-.6zM404.8 35.5h.6v.6h-.6zM490.2 37.9h.6v.6h-.6zM445.4 81.4h.6v.6h-.6zM401.1 74.3h.6v.6h-.6zM406.6 81.3h.6v.6h-.6zM446.6 63.8h.6v.6h-.6zM410.5 67.7h.6v.6h-.6zM411.2 39.0h.6v.6h-.6zM415.4 116.2h.6v.6h-.6zM446.1 118.2h.6v.6h-.6zM389.2 123.6h.6v.6h-.6zM444.5 107.8h.6v.6h-.6zM454.1 97.2h.6v.6h-.6zM414.2 103.6h.6v.6h-.6zM405.4 53.2h.6v.6h-.6zM391.0 66.6h.6v.6h-.6zM448.0 56.1h.6v.6h-.6zM491.5 34.5h.6v.6h-.6zM455.0 50.1h.6v.6h-.6zM457.0 107.1h.6v.6h-.6zM470.5 32.2h.6v.6h-.6zM416.1 87.9h.6v.6h-.6zM502.3 30.1h.6v.6h-.6zM459.7 97.5h.6v.6h-.6zM482.6 61.3h.6v.6h-.6zM482.2 73.7h.6v.6h-.6zM495.0 26.9h.6v.6h-.6zM497.3 68.5h.6v.6h-.6zM435.0 34.9h.6v.6h-.6zM416.0 101.9h.6v.6h-.6zM466.8 41.5h.6v.6h-.6zM427.7 40.4h.6v.6h-.6zM410.6 48.6h.6v.6h-.6zM426.1 127.0h.6v.6h-.6zM504.0 107.9h.6v.6h-.6zM443.5 77.4h.6v.6h-.6zM478.5 120.0h.6v.6h-.6zM475.2 91.8h.6v.6h-.6zM410.7 90.6h.6v.6h-.6zM486.3 107.4h.6v.6h-.6zM398.2 100.2h.6v.6h-.6zM428.2 42.6h.6v.6h-.6zM500.3 95.6h.6v.6h-.6zM474.6 39.8h.6v.6h-.6zM484.2 123.0h.6v.6h-.6zM493.2 103.1h.6v.6h-.6zM484.7 109.0h.6v.6h-.6zM456.4 70.9h.6v.6h-.6zM483.9 107.1h.6v.6h-.6zM489.2 56.8h.6v.6h-.6zM499.7 80.9h.6v.6h-.6zM498.0 37.8h.6v.6h-.6zM500.6 107.5h.6v.6h-.6zM416.9 112.7h.6v.6h-.6zM414.5 46.3h.6v.6h-.6zM440.9 50.3h.6v.6h-.6zM445.0 120.0h.6v.6h-.6zM467.5 99.5h.6v.6h-.6zM433.2 107.1h.6v.6h-.6zM480.2 96.6h.6v.6h-.6zM497.5 111.4h.6v.6h-.6zM434.9 34.8h.6v.6h-.6zM463.7 112.5h.6v.6h-.6zM427.1 87.5h.6v.6h-.6zM485.2 108.0h.6v.6h-.6zM387.9 76.5h.6v.6h-.6zM389.3 37.3h.6v.6h-.6zM482.4 69.2h.6v.6h-.6zM458.1 73.2h.6v.6h-.6zM426.6 48.0h.6v.6h-.6zM428.7 113.4h.6v.6h-.6zM459.8 56.1h.6v.6h-.6zM397.7 53.9h.6v.6h-.6zM469.4 71.6h.6v.6h-.6zM464.7 109.5h.6v.6h-.6zM401.5 96.6h.6v.6h-.6zM392.3 111.1h.6v.6h-.6zM408.9 54.0h.6v.6h-.6zM499.4 63.4h.6v.6h-.6zM413.6 118.1h.6v.6h-.6zM458.7 118.5h.6v.6h-.6zM433.5 77.6h.6v.6h-.6zM499.1 78.4h.6v.6h-.6zM503.0 45.4h.6v.6h-.6zM484.5 42.6h.6v.6h-.6zM449.0 25.8h.6v.6h-.6zM407.9 123.8h.6v.6h-.6zM440.5 109.7h.6v.6h-.6zM416.7 62.3h.6v.6h-.6zM399.2 83.1h.6v.6h-.6zM488.2 79.1h.6v.6h-.6zM431.4 122.1h.6v.6h-.6zM491.9 94.9h.6v.6h-.6zM396.3 90.5h.6v.6h-.6zM439.3 125.1h.6v.6h-.6zM429.7 94.4h.6v.6h-.6zM461.3 64.8h.6v.6h-.6zM448.4 96.0h.6v.6h-.6zM493.5 77.5h.6v.6h-.6zM429.9 127.0h.6v.6h-.6zM394.1 112.4h.6v.6h-.6zM467.3 83.6h.6v.6h-.6zM439.7 103.7h.6v.6h-.6zM491.6 101.4h.6v.6h-.6z" fill="#e8a8a0" fill-opacity="0.2"/>
<ellipse cx="421.0" cy="50.0" rx="20" ry="15" fill="url(#halo)" opacity="0.85" transform="rotate(0 421.0 50.0)"/>
<ellipse cx="471.0" cy="51.0" rx="15" ry="11" fill="url(#halo)" opacity="0.75" transform="rotate(0 471.0 51.0)"/>
<ellipse cx="470.0" cy="102.0" rx="24" ry="34" fill="url(#halo)" opacity="1" transform="rotate(0 470.0 102.0)"/>
<path d="M421.0 48.3h.7v.7h-.7zM418.8 53.1h.7v.7h-.7zM439.1 46.0h.7v.7h-.7zM428.4 56.8h.7v.7h-.7zM418.5 49.1h.7v.7h-.7zM409.4 56.8h.7v.7h-.7zM416.4 45.9h.7v.7h-.7zM421.6 44.6h.7v.7h-.7zM412.0 48.1h.7v.7h-.7zM433.9 48.7h.7v.7h-.7zM425.6 40.8h.7v.7h-.7zM404.1 61.4h.7v.7h-.7zM417.5 40.4h.7v.7h-.7zM420.1 53.8h.7v.7h-.7zM406.0 44.5h.7v.7h-.7zM423.3 44.2h.7v.7h-.7zM427.9 56.0h.7v.7h-.7zM424.8 47.3h.7v.7h-.7zM420.6 46.0h.7v.7h-.7zM419.9 52.0h.7v.7h-.7zM418.4 56.1h.7v.7h-.7zM443.5 46.6h.7v.7h-.7zM424.0 55.2h.7v.7h-.7zM426.6 48.5h.7v.7h-.7zM416.8 56.3h.7v.7h-.7zM426.4 53.2h.7v.7h-.7zM414.0 54.0h.7v.7h-.7zM427.9 48.8h.7v.7h-.7zM426.6 63.6h.7v.7h-.7zM404.7 53.8h.7v.7h-.7zM410.8 41.4h.7v.7h-.7zM419.0 53.4h.7v.7h-.7zM421.5 42.7h.7v.7h-.7zM408.5 46.5h.7v.7h-.7zM421.1 44.8h.7v.7h-.7zM407.9 61.0h.7v.7h-.7zM413.7 49.0h.7v.7h-.7zM416.2 46.3h.7v.7h-.7zM421.3 48.1h.7v.7h-.7zM426.4 42.6h.7v.7h-.7zM408.1 62.3h.7v.7h-.7zM420.3 54.8h.7v.7h-.7zM431.3 53.5h.7v.7h-.7zM421.3 40.2h.7v.7h-.7zM407.1 56.2h.7v.7h-.7zM426.9 53.6h.7v.7h-.7zM406.5 36.6h.7v.7h-.7zM411.8 42.6h.7v.7h-.7zM422.4 43.6h.7v.7h-.7zM434.8 46.1h.7v.7h-.7zM416.1 55.4h.7v.7h-.7zM423.9 44.3h.7v.7h-.7zM428.2 62.1h.7v.7h-.7zM410.3 48.4h.7v.7h-.7zM411.6 37.8h.7v.7h-.7zM426.5 54.4h.7v.7h-.7zM429.5 52.7h.7v.7h-.7zM403.4 49.8h.7v.7h-.7zM415.2 42.6h.7v.7h-.7zM411.3 54.8h.7v.7h-.7zM418.4 62.4h.7v.7h-.7zM425.1 38.0h.7v.7h-.7zM428.8 57.9h.7v.7h-.7zM421.3 42.3h.7v.7h-.7zM436.5 41.7h.7v.7h-.7zM420.3 38.0h.7v.7h-.7zM410.0 39.3h.7v.7h-.7zM430.5 57.5h.7v.7h-.7zM417.5 41.4h.7v.7h-.7zM420.5 52.4h.7v.7h-.7zM407.6 42.7h.7v.7h-.7zM420.1 54.5h.7v.7h-.7zM421.7 52.8h.7v.7h-.7zM410.1 34.2h.7v.7h-.7zM423.7 44.2h.7v.7h-.7zM419.9 47.6h.7v.7h-.7zM425.2 45.1h.7v.7h-.7zM433.7 50.2h.7v.7h-.7zM425.6 54.0h.7v.7h-.7zM430.1 52.6h.7v.7h-.7zM405.6 46.0h.7v.7h-.7zM437.4 53.0h.7v.7h-.7zM425.9 53.0h.7v.7h-.7zM415.4 45.7h.7v.7h-.7zM415.3 57.4h.7v.7h-.7zM424.2 61.3h.7v.7h-.7zM425.4 62.0h.7v.7h-.7zM425.0 42.5h.7v.7h-.7zM436.3 52.1h.7v.7h-.7zM431.5 51.4h.7v.7h-.7zM418.1 51.1h.7v.7h-.7zM411.1 42.4h.7v.7h-.7zM413.2 46.7h.7v.7h-.7zM409.0 49.3h.7v.7h-.7zM423.7 62.9h.7v.7h-.7zM437.2 49.7h.7v.7h-.7zM428.8 48.6h.7v.7h-.7zM424.5 49.8h.7v.7h-.7zM416.2 50.5h.7v.7h-.7zM407.9 52.8h.7v.7h-.7zM418.4 43.1h.7v.7h-.7zM417.8 53.5h.7v.7h-.7zM415.0 53.0h.7v.7h-.7zM426.0 60.0h.7v.7h-.7zM411.4 49.3h.7v.7h-.7zM425.5 59.6h.7v.7h-.7zM423.3 54.8h.7v.7h-.7zM408.0 46.3h.7v.7h-.7zM435.7 48.2h.7v.7h-.7zM440.2 45.3h.7v.7h-.7zM418.5 39.8h.7v.7h-.7zM426.6 51.7h.7v.7h-.7zM438.9 51.1h.7v.7h-.7zM418.8 41.0h.7v.7h-.7zM420.3 56.1h.7v.7h-.7zM427.6 57.9h.7v.7h-.7zM428.7 49.7h.7v.7h-.7zM426.4 51.1h.7v.7h-.7zM409.2 61.0h.7v.7h-.7zM424.3 43.3h.7v.7h-.7zM424.4 51.8h.7v.7h-.7zM429.9 59.3h.7v.7h-.7zM394.0 53.6h.7v.7h-.7zM434.6 43.9h.7v.7h-.7zM404.5 51.8h.7v.7h-.7zM424.0 52.3h.7v.7h-.7zM411.1 47.0h.7v.7h-.7zM422.7 54.8h.7v.7h-.7zM440.5 51.9h.7v.7h-.7zM415.6 34.8h.7v.7h-.7zM430.6 49.2h.7v.7h-.7zM420.0 43.6h.7v.7h-.7zM427.5 38.5h.7v.7h-.7zM422.0 50.8h.7v.7h-.7zM423.7 58.4h.7v.7h-.7zM420.1 50.6h.7v.7h-.7zM428.6 40.0h.7v.7h-.7zM418.4 50.4h.7v.7h-.7zM429.5 44.8h.7v.7h-.7zM428.2 52.5h.7v.7h-.7zM407.7 40.5h.7v.7h-.7zM408.2 50.9h.7v.7h-.7zM422.8 54.7h.7v.7h-.7zM428.3 46.4h.7v.7h-.7zM430.6 55.3h.7v.7h-.7zM425.2 53.1h.7v.7h-.7zM409.5 52.3h.7v.7h-.7zM411.8 42.3h.7v.7h-.7zM417.9 50.9h.7v.7h-.7zM420.5 47.9h.7v.7h-.7zM412.1 51.2h.7v.7h-.7zM414.4 40.9h.7v.7h-.7zM421.8 59.4h.7v.7h-.7zM417.4 43.1h.7v.7h-.7zM433.4 61.1h.7v.7h-.7zM418.4 48.6h.7v.7h-.7zM422.9 69.1h.7v.7h-.7zM422.2 56.4h.7v.7h-.7zM425.0 38.2h.7v.7h-.7zM411.1 42.0h.7v.7h-.7zM424.9 50.7h.7v.7h-.7zM437.0 48.3h.7v.7h-.7zM423.8 50.5h.7v.7h-.7zM422.2 65.0h.7v.7h-.7zM423.6 59.5h.7v.7h-.7zM432.6 46.1h.7v.7h-.7zM427.1 47.5h.7v.7h-.7zM422.0 51.0h.7v.7h-.7zM421.2 47.0h.7v.7h-.7zM435.0 48.3h.7v.7h-.7zM427.3 60.9h.7v.7h-.7zM426.6 56.6h.7v.7h-.7zM433.5 57.1h.7v.7h-.7zM436.4 40.7h.7v.7h-.7zM438.6 50.2h.7v.7h-.7zM405.3 45.8h.7v.7h-.7zM408.5 49.9h.7v.7h-.7zM407.6 43.5h.7v.7h-.7zM423.7 51.0h.7v.7h-.7zM413.8 48.5h.7v.7h-.7zM420.1 50.5h.7v.7h-.7zM420.9 48.6h.7v.7h-.7zM428.9 39.6h.7v.7h-.7zM416.6 50.9h.7v.7h-.7zM417.4 46.4h.7v.7h-.7zM417.1 51.4h.7v.7h-.7zM432.2 48.8h.7v.7h-.7zM418.6 52.3h.7v.7h-.7zM418.8 37.4h.7v.7h-.7zM423.4 47.5h.7v.7h-.7zM415.9 54.1h.7v.7h-.7zM421.4 46.3h.7v.7h-.7zM401.4 38.8h.7v.7h-.7zM421.1 49.2h.7v.7h-.7zM424.9 51.4h.7v.7h-.7zM416.7 41.8h.7v.7h-.7zM411.2 49.1h.7v.7h-.7zM410.7 54.9h.7v.7h-.7zM409.1 38.4h.7v.7h-.7zM419.3 38.5h.7v.7h-.7zM435.6 43.6h.7v.7h-.7zM420.5 48.4h.7v.7h-.7zM413.6 38.5h.7v.7h-.7zM404.3 55.6h.7v.7h-.7zM430.2 64.1h.7v.7h-.7zM407.8 53.6h.7v.7h-.7zM420.9 55.5h.7v.7h-.7zM416.4 54.7h.7v.7h-.7zM429.1 53.9h.7v.7h-.7zM434.0 48.9h.7v.7h-.7zM434.9 45.4h.7v.7h-.7zM436.0 32.1h.7v.7h-.7zM421.1 44.8h.7v.7h-.7zM421.0 56.7h.7v.7h-.7zM427.5 50.6h.7v.7h-.7zM436.3 40.4h.7v.7h-.7zM413.7 59.8h.7v.7h-.7zM424.0 36.5h.7v.7h-.7zM424.1 42.3h.7v.7h-.7zM434.3 57.4h.7v.7h-.7zM416.1 58.4h.7v.7h-.7zM413.5 56.0h.7v.7h-.7zM426.2 49.2h.7v.7h-.7zM408.2 48.2h.7v.7h-.7zM400.4 46.3h.7v.7h-.7zM404.3 57.9h.7v.7h-.7zM412.3 34.2h.7v.7h-.7zM426.3 52.4h.7v.7h-.7zM416.4 63.8h.7v.7h-.7zM428.0 50.4h.7v.7h-.7zM415.2 30.8h.7v.7h-.7zM425.3 56.2h.7v.7h-.7zM415.7 40.8h.7v.7h-.7zM420.6 39.1h.7v.7h-.7zM421.1 55.0h.7v.7h-.7zM434.6 51.7h.7v.7h-.7zM422.8 54.9h.7v.7h-.7zM433.6 47.9h.7v.7h-.7zM409.9 44.9h.7v.7h-.7zM409.7 44.2h.7v.7h-.7z" fill="#ec7868" fill-opacity="0.32"/>
<path d="M470.2 52.5h.7v.7h-.7zM472.0 51.3h.7v.7h-.7zM468.7 52.9h.7v.7h-.7zM476.8 54.4h.7v.7h-.7zM480.7 49.7h.7v.7h-.7zM469.4 58.6h.7v.7h-.7zM472.3 52.9h.7v.7h-.7zM468.8 55.4h.7v.7h-.7zM468.4 46.5h.7v.7h-.7zM470.6 49.0h.7v.7h-.7zM476.4 49.3h.7v.7h-.7zM471.8 50.0h.7v.7h-.7zM473.2 48.2h.7v.7h-.7zM478.2 44.6h.7v.7h-.7zM468.5 47.8h.7v.7h-.7zM475.2 51.2h.7v.7h-.7zM474.2 49.5h.7v.7h-.7zM466.3 46.0h.7v.7h-.7zM468.8 48.6h.7v.7h-.7zM472.8 52.6h.7v.7h-.7zM477.4 50.5h.7v.7h-.7zM466.1 46.2h.7v.7h-.7zM471.4 52.6h.7v.7h-.7zM483.7 51.8h.7v.7h-.7zM482.4 59.4h.7v.7h-.7zM464.2 56.4h.7v.7h-.7zM478.4 57.1h.7v.7h-.7zM470.9 55.3h.7v.7h-.7zM467.9 50.7h.7v.7h-.7zM471.1 59.0h.7v.7h-.7zM469.6 55.3h.7v.7h-.7zM471.4 47.8h.7v.7h-.7zM472.6 54.0h.7v.7h-.7zM466.4 53.9h.7v.7h-.7zM466.4 47.1h.7v.7h-.7zM472.4 49.9h.7v.7h-.7zM464.6 43.7h.7v.7h-.7zM471.2 52.1h.7v.7h-.7zM468.0 51.8h.7v.7h-.7zM461.1 52.8h.7v.7h-.7zM473.7 52.3h.7v.7h-.7zM467.0 51.4h.7v.7h-.7zM471.8 55.8h.7v.7h-.7zM472.8 52.1h.7v.7h-.7zM466.3 54.9h.7v.7h-.7zM478.6 48.8h.7v.7h-.7zM475.2 52.4h.7v.7h-.7zM470.7 45.2h.7v.7h-.7zM482.4 42.6h.7v.7h-.7zM473.0 49.3h.7v.7h-.7zM478.4 49.1h.7v.7h-.7zM471.3 53.7h.7v.7h-.7zM474.0 48.7h.7v.7h-.7zM475.4 52.8h.7v.7h-.7zM477.4 48.7h.7v.7h-.7zM470.7 49.2h.7v.7h-.7zM465.6 52.1h.7v.7h-.7zM473.7 57.4h.7v.7h-.7zM468.9 52.7h.7v.7h-.7zM478.4 50.5h.7v.7h-.7zM471.4 51.6h.7v.7h-.7zM466.5 46.6h.7v.7h-.7zM478.2 51.8h.7v.7h-.7zM470.5 45.4h.7v.7h-.7zM471.8 56.3h.7v.7h-.7zM463.5 47.0h.7v.7h-.7zM478.2 57.4h.7v.7h-.7zM481.1 48.5h.7v.7h-.7zM474.9 47.6h.7v.7h-.7zM474.4 49.4h.7v.7h-.7zM472.3 57.0h.7v.7h-.7zM473.2 49.9h.7v.7h-.7zM471.4 52.2h.7v.7h-.7zM467.7 51.9h.7v.7h-.7zM474.9 58.0h.7v.7h-.7zM457.7 45.7h.7v.7h-.7zM463.0 54.9h.7v.7h-.7zM486.8 51.9h.7v.7h-.7zM471.8 56.1h.7v.7h-.7zM455.2 50.2h.7v.7h-.7zM450.9 51.7h.7v.7h-.7zM467.7 48.8h.7v.7h-.7zM473.2 48.4h.7v.7h-.7zM478.2 51.0h.7v.7h-.7zM473.5 62.3h.7v.7h-.7zM468.1 55.1h.7v.7h-.7zM465.7 56.6h.7v.7h-.7zM477.2 51.6h.7v.7h-.7zM477.4 58.2h.7v.7h-.7zM479.9 51.0h.7v.7h-.7zM470.6 55.9h.7v.7h-.7zM461.5 48.3h.7v.7h-.7zM474.1 53.5h.7v.7h-.7zM483.0 58.9h.7v.7h-.7zM473.1 53.0h.7v.7h-.7zM462.5 50.2h.7v.7h-.7zM472.7 50.0h.7v.7h-.7zM471.4 53.7h.7v.7h-.7zM464.9 48.5h.7v.7h-.7zM459.6 56.1h.7v.7h-.7zM464.2 43.4h.7v.7h-.7zM476.0 50.0h.7v.7h-.7zM477.2 49.4h.7v.7h-.7zM484.7 54.2h.7v.7h-.7zM472.0 51.5h.7v.7h-.7zM469.7 54.6h.7v.7h-.7zM483.9 49.1h.7v.7h-.7zM464.0 53.7h.7v.7h-.7zM477.9 44.4h.7v.7h-.7zM466.6 46.6h.7v.7h-.7zM474.6 53.2h.7v.7h-.7zM466.3 46.0h.7v.7h-.7zM475.4 41.9h.7v.7h-.7zM475.1 50.3h.7v.7h-.7zM483.3 55.4h.7v.7h-.7zM467.3 49.8h.7v.7h-.7zM469.2 47.8h.7v.7h-.7zM471.5 55.3h.7v.7h-.7zM461.3 50.0h.7v.7h-.7zM480.6 54.3h.7v.7h-.7zM465.8 47.4h.7v.7h-.7zM465.5 43.9h.7v.7h-.7zM478.4 51.3h.7v.7h-.7zM466.5 44.6h.7v.7h-.7zM468.5 48.7h.7v.7h-.7zM482.0 49.0h.7v.7h-.7zM471.7 55.7h.7v.7h-.7zM475.3 50.2h.7v.7h-.7zM457.0 57.2h.7v.7h-.7zM474.8 49.1h.7v.7h-.7z" fill="#ec7868" fill-opacity="0.32"/>
<path d="M469.1 91.8h.7v.7h-.7zM461.2 85.0h.7v.7h-.7zM474.9 110.6h.7v.7h-.7zM471.7 114.0h.7v.7h-.7zM475.3 105.6h.7v.7h-.7zM461.3 111.6h.7v.7h-.7zM481.7 112.1h.7v.7h-.7zM482.3 98.0h.7v.7h-.7zM460.4 120.0h.7v.7h-.7zM464.3 107.1h.7v.7h-.7zM468.1 104.3h.7v.7h-.7zM467.3 97.1h.7v.7h-.7zM452.5 128.3h.7v.7h-.7zM472.0 79.4h.7v.7h-.7zM461.1 89.6h.7v.7h-.7zM462.7 71.5h.7v.7h-.7zM475.6 124.9h.7v.7h-.7zM467.6 113.5h.7v.7h-.7zM475.9 88.1h.7v.7h-.7zM482.0 82.5h.7v.7h-.7zM464.4 99.4h.7v.7h-.7zM482.3 105.5h.7v.7h-.7zM468.8 93.8h.7v.7h-.7zM470.9 104.5h.7v.7h-.7zM477.2 121.8h.7v.7h-.7zM477.2 104.2h.7v.7h-.7zM468.5 124.4h.7v.7h-.7zM472.0 103.8h.7v.7h-.7zM487.6 124.0h.7v.7h-.7zM475.6 102.6h.7v.7h-.7zM463.8 117.6h.7v.7h-.7zM465.6 116.2h.7v.7h-.7zM462.3 105.3h.7v.7h-.7zM473.9 105.8h.7v.7h-.7zM472.3 108.9h.7v.7h-.7zM459.0 89.9h.7v.7h-.7zM468.6 127.0h.7v.7h-.7zM468.8 92.2h.7v.7h-.7zM463.5 104.4h.7v.7h-.7zM481.6 96.8h.7v.7h-.7zM475.5 106.4h.7v.7h-.7zM466.5 92.0h.7v.7h-.7zM468.5 94.8h.7v.7h-.7zM475.3 81.6h.7v.7h-.7zM481.0 113.6h.7v.7h-.7zM475.7 123.0h.7v.7h-.7zM475.9 82.3h.7v.7h-.7zM470.5 109.7h.7v.7h-.7zM463.3 89.6h.7v.7h-.7zM474.2 110.5h.7v.7h-.7zM465.8 100.9h.7v.7h-.7zM465.1 96.8h.7v.7h-.7zM469.4 117.6h.7v.7h-.7zM454.3 99.7h.7v.7h-.7zM485.8 108.0h.7v.7h-.7zM471.5 114.6h.7v.7h-.7zM460.2 88.7h.7v.7h-.7zM453.8 85.5h.7v.7h-.7zM472.4 114.8h.7v.7h-.7zM465.9 95.4h.7v.7h-.7zM473.9 111.8h.7v.7h-.7zM472.5 79.9h.7v.7h-.7zM464.7 71.9h.7v.7h-.7zM472.4 93.2h.7v.7h-.7zM463.6 123.0h.7v.7h-.7zM482.9 110.1h.7v.7h-.7zM472.7 106.2h.7v.7h-.7zM464.3 103.4h.7v.7h-.7zM488.6 92.9h.7v.7h-.7zM463.6 106.1h.7v.7h-.7zM478.7 114.6h.7v.7h-.7zM460.6 102.4h.7v.7h-.7zM467.4 88.4h.7v.7h-.7zM470.8 97.9h.7v.7h-.7zM479.0 109.5h.7v.7h-.7zM462.4 105.0h.7v.7h-.7zM466.5 96.0h.7v.7h-.7zM465.3 117.5h.7v.7h-.7zM466.0 82.3h.7v.7h-.7zM462.5 114.2h.7v.7h-.7zM490.9 90.7h.7v.7h-.7zM466.5 99.8h.7v.7h-.7zM456.3 109.1h.7v.7h-.7zM469.5 107.5h.7v.7h-.7zM491.8 100.6h.7v.7h-.7zM477.7 114.5h.7v.7h-.7zM463.8 96.5h.7v.7h-.7zM485.1 113.0h.7v.7h-.7zM471.4 90.2h.7v.7h-.7zM478.6 110.7h.7v.7h-.7zM491.4 122.6h.7v.7h-.7zM477.8 107.4h.7v.7h-.7zM470.6 97.0h.7v.7h-.7zM473.0 107.1h.7v.7h-.7zM476.3 117.7h.7v.7h-.7zM473.0 97.1h.7v.7h-.7zM477.9 123.6h.7v.7h-.7zM461.9 109.3h.7v.7h-.7zM475.3 110.8h.7v.7h-.7zM474.9 102.9h.7v.7h-.7zM469.0 125.3h.7v.7h-.7zM486.8 86.3h.7v.7h-.7zM445.3 109.5h.7v.7h-.7zM463.4 97.5h.7v.7h-.7zM454.5 108.5h.7v.7h-.7zM469.5 97.2h.7v.7h-.7zM484.3 118.8h.7v.7h-.7zM466.0 112.3h.7v.7h-.7zM469.6 118.6h.7v.7h-.7zM475.7 103.6h.7v.7h-.7zM475.4 94.9h.7v.7h-.7zM477.7 123.0h.7v.7h-.7zM466.5 111.0h.7v.7h-.7zM453.8 115.8h.7v.7h-.7zM478.5 91.1h.7v.7h-.7zM486.9 105.4h.7v.7h-.7zM453.2 86.7h.7v.7h-.7zM478.5 100.6h.7v.7h-.7zM480.7 84.4h.7v.7h-.7zM469.0 116.3h.7v.7h-.7zM463.4 112.6h.7v.7h-.7zM466.5 108.4h.7v.7h-.7zM458.0 113.8h.7v.7h-.7zM482.8 89.8h.7v.7h-.7zM480.2 66.5h.7v.7h-.7zM467.7 82.4h.7v.7h-.7zM472.9 94.8h.7v.7h-.7zM464.5 93.4h.7v.7h-.7zM472.9 98.1h.7v.7h-.7zM461.2 101.1h.7v.7h-.7zM474.0 93.2h.7v.7h-.7zM480.8 83.0h.7v.7h-.7zM474.0 99.1h.7v.7h-.7zM485.3 95.9h.7v.7h-.7zM463.6 87.1h.7v.7h-.7zM489.3 111.8h.7v.7h-.7zM459.5 99.8h.7v.7h-.7zM460.7 123.2h.7v.7h-.7zM474.1 78.3h.7v.7h-.7zM472.0 115.6h.7v.7h-.7zM470.0 110.0h.7v.7h-.7zM468.9 106.6h.7v.7h-.7zM472.1 95.1h.7v.7h-.7zM473.4 106.1h.7v.7h-.7zM469.6 95.4h.7v.7h-.7zM460.1 107.1h.7v.7h-.7zM478.0 73.5h.7v.7h-.7zM464.8 121.1h.7v.7h-.7zM478.9 95.0h.7v.7h-.7zM483.1 91.5h.7v.7h-.7zM462.3 128.5h.7v.7h-.7zM465.8 101.3h.7v.7h-.7zM454.0 91.2h.7v.7h-.7zM458.6 102.3h.7v.7h-.7zM452.2 117.4h.7v.7h-.7zM466.5 96.3h.7v.7h-.7zM463.8 113.4h.7v.7h-.7zM484.9 98.8h.7v.7h-.7zM485.7 124.4h.7v.7h-.7zM483.0 107.8h.7v.7h-.7zM455.5 112.5h.7v.7h-.7zM466.0 106.5h.7v.7h-.7zM451.7 100.4h.7v.7h-.7zM472.3 92.2h.7v.7h-.7zM472.9 125.2h.7v.7h-.7zM472.2 95.3h.7v.7h-.7zM493.2 76.8h.7v.7h-.7zM461.1 109.2h.7v.7h-.7zM464.2 75.0h.7v.7h-.7zM472.5 114.5h.7v.7h-.7zM462.3 122.6h.7v.7h-.7zM474.9 119.1h.7v.7h-.7zM455.1 104.0h.7v.7h-.7zM482.8 104.0h.7v.7h-.7zM471.8 96.1h.7v.7h-.7zM480.7 95.2h.7v.7h-.7zM471.2 77.9h.7v.7h-.7zM455.3 126.5h.7v.7h-.7zM470.6 106.7h.7v.7h-.7zM448.6 103.6h.7v.7h-.7zM490.2 85.0h.7v.7h-.7zM446.8 102.0h.7v.7h-.7zM464.8 101.3h.7v.7h-.7zM457.7 86.8h.7v.7h-.7zM457.9 112.1h.7v.7h-.7zM469.5 114.4h.7v.7h-.7zM459.5 111.5h.7v.7h-.7zM465.7 105.1h.7v.7h-.7zM479.1 104.4h.7v.7h-.7zM466.6 82.9h.7v.7h-.7zM470.6 114.0h.7v.7h-.7zM463.8 103.2h.7v.7h-.7zM452.7 87.0h.7v.7h-.7zM473.9 120.5h.7v.7h-.7zM467.0 82.7h.7v.7h-.7zM466.3 84.1h.7v.7h-.7zM467.3 128.6h.7v.7h-.7zM472.9 102.1h.7v.7h-.7zM480.2 99.2h.7v.7h-.7zM473.3 106.5h.7v.7h-.7zM474.4 85.3h.7v.7h-.7zM477.0 115.2h.7v.7h-.7zM447.6 69.4h.7v.7h-.7zM461.2 123.0h.7v.7h-.7zM470.2 112.7h.7v.7h-.7zM475.4 115.3h.7v.7h-.7zM463.7 96.5h.7v.7h-.7zM473.7 111.8h.7v.7h-.7zM475.6 108.3h.7v.7h-.7zM465.2 118.1h.7v.7h-.7zM474.6 117.6h.7v.7h-.7zM445.0 116.9h.7v.7h-.7zM446.0 106.7h.7v.7h-.7zM463.5 105.5h.7v.7h-.7zM465.3 100.0h.7v.7h-.7zM471.9 108.4h.7v.7h-.7zM462.1 71.6h.7v.7h-.7zM462.3 110.9h.7v.7h-.7zM461.7 109.5h.7v.7h-.7zM466.4 91.9h.7v.7h-.7zM481.5 125.2h.7v.7h-.7zM469.0 103.4h.7v.7h-.7zM479.4 87.0h.7v.7h-.7zM461.4 118.5h.7v.7h-.7zM478.9 97.7h.7v.7h-.7zM462.3 108.5h.7v.7h-.7zM456.1 97.6h.7v.7h-.7zM467.7 72.4h.7v.7h-.7zM475.8 113.8h.7v.7h-.7zM480.5 85.5h.7v.7h-.7zM457.3 93.5h.7v.7h-.7zM460.3 100.0h.7v.7h-.7zM472.0 109.9h.7v.7h-.7zM484.4 90.0h.7v.7h-.7zM478.7 105.9h.7v.7h-.7zM458.4 105.9h.7v.7h-.7zM456.1 124.9h.7v.7h-.7zM462.8 117.0h.7v.7h-.7zM482.9 96.0h.7v.7h-.7zM461.1 105.7h.7v.7h-.7zM459.6 115.6h.7v.7h-.7zM471.7 94.2h.7v.7h-.7zM463.2 113.4h.7v.7h-.7zM455.6 125.8h.7v.7h-.7zM462.2 101.5h.7v.7h-.7zM460.8 125.0h.7v.7h-.7zM478.2 120.8h.7v.7h-.7zM476.5 105.2h.7v.7h-.7zM486.8 112.6h.7v.7h-.7zM474.3 111.5h.7v.7h-.7zM477.3 107.6h.7v.7h-.7zM468.3 83.4h.7v.7h-.7zM490.5 87.2h.7v.7h-.7zM448.6 94.8h.7v.7h-.7zM489.3 119.8h.7v.7h-.7zM464.0 107.4h.7v.7h-.7zM469.8 78.3h.7v.7h-.7zM466.7 107.8h.7v.7h-.7zM481.7 88.4h.7v.7h-.7zM447.5 83.6h.7v.7h-.7zM473.3 105.0h.7v.7h-.7zM471.5 105.9h.7v.7h-.7zM466.3 86.3h.7v.7h-.7zM474.5 109.0h.7v.7h-.7zM475.8 120.2h.7v.7h-.7zM457.6 73.6h.7v.7h-.7zM460.9 109.2h.7v.7h-.7zM469.8 113.5h.7v.7h-.7zM502.1 97.3h.7v.7h-.7zM468.3 96.2h.7v.7h-.7zM472.5 110.8h.7v.7h-.7zM460.3 121.1h.7v.7h-.7zM481.5 109.8h.7v.7h-.7zM468.9 100.9h.7v.7h-.7zM453.6 112.5h.7v.7h-.7zM460.3 97.5h.7v.7h-.7zM480.0 92.0h.7v.7h-.7zM464.8 115.2h.7v.7h-.7zM488.6 95.0h.7v.7h-.7zM481.0 95.5h.7v.7h-.7zM473.9 110.3h.7v.7h-.7zM458.6 117.3h.7v.7h-.7zM488.0 104.7h.7v.7h-.7zM472.7 88.8h.7v.7h-.7zM487.9 104.8h.7v.7h-.7zM457.2 113.9h.7v.7h-.7zM455.4 95.1h.7v.7h-.7zM448.7 121.9h.7v.7h-.7zM492.1 95.7h.7v.7h-.7zM463.5 96.5h.7v.7h-.7zM464.3 111.2h.7v.7h-.7zM484.6 90.9h.7v.7h-.7zM474.4 80.6h.7v.7h-.7zM485.2 102.9h.7v.7h-.7zM463.0 123.9h.7v.7h-.7zM468.9 121.8h.7v.7h-.7zM480.7 125.5h.7v.7h-.7zM462.0 104.7h.7v.7h-.7zM473.7 101.5h.7v.7h-.7zM485.2 94.7h.7v.7h-.7zM480.0 121.7h.7v.7h-.7zM450.5 91.4h.7v.7h-.7zM461.0 96.9h.7v.7h-.7zM473.9 101.7h.7v.7h-.7zM470.8 98.0h.7v.7h-.7zM469.2 110.3h.7v.7h-.7zM477.5 93.8h.7v.7h-.7zM468.9 94.1h.7v.7h-.7zM468.2 85.3h.7v.7h-.7zM479.5 112.7h.7v.7h-.7zM468.8 95.1h.7v.7h-.7zM465.4 95.3h.7v.7h-.7zM454.6 125.2h.7v.7h-.7zM502.9 88.0h.7v.7h-.7zM458.3 111.5h.7v.7h-.7zM476.1 83.5h.7v.7h-.7zM450.8 111.0h.7v.7h-.7zM450.1 122.5h.7v.7h-.7zM465.0 105.1h.7v.7h-.7zM470.0 96.7h.7v.7h-.7zM468.6 100.1h.7v.7h-.7zM482.4 102.8h.7v.7h-.7zM469.7 97.1h.7v.7h-.7zM463.7 94.4h.7v.7h-.7zM470.1 127.9h.7v.7h-.7zM481.2 107.1h.7v.7h-.7zM486.7 117.2h.7v.7h-.7zM472.1 101.9h.7v.7h-.7zM459.0 107.2h.7v.7h-.7zM466.8 83.4h.7v.7h-.7zM457.2 129.2h.7v.7h-.7zM472.1 110.5h.7v.7h-.7zM472.0 98.0h.7v.7h-.7zM474.6 118.1h.7v.7h-.7zM466.9 110.7h.7v.7h-.7zM480.3 97.7h.7v.7h-.7zM471.7 94.4h.7v.7h-.7zM476.0 99.2h.7v.7h-.7zM481.5 94.1h.7v.7h-.7zM486.9 100.0h.7v.7h-.7zM461.6 92.3h.7v.7h-.7zM476.6 92.9h.7v.7h-.7zM488.0 120.7h.7v.7h-.7zM475.2 85.5h.7v.7h-.7zM469.8 94.6h.7v.7h-.7zM451.9 109.5h.7v.7h-.7zM492.0 97.0h.7v.7h-.7zM478.1 120.7h.7v.7h-.7zM460.4 99.6h.7v.7h-.7zM472.7 110.1h.7v.7h-.7zM458.5 106.8h.7v.7h-.7zM468.9 116.4h.7v.7h-.7zM454.0 96.7h.7v.7h-.7zM465.0 99.9h.7v.7h-.7zM477.2 95.8h.7v.7h-.7zM497.4 94.8h.7v.7h-.7zM478.4 117.3h.7v.7h-.7zM479.6 101.3h.7v.7h-.7zM461.7 100.7h.7v.7h-.7zM476.7 105.6h.7v.7h-.7zM475.8 111.5h.7v.7h-.7zM461.2 91.8h.7v.7h-.7zM484.4 97.7h.7v.7h-.7zM454.2 128.2h.7v.7h-.7zM461.7 91.9h.7v.7h-.7zM479.7 89.3h.7v.7h-.7zM461.3 117.6h.7v.7h-.7zM471.3 104.7h.7v.7h-.7zM463.6 101.1h.7v.7h-.7zM465.0 103.7h.7v.7h-.7zM477.7 87.5h.7v.7h-.7zM460.8 76.8h.7v.7h-.7zM485.0 103.0h.7v.7h-.7zM469.9 103.2h.7v.7h-.7zM480.0 108.2h.7v.7h-.7zM478.5 101.8h.7v.7h-.7zM468.8 103.3h.7v.7h-.7zM451.4 118.2h.7v.7h-.7zM454.2 91.1h.7v.7h-.7zM476.7 104.7h.7v.7h-.7zM478.1 126.2h.7v.7h-.7zM488.6 122.0h.7v.7h-.7zM461.2 102.9h.7v.7h-.7zM480.0 101.2h.7v.7h-.7zM468.8 99.4h.7v.7h-.7zM483.6 71.9h.7v.7h-.7zM482.7 117.8h.7v.7h-.7zM469.3 111.3h.7v.7h-.7zM460.3 118.4h.7v.7h-.7zM500.6 92.0h.7v.7h-.7zM484.0 103.3h.7v.7h-.7zM466.6 97.7h.7v.7h-.7zM468.1 87.7h.7v.7h-.7zM456.4 125.6h.7v.7h-.7zM469.8 111.2h.7v.7h-.7zM473.1 110.2h.7v.7h-.7zM454.7 91.7h.7v.7h-.7zM476.3 117.0h.7v.7h-.7zM458.6 96.5h.7v.7h-.7zM459.3 112.5h.7v.7h-.7zM473.4 104.4h.7v.7h-.7zM463.5 108.5h.7v.7h-.7zM470.3 94.3h.7v.7h-.7zM473.3 95.4h.7v.7h-.7zM479.5 112.1h.7v.7h-.7zM463.1 111.6h.7v.7h-.7zM470.7 94.8h.7v.7h-.7zM460.9 82.4h.7v.7h-.7zM458.7 108.5h.7v.7h-.7zM482.1 95.8h.7v.7h-.7zM471.6 108.5h.7v.7h-.7zM477.8 109.8h.7v.7h-.7zM482.3 114.0h.7v.7h-.7zM462.4 109.2h.7v.7h-.7zM446.6 101.7h.7v.7h-.7zM470.2 111.5h.7v.7h-.7zM467.0 114.8h.7v.7h-.7zM483.2 93.1h.7v.7h-.7zM464.6 107.4h.7v.7h-.7zM474.9 105.9h.7v.7h-.7zM478.3 88.6h.7v.7h-.7zM477.8 119.2h.7v.7h-.7zM481.1 109.5h.7v.7h-.7zM467.6 109.2h.7v.7h-.7zM469.3 83.4h.7v.7h-.7zM463.9 103.5h.7v.7h-.7zM464.8 91.9h.7v.7h-.7zM467.7 99.2h.7v.7h-.7zM470.7 103.4h.7v.7h-.7zM471.7 116.9h.7v.7h-.7zM471.4 109.3h.7v.7h-.7zM457.8 65.7h.7v.7h-.7zM466.0 112.8h.7v.7h-.7zM466.6 95.9h.7v.7h-.7zM457.6 115.6h.7v.7h-.7zM464.7 107.2h.7v.7h-.7zM481.3 111.0h.7v.7h-.7zM492.4 102.3h.7v.7h-.7zM479.6 113.0h.7v.7h-.7zM463.4 104.6h.7v.7h-.7zM464.4 90.7h.7v.7h-.7zM473.0 93.9h.7v.7h-.7zM486.8 94.4h.7v.7h-.7zM464.6 105.2h.7v.7h-.7zM464.8 104.7h.7v.7h-.7zM463.9 85.5h.7v.7h-.7zM445.9 87.2h.7v.7h-.7zM485.2 109.8h.7v.7h-.7zM471.5 98.0h.7v.7h-.7zM468.5 107.9h.7v.7h-.7zM456.1 93.6h.7v.7h-.7zM461.1 120.4h.7v.7h-.7zM459.4 119.2h.7v.7h-.7zM469.2 104.4h.7v.7h-.7zM483.5 115.4h.7v.7h-.7zM479.4 90.1h.7v.7h-.7zM481.4 125.8h.7v.7h-.7zM469.0 97.7h.7v.7h-.7zM459.1 117.2h.7v.7h-.7zM472.9 104.1h.7v.7h-.7zM457.6 125.1h.7v.7h-.7zM478.8 103.7h.7v.7h-.7zM484.8 91.6h.7v.7h-.7zM478.8 91.0h.7v.7h-.7zM484.1 100.4h.7v.7h-.7zM482.2 98.6h.7v.7h-.7zM474.0 118.8h.7v.7h-.7zM461.0 105.3h.7v.7h-.7zM461.6 115.1h.7v.7h-.7zM464.0 99.2h.7v.7h-.7zM468.0 119.1h.7v.7h-.7zM459.6 103.7h.7v.7h-.7zM466.7 96.9h.7v.7h-.7zM462.1 101.9h.7v.7h-.7zM472.0 83.9h.7v.7h-.7zM472.3 88.6h.7v.7h-.7zM460.3 103.1h.7v.7h-.7zM467.5 116.8h.7v.7h-.7zM465.3 80.8h.7v.7h-.7zM453.9 106.3h.7v.7h-.7zM472.5 117.9h.7v.7h-.7zM464.6 112.7h.7v.7h-.7zM459.4 120.8h.7v.7h-.7zM469.3 95.2h.7v.7h-.7zM471.8 126.7h.7v.7h-.7zM461.5 87.9h.7v.7h-.7zM459.8 89.0h.7v.7h-.7zM469.5 108.6h.7v.7h-.7zM468.4 106.6h.7v.7h-.7zM481.9 100.2h.7v.7h-.7zM457.5 74.3h.7v.7h-.7zM472.4 95.2h.7v.7h-.7zM467.5 109.3h.7v.7h-.7zM474.6 83.6h.7v.7h-.7zM460.4 105.0h.7v.7h-.7zM468.6 118.9h.7v.7h-.7zM465.0 77.2h.7v.7h-.7zM481.7 82.7h.7v.7h-.7zM460.3 109.1h.7v.7h-.7zM472.4 111.0h.7v.7h-.7zM475.4 94.7h.7v.7h-.7zM482.5 82.0h.7v.7h-.7zM464.1 107.8h.7v.7h-.7zM471.4 91.5h.7v.7h-.7zM485.8 123.1h.7v.7h-.7zM460.7 108.9h.7v.7h-.7zM463.7 98.4h.7v.7h-.7z" fill="#ec7868" fill-opacity="0.32"/>
<path d="M473.5 79.5h.7v.7h-.7zM469.6 79.2h.7v.7h-.7zM465.9 92.7h.7v.7h-.7zM467.4 93.7h.7v.7h-.7zM468.4 72.5h.7v.7h-.7zM475.2 80.3h.7v.7h-.7zM467.8 71.6h.7v.7h-.7zM472.1 100.5h.7v.7h-.7zM472.1 73.3h.7v.7h-.7zM466.1 69.9h.7v.7h-.7zM469.6 80.9h.7v.7h-.7zM467.7 93.4h.7v.7h-.7zM466.6 69.4h.7v.7h-.7zM471.7 83.8h.7v.7h-.7zM468.6 89.5h.7v.7h-.7zM465.1 97.6h.7v.7h-.7zM477.7 101.4h.7v.7h-.7zM470.4 101.6h.7v.7h-.7zM470.2 94.0h.7v.7h-.7zM469.3 80.3h.7v.7h-.7zM471.8 57.0h.7v.7h-.7zM469.3 98.6h.7v.7h-.7zM459.8 82.6h.7v.7h-.7zM473.2 81.9h.7v.7h-.7zM470.7 94.6h.7v.7h-.7zM471.2 55.3h.7v.7h-.7zM466.7 74.4h.7v.7h-.7zM470.5 72.6h.7v.7h-.7zM469.6 98.0h.7v.7h-.7zM459.7 91.8h.7v.7h-.7zM473.3 85.2h.7v.7h-.7zM470.1 78.8h.7v.7h-.7zM471.3 80.9h.7v.7h-.7zM467.5 87.4h.7v.7h-.7zM467.1 77.5h.7v.7h-.7zM468.7 64.2h.7v.7h-.7zM472.1 77.2h.7v.7h-.7zM465.9 77.1h.7v.7h-.7zM465.2 95.2h.7v.7h-.7zM471.8 101.8h.7v.7h-.7zM468.0 86.5h.7v.7h-.7zM466.6 67.8h.7v.7h-.7zM469.7 82.9h.7v.7h-.7zM473.2 74.8h.7v.7h-.7zM473.9 89.6h.7v.7h-.7zM466.9 75.9h.7v.7h-.7zM466.8 98.4h.7v.7h-.7zM468.1 88.6h.7v.7h-.7zM473.2 75.0h.7v.7h-.7zM468.3 82.1h.7v.7h-.7zM467.3 62.9h.7v.7h-.7zM466.6 82.1h.7v.7h-.7zM470.7 99.1h.7v.7h-.7zM463.6 84.0h.7v.7h-.7zM466.0 91.8h.7v.7h-.7zM472.4 79.5h.7v.7h-.7zM475.1 73.5h.7v.7h-.7zM468.2 65.4h.7v.7h-.7zM467.7 79.4h.7v.7h-.7zM472.3 93.3h.7v.7h-.7zM469.1 69.3h.7v.7h-.7zM468.8 72.9h.7v.7h-.7zM468.4 73.2h.7v.7h-.7zM467.0 77.4h.7v.7h-.7zM468.2 76.0h.7v.7h-.7zM465.2 79.7h.7v.7h-.7zM472.0 85.7h.7v.7h-.7zM468.1 64.4h.7v.7h-.7zM465.5 64.0h.7v.7h-.7zM467.8 74.3h.7v.7h-.7zM463.8 86.0h.7v.7h-.7zM464.7 69.8h.7v.7h-.7zM467.5 87.9h.7v.7h-.7zM476.4 73.8h.7v.7h-.7zM469.0 73.3h.7v.7h-.7zM469.3 76.0h.7v.7h-.7zM478.6 65.1h.7v.7h-.7zM469.6 68.6h.7v.7h-.7zM471.2 71.8h.7v.7h-.7zM472.0 65.2h.7v.7h-.7zM477.3 80.5h.7v.7h-.7zM463.9 86.3h.7v.7h-.7zM468.4 64.3h.7v.7h-.7zM471.5 71.9h.7v.7h-.7zM472.6 71.5h.7v.7h-.7zM473.1 79.8h.7v.7h-.7zM471.2 79.9h.7v.7h-.7zM468.7 73.7h.7v.7h-.7zM471.6 86.4h.7v.7h-.7zM468.6 104.5h.7v.7h-.7zM475.9 64.4h.7v.7h-.7zM473.8 77.2h.7v.7h-.7zM470.8 68.7h.7v.7h-.7zM475.7 68.2h.7v.7h-.7zM469.7 69.4h.7v.7h-.7zM476.7 92.9h.7v.7h-.7zM465.4 72.7h.7v.7h-.7zM471.3 72.9h.7v.7h-.7zM468.8 65.3h.7v.7h-.7zM470.9 65.1h.7v.7h-.7z" fill="#ec7868" fill-opacity="0.2"/>
<path d="M408.8 126.6h.7v.7h-.7zM415.7 106.1h.7v.7h-.7zM408.6 103.5h.7v.7h-.7zM413.1 118.2h.7v.7h-.7zM421.2 109.5h.7v.7h-.7zM400.2 111.3h.7v.7h-.7zM428.5 114.5h.7v.7h-.7zM411.4 93.6h.7v.7h-.7zM407.7 116.8h.7v.7h-.7zM402.7 124.0h.7v.7h-.7zM406.4 104.3h.7v.7h-.7zM406.3 111.2h.7v.7h-.7zM421.9 107.0h.7v.7h-.7zM394.4 111.3h.7v.7h-.7zM417.2 125.6h.7v.7h-.7zM400.9 125.1h.7v.7h-.7zM418.7 116.0h.7v.7h-.7zM404.4 104.2h.7v.7h-.7zM402.6 120.3h.7v.7h-.7zM414.2 121.5h.7v.7h-.7zM429.9 112.2h.7v.7h-.7zM411.5 129.0h.7v.7h-.7zM399.2 108.1h.7v.7h-.7zM408.4 108.7h.7v.7h-.7zM413.4 104.6h.7v.7h-.7zM423.4 100.0h.7v.7h-.7zM404.0 97.1h.7v.7h-.7zM398.2 117.2h.7v.7h-.7zM418.2 110.3h.7v.7h-.7zM420.3 117.5h.7v.7h-.7zM406.3 111.7h.7v.7h-.7zM407.7 115.3h.7v.7h-.7zM417.4 122.8h.7v.7h-.7zM416.2 121.5h.7v.7h-.7zM401.5 109.7h.7v.7h-.7zM393.0 111.6h.7v.7h-.7zM434.9 114.2h.7v.7h-.7zM412.9 114.4h.7v.7h-.7zM413.4 100.4h.7v.7h-.7zM405.2 110.5h.7v.7h-.7zM413.7 104.4h.7v.7h-.7zM411.0 105.6h.7v.7h-.7zM399.0 106.3h.7v.7h-.7zM404.1 119.4h.7v.7h-.7zM425.2 117.2h.7v.7h-.7zM409.9 107.2h.7v.7h-.7zM396.6 107.4h.7v.7h-.7zM427.4 122.2h.7v.7h-.7zM414.2 109.9h.7v.7h-.7zM412.0 115.8h.7v.7h-.7zM411.9 115.8h.7v.7h-.7zM404.4 112.5h.7v.7h-.7zM408.6 121.5h.7v.7h-.7zM399.8 123.5h.7v.7h-.7zM411.2 107.6h.7v.7h-.7zM412.2 113.1h.7v.7h-.7zM409.7 115.8h.7v.7h-.7zM406.3 97.2h.7v.7h-.7zM418.8 111.8h.7v.7h-.7zM428.4 115.5h.7v.7h-.7zM392.3 123.0h.7v.7h-.7zM405.2 116.9h.7v.7h-.7zM433.8 121.6h.7v.7h-.7zM401.3 111.3h.7v.7h-.7zM396.2 117.9h.7v.7h-.7zM417.5 103.1h.7v.7h-.7zM416.5 120.3h.7v.7h-.7zM419.9 106.2h.7v.7h-.7z" fill="#ec7868" fill-opacity="0.2"/>
<path d="M418.3 48.0L419.4 47.6L420.4 47.1L421.5 46.6L422.5 47.1L423.4 47.7L424.4 48.2L424.5 49.2L424.3 50.2L424.3 51.2L423.2 51.4L422.2 52.1L421.0 52.3L420.1 51.9L419.3 51.3L418.4 51.0L418.6 50.0L418.1 49.0Z" fill="#f8b090" stroke="#ec5232" stroke-width="0.7" stroke-linejoin="round"/>
<ellipse cx="421.3" cy="49.4" rx="1.5" ry="1.1" fill="#f07a48"/>
<path d="M469.6 50.2L470.5 50.0L471.5 49.7L472.4 49.4L472.7 50.1L473.2 50.7L473.6 51.4L472.9 52.0L472.2 52.5L471.4 53.0L470.7 52.7L470.0 52.5L469.2 52.3L469.2 51.6L469.5 50.9Z" fill="#f49070" stroke="#ec5232" stroke-width="0.7" stroke-linejoin="round"/>
<path d="M469.8 92.1L471.4 91.9L473.0 91.5L474.5 91.0L476.3 90.6L477.9 91.3L479.6 91.5L480.9 92.5L481.9 93.9L483.1 95.0L482.9 97.0L482.7 98.9L481.9 100.8L481.0 103.4L480.6 106.2L479.6 108.8L478.0 111.4L477.1 114.3L475.6 116.9L474.6 119.0L473.4 121.0L472.7 123.3L471.7 124.1L470.3 123.8L469.2 124.4L468.0 122.9L468.1 120.7L466.9 119.2L465.3 117.1L464.9 114.5L463.5 112.3L461.8 110.1L460.1 107.9L458.8 105.4L458.3 104.3L458.1 103.1L457.7 101.9L459.2 99.9L460.4 97.8L462.3 96.1L464.8 94.8L467.2 93.2Z" fill="#fbcdb6" stroke="#ec5232" stroke-width="0.75" stroke-linejoin="round"/>
<path d="M469.9 94.8L471.3 94.9L472.4 94.1L473.7 93.9L475.1 94.0L476.4 94.0L477.8 94.3L478.4 95.5L479.7 96.1L480.6 97.1L480.1 98.6L479.7 100.1L479.6 101.7L479.1 103.9L478.2 106.0L477.8 108.1L476.9 110.4L475.9 112.6L474.6 114.6L474.1 116.5L473.1 118.1L472.3 119.7L471.2 119.7L470.5 120.6L469.5 120.6L468.8 119.3L468.4 117.8L467.6 116.5L466.6 114.7L465.6 112.9L464.9 110.9L463.7 109.1L462.3 107.3L461.1 105.4L461.2 104.4L460.9 103.5L460.3 102.6L461.3 100.9L462.8 99.6L463.9 98.0L465.9 96.9L467.8 95.5Z" fill="#f9bc88" stroke="#f07846" stroke-width="0.6" stroke-linejoin="round"/>
<path d="M470.1 97.4L471.0 97.1L472.0 97.2L472.9 96.7L473.9 96.7L474.9 97.0L476.0 97.0L476.6 97.8L477.5 98.2L478.1 99.1L477.6 100.2L477.8 101.5L477.3 102.6L477.0 104.2L476.3 105.7L476.0 107.4L475.4 109.1L474.4 110.7L473.6 112.2L473.2 113.6L472.4 114.8L471.8 116.1L471.2 116.6L470.5 116.7L469.7 116.7L469.1 115.8L468.6 114.8L468.3 113.6L467.4 112.3L466.8 110.9L466.3 109.5L465.4 108.1L464.2 106.8L463.5 105.3L463.4 104.6L463.0 104.0L462.8 103.2L463.6 102.0L464.5 100.8L465.6 99.8L467.2 99.1L468.5 97.9Z" fill="#f7c85e" stroke="#f49a40" stroke-width="0.5" stroke-linejoin="round"/>
<g filter="url(#b1)">
<path d="M470.2 99.6L470.9 99.6L471.5 99.1L472.2 99.1L472.9 99.4L473.6 99.2L474.3 99.3L474.8 99.9L475.2 100.5L475.8 100.8L475.8 101.7L475.7 102.5L475.3 103.3L474.9 104.3L474.6 105.5L474.3 106.6L473.7 107.7L473.3 108.9L472.6 110.0L472.2 110.9L472.0 111.9L471.4 112.7L470.9 112.9L470.5 113.1L470.0 113.2L469.7 112.4L469.2 111.8L469.0 111.0L468.4 110.1L468.1 109.0L467.6 108.1L466.7 107.2L466.4 106.1L465.6 105.2L465.4 104.7L465.1 104.2L465.1 103.7L465.6 102.8L466.4 102.1L467.1 101.3L468.1 100.7L469.2 100.3Z" fill="#f1dc52"/>
<ellipse cx="469.8" cy="103.1" rx="3.5999999999999996" ry="7.2" fill="#c8e654"/>
<ellipse cx="469.8" cy="103.1" rx="2.4" ry="5.2" fill="#80de58"/>
</g>
<rect x="459.4" y="128.1" width="26.6" height="2.2" fill="url(#barGr)"/>
<rect x="386.4" y="24.8" width="118.9" height="105.7" fill="none" stroke="#2a2a2a" stroke-width="1.1"/>
<rect x="437.5" y="70.8" width="64.6" height="56.3" fill="none" stroke="#333" stroke-width="1.2" rx="0.8"/>
<text x="395.4" y="36.0" font-size="6.9" textLength="24.6" lengthAdjust="spacingAndGlyphs">WT-LPS</text>
<text x="440.6" y="83.0" font-size="7.36" textLength="19.4" lengthAdjust="spacingAndGlyphs">60.6%</text>
<line x1="235.9" y1="232.5" x2="238.5" y2="232.5" stroke="#333" stroke-width="0.9"/>
<text x="230.2" y="235.8" font-size="8.05" text-anchor="end" textLength="8.4" lengthAdjust="spacingAndGlyphs" fill="#333">10</text>
<text x="230.2" y="232.1" font-size="5.75" textLength="3.0" lengthAdjust="spacingAndGlyphs" fill="#333">0</text>
<line x1="267.3" y1="258.8" x2="267.3" y2="261.4" stroke="#333" stroke-width="0.9"/>
<text x="267.5" y="270.4" font-size="8.05" text-anchor="middle" textLength="8.4" lengthAdjust="spacingAndGlyphs" fill="#333">10</text>
<text x="271.7" y="266.8" font-size="5.75" textLength="3.0" lengthAdjust="spacingAndGlyphs" fill="#333">0</text>
<line x1="235.9" y1="206.4" x2="238.5" y2="206.4" stroke="#333" stroke-width="0.9"/>
<text x="230.2" y="209.7" font-size="8.05" text-anchor="end" textLength="8.4" lengthAdjust="spacingAndGlyphs" fill="#333">10</text>
<text x="230.2" y="206.0" font-size="5.75" textLength="3.0" lengthAdjust="spacingAndGlyphs" fill="#333">1</text>
<line x1="297.3" y1="258.8" x2="297.3" y2="261.4" stroke="#333" stroke-width="0.9"/>
<text x="297.5" y="270.4" font-size="8.05" text-anchor="middle" textLength="8.4" lengthAdjust="spacingAndGlyphs" fill="#333">10</text>
<text x="301.7" y="266.8" font-size="5.75" textLength="3.0" lengthAdjust="spacingAndGlyphs" fill="#333">1</text>
<line x1="235.9" y1="180.3" x2="238.5" y2="180.3" stroke="#333" stroke-width="0.9"/>
<text x="230.2" y="183.6" font-size="8.05" text-anchor="end" textLength="8.4" lengthAdjust="spacingAndGlyphs" fill="#333">10</text>
<text x="230.2" y="179.9" font-size="5.75" textLength="3.0" lengthAdjust="spacingAndGlyphs" fill="#333">2</text>
<line x1="327.3" y1="258.8" x2="327.3" y2="261.4" stroke="#333" stroke-width="0.9"/>
<text x="327.5" y="270.4" font-size="8.05" text-anchor="middle" textLength="8.4" lengthAdjust="spacingAndGlyphs" fill="#333">10</text>
<text x="331.7" y="266.8" font-size="5.75" textLength="3.0" lengthAdjust="spacingAndGlyphs" fill="#333">2</text>
<line x1="235.9" y1="154.2" x2="238.5" y2="154.2" stroke="#333" stroke-width="0.9"/>
<text x="230.2" y="157.5" font-size="8.05" text-anchor="end" textLength="8.4" lengthAdjust="spacingAndGlyphs" fill="#333">10</text>
<text x="230.2" y="153.8" font-size="5.75" textLength="3.0" lengthAdjust="spacingAndGlyphs" fill="#333">3</text>
<line x1="357.3" y1="258.8" x2="357.3" y2="261.4" stroke="#333" stroke-width="0.9"/>
<text x="357.5" y="270.4" font-size="8.05" text-anchor="middle" textLength="8.4" lengthAdjust="spacingAndGlyphs" fill="#333">10</text>
<text x="361.7" y="266.8" font-size="5.75" textLength="3.0" lengthAdjust="spacingAndGlyphs" fill="#333">3</text>
<path d="M246.3 258.8v1.4M238.5 250.7h1.3M251.6 258.8v1.4M238.5 246.1h1.3M255.4 258.8v1.4M238.5 242.9h1.3M258.3 258.8v1.4M238.5 240.4h1.3M260.6 258.8v1.4M238.5 238.3h1.3M262.7 258.8v1.4M238.5 236.5h1.3M264.4 258.8v1.4M238.5 235.0h1.3M265.9 258.8v1.4M238.5 233.7h1.3M276.3 258.8v1.4M238.5 224.6h1.3M281.6 258.8v1.4M238.5 220.0h1.3M285.4 258.8v1.4M238.5 216.8h1.3M288.3 258.8v1.4M238.5 214.3h1.3M290.6 258.8v1.4M238.5 212.2h1.3M292.7 258.8v1.4M238.5 210.4h1.3M294.4 258.8v1.4M238.5 208.9h1.3M295.9 258.8v1.4M238.5 207.6h1.3M306.3 258.8v1.4M238.5 198.5h1.3M311.6 258.8v1.4M238.5 193.9h1.3M315.4 258.8v1.4M238.5 190.7h1.3M318.3 258.8v1.4M238.5 188.2h1.3M320.6 258.8v1.4M238.5 186.1h1.3M322.7 258.8v1.4M238.5 184.3h1.3M324.4 258.8v1.4M238.5 182.8h1.3M325.9 258.8v1.4M238.5 181.5h1.3M336.3 258.8v1.4M238.5 172.4h1.3M341.6 258.8v1.4M238.5 167.8h1.3M345.4 258.8v1.4M238.5 164.6h1.3M348.3 258.8v1.4M238.5 162.1h1.3M350.6 258.8v1.4M238.5 160.0h1.3M352.7 258.8v1.4M238.5 158.2h1.3M354.4 258.8v1.4M238.5 156.7h1.3M355.9 258.8v1.4M238.5 155.4h1.3" stroke="#555" stroke-width="0.6"/>
<path d="M283.5 197.1h.6v.6h-.6zM344.6 182.9h.6v.6h-.6zM355.0 246.7h.6v.6h-.6zM356.0 251.9h.6v.6h-.6zM269.8 238.6h.6v.6h-.6zM311.5 175.7h.6v.6h-.6zM356.9 221.4h.6v.6h-.6zM334.8 212.2h.6v.6h-.6zM248.9 243.7h.6v.6h-.6zM260.2 181.3h.6v.6h-.6zM312.0 174.6h.6v.6h-.6zM293.9 228.2h.6v.6h-.6zM250.8 222.8h.6v.6h-.6zM251.8 203.7h.6v.6h-.6zM315.9 225.5h.6v.6h-.6zM244.6 174.3h.6v.6h-.6zM352.5 195.0h.6v.6h-.6zM289.5 193.3h.6v.6h-.6zM321.4 231.0h.6v.6h-.6zM316.0 196.1h.6v.6h-.6zM306.5 207.8h.6v.6h-.6zM261.6 252.6h.6v.6h-.6zM353.1 234.8h.6v.6h-.6zM356.3 202.6h.6v.6h-.6zM338.3 179.4h.6v.6h-.6zM326.9 228.4h.6v.6h-.6zM350.0 240.6h.6v.6h-.6zM343.0 182.2h.6v.6h-.6zM332.2 203.7h.6v.6h-.6zM276.3 192.6h.6v.6h-.6zM333.5 241.6h.6v.6h-.6zM338.9 223.7h.6v.6h-.6zM259.5 170.7h.6v.6h-.6zM306.4 176.5h.6v.6h-.6zM279.1 165.2h.6v.6h-.6zM257.7 228.6h.6v.6h-.6zM265.8 242.1h.6v.6h-.6zM278.2 242.2h.6v.6h-.6zM275.1 182.2h.6v.6h-.6zM286.0 155.8h.6v.6h-.6zM290.8 193.8h.6v.6h-.6zM241.0 243.5h.6v.6h-.6zM283.7 154.6h.6v.6h-.6zM352.5 178.2h.6v.6h-.6zM269.3 157.1h.6v.6h-.6zM251.2 227.8h.6v.6h-.6zM308.0 206.6h.6v.6h-.6zM268.5 184.2h.6v.6h-.6zM353.7 193.0h.6v.6h-.6zM356.0 246.1h.6v.6h-.6zM254.2 242.1h.6v.6h-.6zM242.0 228.0h.6v.6h-.6zM334.8 226.4h.6v.6h-.6zM304.2 238.5h.6v.6h-.6zM257.7 210.3h.6v.6h-.6zM270.8 195.8h.6v.6h-.6zM262.0 227.7h.6v.6h-.6zM307.0 235.0h.6v.6h-.6zM313.4 216.4h.6v.6h-.6zM348.0 238.4h.6v.6h-.6zM306.2 188.3h.6v.6h-.6zM348.7 192.9h.6v.6h-.6zM251.5 189.0h.6v.6h-.6zM322.6 250.7h.6v.6h-.6zM315.5 223.0h.6v.6h-.6zM349.8 234.9h.6v.6h-.6zM291.9 202.3h.6v.6h-.6zM328.9 187.4h.6v.6h-.6zM252.4 218.5h.6v.6h-.6zM334.7 180.2h.6v.6h-.6zM320.0 246.7h.6v.6h-.6zM254.5 168.6h.6v.6h-.6zM297.5 189.1h.6v.6h-.6zM351.2 257.5h.6v.6h-.6zM291.9 236.4h.6v.6h-.6zM313.9 172.5h.6v.6h-.6zM353.9 172.6h.6v.6h-.6zM248.4 201.3h.6v.6h-.6zM241.6 204.2h.6v.6h-.6zM288.0 253.1h.6v.6h-.6zM288.2 242.3h.6v.6h-.6zM331.3 215.1h.6v.6h-.6zM267.5 186.1h.6v.6h-.6zM297.3 195.4h.6v.6h-.6zM315.5 206.8h.6v.6h-.6zM277.5 217.2h.6v.6h-.6zM356.8 175.5h.6v.6h-.6zM279.0 155.8h.6v.6h-.6zM250.5 160.3h.6v.6h-.6zM289.3 240.9h.6v.6h-.6zM321.6 254.3h.6v.6h-.6zM338.0 215.1h.6v.6h-.6zM307.8 155.9h.6v.6h-.6zM284.6 181.6h.6v.6h-.6zM312.6 161.4h.6v.6h-.6zM303.3 193.4h.6v.6h-.6zM297.4 196.3h.6v.6h-.6zM251.5 230.1h.6v.6h-.6zM333.7 216.3h.6v.6h-.6zM253.1 216.4h.6v.6h-.6zM342.0 256.4h.6v.6h-.6zM328.8 159.3h.6v.6h-.6zM342.9 223.2h.6v.6h-.6zM272.1 249.6h.6v.6h-.6zM336.7 247.0h.6v.6h-.6zM268.6 214.1h.6v.6h-.6zM284.1 185.1h.6v.6h-.6zM329.1 218.2h.6v.6h-.6zM278.6 210.6h.6v.6h-.6zM348.8 213.1h.6v.6h-.6zM347.0 213.0h.6v.6h-.6zM356.3 157.6h.6v.6h-.6zM293.6 211.6h.6v.6h-.6zM325.0 254.6h.6v.6h-.6zM312.9 203.9h.6v.6h-.6zM314.2 209.6h.6v.6h-.6zM322.5 252.3h.6v.6h-.6zM241.1 187.7h.6v.6h-.6zM342.6 160.8h.6v.6h-.6zM332.5 157.8h.6v.6h-.6zM315.8 237.2h.6v.6h-.6zM267.5 193.9h.6v.6h-.6zM266.1 227.3h.6v.6h-.6zM301.7 217.1h.6v.6h-.6zM277.8 215.1h.6v.6h-.6zM351.8 235.0h.6v.6h-.6zM351.5 180.1h.6v.6h-.6zM300.2 194.4h.6v.6h-.6zM280.2 237.5h.6v.6h-.6zM260.1 212.2h.6v.6h-.6zM330.6 251.1h.6v.6h-.6zM241.7 182.5h.6v.6h-.6zM297.5 251.2h.6v.6h-.6zM258.7 241.4h.6v.6h-.6zM286.2 211.1h.6v.6h-.6zM348.7 161.2h.6v.6h-.6zM278.3 170.7h.6v.6h-.6zM255.2 185.9h.6v.6h-.6zM322.0 214.5h.6v.6h-.6zM253.8 237.3h.6v.6h-.6zM299.2 169.4h.6v.6h-.6zM336.1 239.3h.6v.6h-.6zM265.0 251.6h.6v.6h-.6zM334.9 178.2h.6v.6h-.6zM239.6 244.1h.6v.6h-.6zM336.7 164.7h.6v.6h-.6zM329.7 234.4h.6v.6h-.6zM314.1 240.5h.6v.6h-.6zM355.4 188.4h.6v.6h-.6zM337.7 249.6h.6v.6h-.6zM276.4 225.1h.6v.6h-.6zM320.0 242.2h.6v.6h-.6zM306.2 183.0h.6v.6h-.6zM269.1 210.6h.6v.6h-.6zM255.4 243.3h.6v.6h-.6zM344.2 179.6h.6v.6h-.6zM321.6 224.1h.6v.6h-.6zM253.8 234.9h.6v.6h-.6zM329.7 186.2h.6v.6h-.6zM251.1 183.7h.6v.6h-.6zM330.3 202.8h.6v.6h-.6zM335.5 171.1h.6v.6h-.6zM252.0 190.6h.6v.6h-.6zM343.1 171.3h.6v.6h-.6zM248.1 232.3h.6v.6h-.6zM250.2 223.5h.6v.6h-.6zM249.3 180.1h.6v.6h-.6zM317.6 244.8h.6v.6h-.6zM287.7 201.0h.6v.6h-.6zM243.2 189.8h.6v.6h-.6zM268.0 236.0h.6v.6h-.6zM323.6 235.5h.6v.6h-.6zM302.1 226.8h.6v.6h-.6zM254.5 194.3h.6v.6h-.6zM274.0 183.7h.6v.6h-.6zM326.5 176.7h.6v.6h-.6zM277.8 183.7h.6v.6h-.6zM341.2 220.5h.6v.6h-.6zM296.1 193.8h.6v.6h-.6zM348.0 251.5h.6v.6h-.6zM292.4 213.1h.6v.6h-.6zM341.0 181.1h.6v.6h-.6zM269.9 165.2h.6v.6h-.6zM298.6 233.9h.6v.6h-.6zM257.9 199.2h.6v.6h-.6zM356.1 204.3h.6v.6h-.6zM284.5 241.2h.6v.6h-.6zM344.5 193.4h.6v.6h-.6zM254.0 220.3h.6v.6h-.6zM326.6 249.9h.6v.6h-.6zM317.2 186.4h.6v.6h-.6zM300.1 184.3h.6v.6h-.6zM292.0 202.9h.6v.6h-.6zM346.9 248.1h.6v.6h-.6zM348.5 203.9h.6v.6h-.6zM353.0 168.9h.6v.6h-.6zM347.9 220.7h.6v.6h-.6zM342.2 197.3h.6v.6h-.6zM356.1 157.2h.6v.6h-.6zM339.3 239.2h.6v.6h-.6zM283.5 240.1h.6v.6h-.6zM264.6 232.3h.6v.6h-.6zM294.6 197.0h.6v.6h-.6zM262.6 237.2h.6v.6h-.6zM325.5 163.8h.6v.6h-.6zM354.6 177.4h.6v.6h-.6zM283.7 197.4h.6v.6h-.6zM307.4 246.5h.6v.6h-.6zM350.7 219.9h.6v.6h-.6zM282.5 165.7h.6v.6h-.6zM247.6 208.1h.6v.6h-.6zM308.1 200.8h.6v.6h-.6zM355.1 197.3h.6v.6h-.6zM280.8 197.7h.6v.6h-.6zM259.7 251.5h.6v.6h-.6zM309.1 210.6h.6v.6h-.6zM289.6 180.4h.6v.6h-.6zM276.6 205.5h.6v.6h-.6zM292.0 255.7h.6v.6h-.6zM305.8 176.0h.6v.6h-.6zM245.8 171.0h.6v.6h-.6zM280.2 235.4h.6v.6h-.6zM344.2 179.0h.6v.6h-.6zM331.3 200.2h.6v.6h-.6zM302.8 209.6h.6v.6h-.6zM244.5 161.4h.6v.6h-.6zM318.1 225.7h.6v.6h-.6zM284.3 249.4h.6v.6h-.6zM336.0 185.8h.6v.6h-.6zM247.4 211.7h.6v.6h-.6zM316.5 177.8h.6v.6h-.6zM244.7 204.9h.6v.6h-.6zM243.5 230.6h.6v.6h-.6zM313.1 183.4h.6v.6h-.6zM292.0 178.6h.6v.6h-.6zM261.4 173.3h.6v.6h-.6zM335.5 201.4h.6v.6h-.6zM323.7 190.5h.6v.6h-.6zM334.5 216.1h.6v.6h-.6zM316.5 195.1h.6v.6h-.6zM305.6 174.3h.6v.6h-.6zM354.1 224.0h.6v.6h-.6zM302.2 220.5h.6v.6h-.6zM251.3 189.1h.6v.6h-.6zM266.6 241.6h.6v.6h-.6zM241.0 200.5h.6v.6h-.6zM341.7 235.4h.6v.6h-.6zM324.1 185.7h.6v.6h-.6zM266.8 227.3h.6v.6h-.6zM274.7 229.2h.6v.6h-.6zM280.7 233.1h.6v.6h-.6zM306.9 238.8h.6v.6h-.6zM355.5 193.7h.6v.6h-.6zM355.6 155.6h.6v.6h-.6zM342.8 157.7h.6v.6h-.6zM303.7 194.7h.6v.6h-.6zM330.1 187.1h.6v.6h-.6zM264.0 235.5h.6v.6h-.6zM304.3 232.6h.6v.6h-.6zM297.1 158.4h.6v.6h-.6z" fill="#e8a8a0" fill-opacity="0.2"/>
<ellipse cx="274.0" cy="183.0" rx="26" ry="20" fill="url(#halo)" opacity="1" transform="rotate(0 274.0 183.0)"/>
<ellipse cx="274.0" cy="183.0" rx="14" ry="11" fill="url(#halo)" opacity="1" transform="rotate(0 274.0 183.0)"/>
<ellipse cx="323.0" cy="180.0" rx="16" ry="12" fill="url(#halo)" opacity="0.8" transform="rotate(0 323.0 180.0)"/>
<ellipse cx="321.0" cy="231.0" rx="24" ry="34" fill="url(#halo)" opacity="1" transform="rotate(0 321.0 231.0)"/>
<path d="M274.8 177.4h.7v.7h-.7zM273.7 183.0h.7v.7h-.7zM273.2 194.8h.7v.7h-.7zM275.1 171.7h.7v.7h-.7zM260.3 187.5h.7v.7h-.7zM271.0 178.3h.7v.7h-.7zM262.1 180.6h.7v.7h-.7zM273.2 177.7h.7v.7h-.7zM270.9 189.8h.7v.7h-.7zM280.9 187.2h.7v.7h-.7zM272.5 172.6h.7v.7h-.7zM280.8 194.5h.7v.7h-.7zM285.2 191.9h.7v.7h-.7zM276.4 185.9h.7v.7h-.7zM273.9 192.6h.7v.7h-.7zM271.7 199.5h.7v.7h-.7zM280.8 180.5h.7v.7h-.7zM274.0 170.7h.7v.7h-.7zM267.6 180.7h.7v.7h-.7zM295.4 176.8h.7v.7h-.7zM282.0 183.6h.7v.7h-.7zM271.4 187.8h.7v.7h-.7zM256.6 190.3h.7v.7h-.7zM290.9 185.3h.7v.7h-.7zM273.5 184.2h.7v.7h-.7zM279.8 179.2h.7v.7h-.7zM275.1 186.9h.7v.7h-.7zM270.9 186.0h.7v.7h-.7zM276.9 188.5h.7v.7h-.7zM265.4 178.9h.7v.7h-.7zM270.3 192.2h.7v.7h-.7zM276.2 170.3h.7v.7h-.7zM262.8 197.9h.7v.7h-.7zM277.0 173.1h.7v.7h-.7zM266.0 184.1h.7v.7h-.7zM286.5 195.4h.7v.7h-.7zM270.8 180.7h.7v.7h-.7zM290.8 175.5h.7v.7h-.7zM287.7 185.6h.7v.7h-.7zM274.8 192.9h.7v.7h-.7zM278.2 176.6h.7v.7h-.7zM260.7 183.1h.7v.7h-.7zM278.5 193.5h.7v.7h-.7zM251.2 193.3h.7v.7h-.7zM279.4 194.7h.7v.7h-.7zM281.0 184.6h.7v.7h-.7zM277.8 186.1h.7v.7h-.7zM268.5 182.1h.7v.7h-.7zM275.1 179.5h.7v.7h-.7zM261.2 171.9h.7v.7h-.7zM278.4 187.0h.7v.7h-.7zM274.9 174.0h.7v.7h-.7zM281.4 180.0h.7v.7h-.7zM255.9 195.0h.7v.7h-.7zM261.0 200.3h.7v.7h-.7zM278.7 179.6h.7v.7h-.7zM253.5 177.6h.7v.7h-.7zM286.9 193.5h.7v.7h-.7zM276.3 169.8h.7v.7h-.7zM270.7 180.8h.7v.7h-.7zM278.0 182.0h.7v.7h-.7zM277.0 170.5h.7v.7h-.7zM268.4 194.1h.7v.7h-.7zM261.3 190.1h.7v.7h-.7zM294.2 188.0h.7v.7h-.7zM261.9 192.6h.7v.7h-.7zM257.8 185.6h.7v.7h-.7zM270.4 192.5h.7v.7h-.7zM284.3 184.5h.7v.7h-.7zM289.7 190.6h.7v.7h-.7zM269.8 175.4h.7v.7h-.7zM295.5 179.9h.7v.7h-.7zM277.6 182.1h.7v.7h-.7zM269.9 170.6h.7v.7h-.7zM272.7 182.1h.7v.7h-.7zM282.6 179.0h.7v.7h-.7zM260.3 174.7h.7v.7h-.7zM273.7 184.9h.7v.7h-.7zM280.3 180.1h.7v.7h-.7zM278.7 184.1h.7v.7h-.7zM288.8 182.6h.7v.7h-.7zM275.3 187.4h.7v.7h-.7zM284.7 175.9h.7v.7h-.7zM269.9 180.9h.7v.7h-.7zM255.4 193.0h.7v.7h-.7zM283.4 183.2h.7v.7h-.7zM303.4 192.8h.7v.7h-.7zM291.7 195.1h.7v.7h-.7zM281.9 172.1h.7v.7h-.7zM287.4 186.2h.7v.7h-.7zM263.5 183.4h.7v.7h-.7zM280.6 190.6h.7v.7h-.7zM275.5 179.0h.7v.7h-.7zM280.7 177.1h.7v.7h-.7zM273.3 188.9h.7v.7h-.7zM261.4 185.9h.7v.7h-.7zM256.9 175.9h.7v.7h-.7zM263.2 182.3h.7v.7h-.7zM280.3 182.6h.7v.7h-.7zM282.0 183.7h.7v.7h-.7zM272.2 186.8h.7v.7h-.7zM271.9 184.0h.7v.7h-.7zM283.1 178.6h.7v.7h-.7zM284.1 174.5h.7v.7h-.7zM272.1 169.6h.7v.7h-.7zM269.4 195.3h.7v.7h-.7zM277.1 192.8h.7v.7h-.7zM261.2 175.2h.7v.7h-.7zM278.1 189.4h.7v.7h-.7zM281.3 170.1h.7v.7h-.7zM278.5 182.4h.7v.7h-.7zM275.1 186.7h.7v.7h-.7zM271.6 169.9h.7v.7h-.7zM264.7 171.8h.7v.7h-.7zM262.5 182.0h.7v.7h-.7zM285.4 177.5h.7v.7h-.7zM267.3 174.1h.7v.7h-.7zM258.9 183.5h.7v.7h-.7zM269.8 181.1h.7v.7h-.7zM265.6 186.8h.7v.7h-.7zM263.5 187.2h.7v.7h-.7zM268.2 189.1h.7v.7h-.7zM266.2 186.4h.7v.7h-.7zM277.9 182.4h.7v.7h-.7zM288.3 184.4h.7v.7h-.7zM266.2 188.3h.7v.7h-.7zM266.8 178.8h.7v.7h-.7zM274.1 184.4h.7v.7h-.7zM288.9 169.5h.7v.7h-.7zM271.7 191.7h.7v.7h-.7zM272.6 185.5h.7v.7h-.7zM287.4 173.5h.7v.7h-.7zM274.4 189.1h.7v.7h-.7zM268.9 169.5h.7v.7h-.7zM265.3 184.5h.7v.7h-.7zM275.7 197.2h.7v.7h-.7zM285.6 171.0h.7v.7h-.7zM283.1 190.1h.7v.7h-.7zM288.2 181.8h.7v.7h-.7zM269.1 184.1h.7v.7h-.7zM287.6 187.8h.7v.7h-.7zM288.9 189.1h.7v.7h-.7zM268.8 175.2h.7v.7h-.7zM290.2 171.3h.7v.7h-.7zM270.9 180.5h.7v.7h-.7zM266.0 178.6h.7v.7h-.7zM274.1 201.4h.7v.7h-.7zM273.4 179.0h.7v.7h-.7zM275.1 190.3h.7v.7h-.7zM266.8 179.9h.7v.7h-.7zM258.7 188.4h.7v.7h-.7zM280.0 194.6h.7v.7h-.7zM263.5 199.8h.7v.7h-.7zM281.7 180.9h.7v.7h-.7zM270.6 180.6h.7v.7h-.7zM263.4 189.0h.7v.7h-.7zM268.7 177.4h.7v.7h-.7zM278.5 183.9h.7v.7h-.7zM268.9 181.2h.7v.7h-.7zM269.7 193.4h.7v.7h-.7zM282.8 177.4h.7v.7h-.7zM273.6 193.6h.7v.7h-.7zM271.5 196.8h.7v.7h-.7zM277.9 188.2h.7v.7h-.7zM255.8 189.6h.7v.7h-.7zM277.0 187.5h.7v.7h-.7zM278.2 187.1h.7v.7h-.7zM269.5 190.0h.7v.7h-.7zM274.6 174.9h.7v.7h-.7zM265.1 184.3h.7v.7h-.7zM276.9 165.9h.7v.7h-.7zM255.9 191.1h.7v.7h-.7zM273.9 205.1h.7v.7h-.7zM260.5 181.1h.7v.7h-.7zM268.7 187.3h.7v.7h-.7zM286.4 195.5h.7v.7h-.7zM265.1 192.6h.7v.7h-.7zM263.3 185.4h.7v.7h-.7zM275.5 187.8h.7v.7h-.7zM267.0 193.4h.7v.7h-.7zM273.4 182.9h.7v.7h-.7zM271.7 174.7h.7v.7h-.7zM280.3 185.6h.7v.7h-.7zM278.0 197.5h.7v.7h-.7zM266.4 180.8h.7v.7h-.7zM274.1 189.6h.7v.7h-.7zM272.4 190.2h.7v.7h-.7zM278.0 169.4h.7v.7h-.7zM268.0 167.2h.7v.7h-.7zM271.5 179.8h.7v.7h-.7zM279.2 184.3h.7v.7h-.7zM273.4 192.8h.7v.7h-.7zM279.2 173.4h.7v.7h-.7zM267.9 185.5h.7v.7h-.7zM289.0 181.5h.7v.7h-.7zM272.5 185.1h.7v.7h-.7zM280.9 182.3h.7v.7h-.7zM276.6 179.7h.7v.7h-.7zM269.2 176.8h.7v.7h-.7zM279.8 178.7h.7v.7h-.7zM278.8 186.2h.7v.7h-.7zM282.6 162.2h.7v.7h-.7zM265.5 173.5h.7v.7h-.7zM272.6 189.3h.7v.7h-.7zM296.3 195.0h.7v.7h-.7zM285.9 186.0h.7v.7h-.7zM270.6 187.2h.7v.7h-.7zM254.9 190.2h.7v.7h-.7zM274.1 187.8h.7v.7h-.7zM265.0 174.5h.7v.7h-.7zM268.3 182.7h.7v.7h-.7zM277.1 180.2h.7v.7h-.7zM277.1 188.3h.7v.7h-.7zM263.8 182.2h.7v.7h-.7zM260.3 178.7h.7v.7h-.7zM282.0 177.4h.7v.7h-.7zM290.4 186.9h.7v.7h-.7zM281.8 183.8h.7v.7h-.7zM281.6 191.5h.7v.7h-.7zM274.9 178.9h.7v.7h-.7zM269.2 198.0h.7v.7h-.7zM272.4 179.4h.7v.7h-.7zM267.8 169.9h.7v.7h-.7zM269.6 185.5h.7v.7h-.7zM269.7 177.1h.7v.7h-.7zM277.6 186.6h.7v.7h-.7zM270.2 185.4h.7v.7h-.7zM265.4 189.7h.7v.7h-.7zM265.3 180.4h.7v.7h-.7zM275.2 179.7h.7v.7h-.7zM263.9 199.3h.7v.7h-.7zM287.3 169.4h.7v.7h-.7zM275.1 173.1h.7v.7h-.7zM276.7 172.9h.7v.7h-.7zM279.1 187.1h.7v.7h-.7zM289.0 192.4h.7v.7h-.7zM270.0 190.4h.7v.7h-.7zM270.0 182.1h.7v.7h-.7zM269.6 169.3h.7v.7h-.7zM279.3 167.2h.7v.7h-.7zM271.9 187.1h.7v.7h-.7zM275.0 170.7h.7v.7h-.7zM268.3 188.3h.7v.7h-.7zM283.7 195.4h.7v.7h-.7zM258.0 186.6h.7v.7h-.7zM269.8 189.0h.7v.7h-.7zM259.2 181.9h.7v.7h-.7zM280.2 178.0h.7v.7h-.7zM270.8 175.4h.7v.7h-.7zM283.8 172.7h.7v.7h-.7zM266.0 180.4h.7v.7h-.7zM271.2 199.5h.7v.7h-.7zM276.4 176.5h.7v.7h-.7zM279.1 185.7h.7v.7h-.7zM276.5 182.5h.7v.7h-.7zM278.1 173.9h.7v.7h-.7zM263.4 179.7h.7v.7h-.7zM264.3 188.5h.7v.7h-.7zM291.1 192.6h.7v.7h-.7zM277.9 185.6h.7v.7h-.7zM268.0 172.9h.7v.7h-.7zM278.8 171.5h.7v.7h-.7zM276.7 181.9h.7v.7h-.7zM280.6 183.4h.7v.7h-.7zM274.9 178.5h.7v.7h-.7zM258.9 180.3h.7v.7h-.7zM280.1 191.1h.7v.7h-.7zM286.1 175.2h.7v.7h-.7zM265.8 188.5h.7v.7h-.7zM270.0 203.0h.7v.7h-.7zM276.8 171.2h.7v.7h-.7zM269.1 195.2h.7v.7h-.7zM258.0 184.2h.7v.7h-.7zM261.8 195.5h.7v.7h-.7zM270.1 175.0h.7v.7h-.7zM259.0 177.4h.7v.7h-.7zM251.5 179.3h.7v.7h-.7zM293.2 183.8h.7v.7h-.7zM271.7 174.0h.7v.7h-.7zM277.0 179.3h.7v.7h-.7zM266.5 193.8h.7v.7h-.7zM277.9 176.1h.7v.7h-.7zM287.0 182.6h.7v.7h-.7zM278.4 184.2h.7v.7h-.7zM284.4 187.8h.7v.7h-.7zM270.9 188.6h.7v.7h-.7zM270.6 184.0h.7v.7h-.7zM288.4 174.7h.7v.7h-.7zM264.9 179.9h.7v.7h-.7zM269.6 193.1h.7v.7h-.7zM260.0 200.9h.7v.7h-.7zM287.9 179.5h.7v.7h-.7zM275.6 180.2h.7v.7h-.7zM279.9 188.2h.7v.7h-.7zM280.6 189.0h.7v.7h-.7zM291.0 181.7h.7v.7h-.7zM280.2 181.5h.7v.7h-.7zM274.3 184.7h.7v.7h-.7zM273.5 185.7h.7v.7h-.7zM266.5 181.8h.7v.7h-.7zM268.7 173.9h.7v.7h-.7zM267.8 179.1h.7v.7h-.7zM272.7 170.8h.7v.7h-.7zM271.7 174.2h.7v.7h-.7zM266.8 184.5h.7v.7h-.7zM283.8 185.2h.7v.7h-.7zM269.7 179.6h.7v.7h-.7zM285.8 170.3h.7v.7h-.7zM284.0 171.3h.7v.7h-.7zM268.4 183.4h.7v.7h-.7zM272.1 196.0h.7v.7h-.7zM278.4 182.6h.7v.7h-.7zM282.4 183.3h.7v.7h-.7zM266.9 191.8h.7v.7h-.7zM287.2 193.0h.7v.7h-.7zM263.7 197.9h.7v.7h-.7zM270.3 189.0h.7v.7h-.7zM284.5 201.6h.7v.7h-.7zM259.8 175.0h.7v.7h-.7zM284.4 186.9h.7v.7h-.7zM271.3 160.2h.7v.7h-.7zM277.9 181.5h.7v.7h-.7zM251.0 203.9h.7v.7h-.7zM252.0 178.6h.7v.7h-.7zM274.0 184.8h.7v.7h-.7zM280.6 180.9h.7v.7h-.7zM266.1 180.2h.7v.7h-.7zM255.5 174.3h.7v.7h-.7zM291.4 177.6h.7v.7h-.7zM273.3 197.8h.7v.7h-.7z" fill="#ec7868" fill-opacity="0.32"/>
<path d="M329.2 180.5h.7v.7h-.7zM327.3 178.8h.7v.7h-.7zM317.7 184.4h.7v.7h-.7zM323.8 187.0h.7v.7h-.7zM321.5 178.4h.7v.7h-.7zM325.0 179.2h.7v.7h-.7zM321.2 176.1h.7v.7h-.7zM324.5 181.4h.7v.7h-.7zM333.8 179.9h.7v.7h-.7zM312.7 182.0h.7v.7h-.7zM336.5 178.1h.7v.7h-.7zM318.3 179.3h.7v.7h-.7zM306.2 178.5h.7v.7h-.7zM321.9 173.4h.7v.7h-.7zM326.4 176.1h.7v.7h-.7zM312.1 176.8h.7v.7h-.7zM326.7 188.5h.7v.7h-.7zM330.4 180.9h.7v.7h-.7zM320.0 178.9h.7v.7h-.7zM328.7 177.7h.7v.7h-.7zM325.5 184.3h.7v.7h-.7zM317.7 177.4h.7v.7h-.7zM325.6 180.0h.7v.7h-.7zM322.3 177.7h.7v.7h-.7zM322.6 188.2h.7v.7h-.7zM331.0 172.9h.7v.7h-.7zM323.3 180.4h.7v.7h-.7zM323.2 173.9h.7v.7h-.7zM322.2 180.7h.7v.7h-.7zM319.0 181.4h.7v.7h-.7zM308.7 173.4h.7v.7h-.7zM323.6 181.7h.7v.7h-.7zM322.0 178.0h.7v.7h-.7zM324.1 184.8h.7v.7h-.7zM328.3 179.7h.7v.7h-.7zM320.3 184.7h.7v.7h-.7zM326.2 183.9h.7v.7h-.7zM321.4 176.2h.7v.7h-.7zM324.1 177.2h.7v.7h-.7zM329.8 183.8h.7v.7h-.7zM310.2 182.9h.7v.7h-.7zM330.8 184.6h.7v.7h-.7zM320.2 176.2h.7v.7h-.7zM328.7 184.5h.7v.7h-.7zM323.4 174.9h.7v.7h-.7zM314.0 181.2h.7v.7h-.7zM318.1 177.0h.7v.7h-.7zM325.6 184.6h.7v.7h-.7zM310.8 177.0h.7v.7h-.7zM330.7 179.8h.7v.7h-.7zM321.0 182.8h.7v.7h-.7zM316.3 174.6h.7v.7h-.7zM323.1 186.9h.7v.7h-.7zM329.0 180.0h.7v.7h-.7zM329.0 178.2h.7v.7h-.7zM316.1 172.6h.7v.7h-.7zM324.6 184.0h.7v.7h-.7zM325.2 179.8h.7v.7h-.7zM320.6 184.8h.7v.7h-.7zM322.7 173.7h.7v.7h-.7zM331.1 177.1h.7v.7h-.7zM325.3 180.0h.7v.7h-.7zM329.2 181.1h.7v.7h-.7zM330.2 180.9h.7v.7h-.7zM320.3 177.8h.7v.7h-.7zM326.8 176.3h.7v.7h-.7zM328.5 178.9h.7v.7h-.7zM317.5 176.2h.7v.7h-.7zM322.1 187.8h.7v.7h-.7zM327.5 180.1h.7v.7h-.7zM317.7 188.4h.7v.7h-.7zM321.4 180.0h.7v.7h-.7zM320.5 185.9h.7v.7h-.7zM324.0 178.0h.7v.7h-.7zM324.1 175.6h.7v.7h-.7zM316.8 179.3h.7v.7h-.7zM306.0 185.2h.7v.7h-.7zM334.7 175.1h.7v.7h-.7zM322.2 173.0h.7v.7h-.7zM324.0 180.9h.7v.7h-.7zM327.4 174.1h.7v.7h-.7zM319.5 177.1h.7v.7h-.7zM321.6 190.1h.7v.7h-.7zM321.8 179.8h.7v.7h-.7zM320.0 183.5h.7v.7h-.7zM338.1 185.1h.7v.7h-.7zM332.0 175.3h.7v.7h-.7zM329.2 180.1h.7v.7h-.7zM330.4 184.7h.7v.7h-.7zM326.9 172.6h.7v.7h-.7zM323.8 177.8h.7v.7h-.7zM325.6 180.2h.7v.7h-.7zM329.2 172.9h.7v.7h-.7zM318.6 179.7h.7v.7h-.7zM324.9 178.2h.7v.7h-.7zM322.8 180.2h.7v.7h-.7zM329.2 179.5h.7v.7h-.7zM324.4 172.0h.7v.7h-.7zM307.6 173.5h.7v.7h-.7zM325.1 169.8h.7v.7h-.7zM325.4 179.6h.7v.7h-.7zM323.0 176.8h.7v.7h-.7zM320.5 183.7h.7v.7h-.7zM325.1 179.9h.7v.7h-.7zM320.1 180.9h.7v.7h-.7zM330.0 179.9h.7v.7h-.7zM320.8 174.8h.7v.7h-.7zM323.6 175.9h.7v.7h-.7zM314.5 183.8h.7v.7h-.7zM319.3 171.0h.7v.7h-.7zM318.8 188.1h.7v.7h-.7zM322.4 174.1h.7v.7h-.7zM316.5 183.2h.7v.7h-.7zM325.4 180.9h.7v.7h-.7zM321.8 182.1h.7v.7h-.7zM332.1 182.2h.7v.7h-.7zM322.0 173.8h.7v.7h-.7zM325.6 186.9h.7v.7h-.7zM326.8 174.4h.7v.7h-.7zM324.1 185.7h.7v.7h-.7zM319.3 182.2h.7v.7h-.7zM330.1 187.2h.7v.7h-.7zM313.6 172.3h.7v.7h-.7zM325.2 183.1h.7v.7h-.7zM320.9 179.9h.7v.7h-.7zM320.6 185.3h.7v.7h-.7zM309.9 181.1h.7v.7h-.7zM315.4 177.0h.7v.7h-.7zM313.9 176.0h.7v.7h-.7zM322.9 180.1h.7v.7h-.7z" fill="#ec7868" fill-opacity="0.32"/>
<path d="M336.8 230.2h.7v.7h-.7zM324.1 237.5h.7v.7h-.7zM323.3 251.8h.7v.7h-.7zM322.2 234.9h.7v.7h-.7zM320.0 233.1h.7v.7h-.7zM320.5 245.7h.7v.7h-.7zM321.2 233.9h.7v.7h-.7zM320.6 242.7h.7v.7h-.7zM316.8 245.0h.7v.7h-.7zM315.9 241.9h.7v.7h-.7zM338.0 236.0h.7v.7h-.7zM320.2 217.9h.7v.7h-.7zM327.6 233.2h.7v.7h-.7zM329.1 224.6h.7v.7h-.7zM325.6 256.1h.7v.7h-.7zM324.6 228.8h.7v.7h-.7zM309.4 232.9h.7v.7h-.7zM326.8 240.7h.7v.7h-.7zM311.1 219.8h.7v.7h-.7zM312.3 219.9h.7v.7h-.7zM318.6 236.4h.7v.7h-.7zM338.1 235.5h.7v.7h-.7zM333.9 211.8h.7v.7h-.7zM334.7 243.2h.7v.7h-.7zM324.9 243.6h.7v.7h-.7zM326.5 257.5h.7v.7h-.7zM328.2 210.7h.7v.7h-.7zM305.5 253.7h.7v.7h-.7zM320.3 250.0h.7v.7h-.7zM318.0 224.6h.7v.7h-.7zM318.0 237.0h.7v.7h-.7zM322.7 225.1h.7v.7h-.7zM325.8 240.9h.7v.7h-.7zM312.8 218.7h.7v.7h-.7zM303.6 229.1h.7v.7h-.7zM321.1 224.1h.7v.7h-.7zM315.6 231.3h.7v.7h-.7zM321.3 240.3h.7v.7h-.7zM328.4 238.6h.7v.7h-.7zM330.9 220.6h.7v.7h-.7zM326.4 237.8h.7v.7h-.7zM311.7 224.3h.7v.7h-.7zM324.9 234.0h.7v.7h-.7zM309.8 225.9h.7v.7h-.7zM334.6 243.8h.7v.7h-.7zM321.7 250.3h.7v.7h-.7zM312.9 230.8h.7v.7h-.7zM329.5 228.7h.7v.7h-.7zM311.1 240.5h.7v.7h-.7zM335.2 200.4h.7v.7h-.7zM322.4 217.0h.7v.7h-.7zM318.3 214.9h.7v.7h-.7zM344.1 224.3h.7v.7h-.7zM321.4 223.9h.7v.7h-.7zM312.2 227.2h.7v.7h-.7zM322.8 255.5h.7v.7h-.7zM323.6 253.1h.7v.7h-.7zM311.5 233.9h.7v.7h-.7zM317.1 212.9h.7v.7h-.7zM354.2 229.9h.7v.7h-.7zM323.2 223.3h.7v.7h-.7zM315.9 219.7h.7v.7h-.7zM330.1 227.8h.7v.7h-.7zM319.7 235.3h.7v.7h-.7zM310.1 236.0h.7v.7h-.7zM319.5 238.7h.7v.7h-.7zM317.6 233.5h.7v.7h-.7zM325.6 245.4h.7v.7h-.7zM314.9 245.5h.7v.7h-.7zM312.2 230.6h.7v.7h-.7zM322.2 234.9h.7v.7h-.7zM298.8 220.4h.7v.7h-.7zM319.4 244.9h.7v.7h-.7zM314.7 252.4h.7v.7h-.7zM305.0 234.0h.7v.7h-.7zM325.8 233.2h.7v.7h-.7zM323.3 245.0h.7v.7h-.7zM313.8 240.6h.7v.7h-.7zM330.5 230.0h.7v.7h-.7zM300.4 217.7h.7v.7h-.7zM313.4 219.4h.7v.7h-.7zM324.8 222.7h.7v.7h-.7zM343.1 240.3h.7v.7h-.7zM309.4 229.3h.7v.7h-.7zM334.6 241.7h.7v.7h-.7zM311.9 246.3h.7v.7h-.7zM316.1 240.7h.7v.7h-.7zM326.0 227.3h.7v.7h-.7zM319.6 247.9h.7v.7h-.7zM325.4 232.2h.7v.7h-.7zM325.0 255.5h.7v.7h-.7zM329.3 239.1h.7v.7h-.7zM323.9 212.9h.7v.7h-.7zM322.2 226.7h.7v.7h-.7zM327.5 225.2h.7v.7h-.7zM325.0 219.5h.7v.7h-.7zM329.0 223.6h.7v.7h-.7zM320.7 240.4h.7v.7h-.7zM318.1 233.1h.7v.7h-.7zM330.4 255.7h.7v.7h-.7zM304.9 221.4h.7v.7h-.7zM327.0 245.1h.7v.7h-.7zM316.8 234.2h.7v.7h-.7zM319.2 217.7h.7v.7h-.7zM307.2 216.6h.7v.7h-.7zM332.6 228.0h.7v.7h-.7zM338.3 241.2h.7v.7h-.7zM324.4 241.3h.7v.7h-.7zM328.0 244.8h.7v.7h-.7zM312.3 225.8h.7v.7h-.7zM316.1 234.3h.7v.7h-.7zM318.8 217.2h.7v.7h-.7zM314.8 256.0h.7v.7h-.7zM339.9 222.0h.7v.7h-.7zM324.4 232.5h.7v.7h-.7zM313.5 242.2h.7v.7h-.7zM320.4 254.4h.7v.7h-.7zM325.1 229.0h.7v.7h-.7zM297.5 231.7h.7v.7h-.7zM328.5 223.8h.7v.7h-.7zM328.9 241.8h.7v.7h-.7zM305.3 230.5h.7v.7h-.7zM323.9 242.7h.7v.7h-.7zM322.4 232.8h.7v.7h-.7zM317.9 229.3h.7v.7h-.7zM321.0 219.4h.7v.7h-.7zM326.7 228.8h.7v.7h-.7zM325.6 226.5h.7v.7h-.7zM324.7 234.6h.7v.7h-.7zM328.9 238.9h.7v.7h-.7zM329.3 230.9h.7v.7h-.7zM320.5 229.6h.7v.7h-.7zM309.8 231.4h.7v.7h-.7zM330.7 242.9h.7v.7h-.7zM313.4 236.8h.7v.7h-.7zM327.7 215.6h.7v.7h-.7zM324.1 237.2h.7v.7h-.7zM327.7 236.3h.7v.7h-.7zM305.5 207.1h.7v.7h-.7zM338.6 227.9h.7v.7h-.7zM332.3 249.2h.7v.7h-.7zM321.8 218.3h.7v.7h-.7zM333.2 232.5h.7v.7h-.7zM325.6 239.1h.7v.7h-.7zM329.5 246.0h.7v.7h-.7zM308.4 214.9h.7v.7h-.7zM322.3 233.1h.7v.7h-.7zM327.9 231.3h.7v.7h-.7zM333.2 247.9h.7v.7h-.7zM330.2 222.9h.7v.7h-.7zM320.2 232.1h.7v.7h-.7zM311.3 221.9h.7v.7h-.7zM322.4 217.4h.7v.7h-.7zM325.8 239.1h.7v.7h-.7zM318.9 228.7h.7v.7h-.7zM326.4 239.1h.7v.7h-.7zM324.3 217.3h.7v.7h-.7zM315.2 228.3h.7v.7h-.7zM304.8 222.8h.7v.7h-.7zM314.5 243.2h.7v.7h-.7zM297.5 215.1h.7v.7h-.7zM317.3 226.7h.7v.7h-.7zM314.1 227.4h.7v.7h-.7zM307.0 236.4h.7v.7h-.7zM331.6 235.0h.7v.7h-.7zM316.2 249.2h.7v.7h-.7zM325.3 219.8h.7v.7h-.7zM315.9 225.2h.7v.7h-.7zM320.6 248.5h.7v.7h-.7zM314.7 231.1h.7v.7h-.7zM322.0 217.8h.7v.7h-.7zM316.8 240.8h.7v.7h-.7zM331.1 209.0h.7v.7h-.7zM327.3 229.3h.7v.7h-.7zM332.5 240.9h.7v.7h-.7zM338.5 237.0h.7v.7h-.7zM317.5 222.4h.7v.7h-.7zM308.3 240.1h.7v.7h-.7zM325.6 243.5h.7v.7h-.7zM324.1 213.9h.7v.7h-.7zM317.4 229.9h.7v.7h-.7zM322.4 242.8h.7v.7h-.7zM333.6 236.6h.7v.7h-.7zM302.7 220.0h.7v.7h-.7zM302.0 223.2h.7v.7h-.7zM310.3 236.1h.7v.7h-.7zM319.0 247.2h.7v.7h-.7zM330.6 227.2h.7v.7h-.7zM329.4 233.2h.7v.7h-.7zM325.1 250.2h.7v.7h-.7zM310.8 232.1h.7v.7h-.7zM334.7 223.3h.7v.7h-.7zM322.9 234.7h.7v.7h-.7zM317.3 216.3h.7v.7h-.7zM314.9 220.5h.7v.7h-.7zM330.6 236.2h.7v.7h-.7zM327.2 217.8h.7v.7h-.7zM325.5 234.8h.7v.7h-.7zM330.3 223.8h.7v.7h-.7zM328.2 250.5h.7v.7h-.7zM337.0 221.1h.7v.7h-.7zM311.0 214.3h.7v.7h-.7zM329.6 240.6h.7v.7h-.7zM324.0 222.0h.7v.7h-.7zM332.2 253.5h.7v.7h-.7zM320.7 231.5h.7v.7h-.7zM331.6 239.5h.7v.7h-.7zM333.0 227.9h.7v.7h-.7zM324.0 228.7h.7v.7h-.7zM315.9 229.2h.7v.7h-.7zM318.5 239.4h.7v.7h-.7zM318.3 233.9h.7v.7h-.7zM313.8 217.4h.7v.7h-.7zM333.7 220.5h.7v.7h-.7zM337.1 245.0h.7v.7h-.7zM300.6 224.9h.7v.7h-.7zM317.3 233.3h.7v.7h-.7zM319.4 225.3h.7v.7h-.7zM332.1 231.4h.7v.7h-.7zM329.6 224.3h.7v.7h-.7zM314.9 250.0h.7v.7h-.7zM318.5 219.0h.7v.7h-.7zM319.5 246.4h.7v.7h-.7zM319.6 223.9h.7v.7h-.7zM326.7 245.5h.7v.7h-.7zM319.2 229.0h.7v.7h-.7zM319.3 255.2h.7v.7h-.7zM319.7 238.2h.7v.7h-.7zM302.9 235.3h.7v.7h-.7zM321.5 229.0h.7v.7h-.7zM317.4 215.7h.7v.7h-.7zM307.8 235.1h.7v.7h-.7zM315.3 231.9h.7v.7h-.7zM319.4 226.6h.7v.7h-.7zM314.5 256.6h.7v.7h-.7zM311.2 226.5h.7v.7h-.7zM318.4 218.3h.7v.7h-.7zM312.5 244.0h.7v.7h-.7zM329.3 234.7h.7v.7h-.7zM349.8 243.5h.7v.7h-.7zM332.0 222.6h.7v.7h-.7zM330.6 254.4h.7v.7h-.7zM317.7 256.0h.7v.7h-.7zM313.9 218.6h.7v.7h-.7zM320.6 222.8h.7v.7h-.7zM326.7 219.0h.7v.7h-.7zM321.8 208.1h.7v.7h-.7zM320.7 246.4h.7v.7h-.7zM318.7 237.0h.7v.7h-.7zM330.7 219.1h.7v.7h-.7zM309.7 234.0h.7v.7h-.7zM323.5 229.6h.7v.7h-.7zM312.4 248.4h.7v.7h-.7zM310.7 229.7h.7v.7h-.7zM320.6 242.2h.7v.7h-.7zM317.1 222.6h.7v.7h-.7zM338.9 222.3h.7v.7h-.7zM328.1 231.1h.7v.7h-.7zM316.8 232.4h.7v.7h-.7zM318.8 237.0h.7v.7h-.7zM298.4 232.7h.7v.7h-.7zM321.7 220.7h.7v.7h-.7zM337.4 241.2h.7v.7h-.7zM323.1 229.1h.7v.7h-.7zM333.4 227.3h.7v.7h-.7zM313.7 241.8h.7v.7h-.7zM312.4 223.0h.7v.7h-.7zM333.9 212.6h.7v.7h-.7zM320.4 234.5h.7v.7h-.7zM323.3 214.5h.7v.7h-.7zM319.0 228.8h.7v.7h-.7zM338.1 245.8h.7v.7h-.7zM314.3 244.1h.7v.7h-.7zM326.8 231.6h.7v.7h-.7zM318.9 229.5h.7v.7h-.7zM307.3 225.0h.7v.7h-.7zM329.4 251.3h.7v.7h-.7zM337.5 228.2h.7v.7h-.7zM326.5 202.5h.7v.7h-.7zM318.6 217.0h.7v.7h-.7zM328.3 212.0h.7v.7h-.7zM311.8 219.0h.7v.7h-.7zM324.6 243.6h.7v.7h-.7zM312.9 255.9h.7v.7h-.7zM322.5 222.4h.7v.7h-.7zM324.1 232.8h.7v.7h-.7zM328.4 237.4h.7v.7h-.7zM340.5 247.8h.7v.7h-.7zM315.4 243.0h.7v.7h-.7zM327.8 220.3h.7v.7h-.7zM314.4 222.8h.7v.7h-.7zM299.1 241.1h.7v.7h-.7zM319.1 248.6h.7v.7h-.7zM316.1 234.0h.7v.7h-.7zM327.5 245.3h.7v.7h-.7zM323.9 219.8h.7v.7h-.7zM340.6 244.0h.7v.7h-.7zM333.1 253.5h.7v.7h-.7zM333.5 238.3h.7v.7h-.7zM325.2 241.0h.7v.7h-.7zM307.7 243.3h.7v.7h-.7zM312.4 238.4h.7v.7h-.7zM312.1 242.1h.7v.7h-.7zM322.8 239.5h.7v.7h-.7zM313.0 229.4h.7v.7h-.7zM320.5 229.4h.7v.7h-.7zM317.2 221.9h.7v.7h-.7zM327.8 228.2h.7v.7h-.7zM313.8 237.6h.7v.7h-.7zM313.9 230.8h.7v.7h-.7zM316.5 221.3h.7v.7h-.7zM319.1 222.6h.7v.7h-.7zM309.9 237.5h.7v.7h-.7zM318.4 214.5h.7v.7h-.7zM317.6 235.4h.7v.7h-.7zM324.9 237.7h.7v.7h-.7zM323.3 240.6h.7v.7h-.7zM316.7 222.9h.7v.7h-.7zM326.5 227.8h.7v.7h-.7zM321.2 241.3h.7v.7h-.7zM329.4 248.5h.7v.7h-.7zM315.0 228.3h.7v.7h-.7zM326.0 214.9h.7v.7h-.7zM309.9 240.7h.7v.7h-.7zM315.6 221.3h.7v.7h-.7zM328.2 239.7h.7v.7h-.7zM329.2 228.8h.7v.7h-.7zM318.5 228.7h.7v.7h-.7zM323.7 207.3h.7v.7h-.7zM314.9 242.0h.7v.7h-.7zM314.2 232.2h.7v.7h-.7zM322.2 239.6h.7v.7h-.7zM316.9 218.7h.7v.7h-.7zM343.2 224.0h.7v.7h-.7zM336.2 210.8h.7v.7h-.7zM322.1 230.5h.7v.7h-.7zM329.7 220.2h.7v.7h-.7zM314.0 223.5h.7v.7h-.7zM316.5 236.3h.7v.7h-.7zM314.1 229.9h.7v.7h-.7zM334.1 251.2h.7v.7h-.7zM304.6 221.0h.7v.7h-.7zM317.8 249.4h.7v.7h-.7zM318.2 257.2h.7v.7h-.7zM324.3 251.2h.7v.7h-.7zM313.5 229.1h.7v.7h-.7zM330.1 240.2h.7v.7h-.7zM304.6 229.5h.7v.7h-.7zM322.7 241.0h.7v.7h-.7zM315.5 255.0h.7v.7h-.7zM322.4 251.3h.7v.7h-.7zM324.7 234.1h.7v.7h-.7zM318.3 218.3h.7v.7h-.7zM328.7 242.6h.7v.7h-.7zM329.3 228.3h.7v.7h-.7zM312.2 228.2h.7v.7h-.7zM318.3 232.9h.7v.7h-.7zM329.8 221.5h.7v.7h-.7zM316.8 241.7h.7v.7h-.7zM325.7 222.3h.7v.7h-.7zM311.9 223.0h.7v.7h-.7zM321.7 236.2h.7v.7h-.7zM320.5 225.3h.7v.7h-.7zM319.5 232.0h.7v.7h-.7zM326.3 234.1h.7v.7h-.7zM313.9 218.3h.7v.7h-.7zM334.2 231.9h.7v.7h-.7zM319.5 232.7h.7v.7h-.7zM331.1 229.1h.7v.7h-.7zM322.7 230.0h.7v.7h-.7zM326.2 220.3h.7v.7h-.7zM322.9 246.0h.7v.7h-.7zM331.6 240.8h.7v.7h-.7zM323.7 252.8h.7v.7h-.7zM327.4 250.6h.7v.7h-.7zM310.5 219.2h.7v.7h-.7zM328.2 229.7h.7v.7h-.7zM317.3 221.1h.7v.7h-.7zM334.2 218.0h.7v.7h-.7zM322.0 215.5h.7v.7h-.7zM342.6 226.8h.7v.7h-.7zM312.2 253.5h.7v.7h-.7zM313.6 210.6h.7v.7h-.7zM324.2 219.4h.7v.7h-.7zM308.3 247.2h.7v.7h-.7zM314.7 219.6h.7v.7h-.7zM322.6 230.6h.7v.7h-.7zM331.0 234.2h.7v.7h-.7zM335.2 247.3h.7v.7h-.7zM336.8 247.1h.7v.7h-.7zM321.8 239.9h.7v.7h-.7zM321.3 213.4h.7v.7h-.7zM310.8 242.3h.7v.7h-.7zM300.3 222.6h.7v.7h-.7zM309.8 232.2h.7v.7h-.7zM312.0 236.2h.7v.7h-.7zM319.4 227.1h.7v.7h-.7zM313.7 205.1h.7v.7h-.7zM321.8 216.8h.7v.7h-.7zM318.5 237.7h.7v.7h-.7zM330.4 241.9h.7v.7h-.7zM334.2 215.2h.7v.7h-.7zM327.1 252.8h.7v.7h-.7zM324.6 219.1h.7v.7h-.7zM324.6 226.5h.7v.7h-.7zM315.5 246.4h.7v.7h-.7zM319.6 219.0h.7v.7h-.7zM315.2 257.7h.7v.7h-.7zM313.7 241.5h.7v.7h-.7zM322.7 247.7h.7v.7h-.7zM318.7 221.1h.7v.7h-.7zM315.5 220.1h.7v.7h-.7zM344.0 235.5h.7v.7h-.7zM318.3 248.9h.7v.7h-.7zM326.9 230.7h.7v.7h-.7zM326.6 236.4h.7v.7h-.7zM331.1 253.8h.7v.7h-.7zM318.4 232.6h.7v.7h-.7zM319.5 248.4h.7v.7h-.7zM324.5 242.9h.7v.7h-.7zM329.1 225.0h.7v.7h-.7zM322.3 250.4h.7v.7h-.7zM329.3 243.2h.7v.7h-.7zM318.7 228.5h.7v.7h-.7zM313.6 229.6h.7v.7h-.7zM320.6 215.0h.7v.7h-.7zM331.4 223.4h.7v.7h-.7zM323.4 240.6h.7v.7h-.7zM316.3 210.3h.7v.7h-.7zM329.6 238.2h.7v.7h-.7zM318.9 247.3h.7v.7h-.7zM329.0 221.0h.7v.7h-.7zM320.4 210.9h.7v.7h-.7zM318.8 250.8h.7v.7h-.7zM313.8 243.4h.7v.7h-.7zM307.9 229.3h.7v.7h-.7zM329.4 254.6h.7v.7h-.7zM325.1 242.6h.7v.7h-.7zM336.3 202.4h.7v.7h-.7zM306.1 256.8h.7v.7h-.7zM342.8 240.6h.7v.7h-.7zM321.7 236.3h.7v.7h-.7zM321.4 225.3h.7v.7h-.7zM321.0 231.5h.7v.7h-.7zM327.0 241.6h.7v.7h-.7zM329.8 240.4h.7v.7h-.7zM312.6 250.5h.7v.7h-.7zM297.7 234.5h.7v.7h-.7zM324.1 226.4h.7v.7h-.7zM337.6 219.3h.7v.7h-.7zM310.9 226.7h.7v.7h-.7zM324.8 243.0h.7v.7h-.7zM322.1 241.4h.7v.7h-.7zM315.0 225.4h.7v.7h-.7zM322.3 216.1h.7v.7h-.7zM322.8 228.1h.7v.7h-.7zM327.1 220.3h.7v.7h-.7zM316.5 225.9h.7v.7h-.7zM317.9 220.5h.7v.7h-.7zM318.9 216.1h.7v.7h-.7zM325.8 241.5h.7v.7h-.7zM321.0 230.7h.7v.7h-.7zM313.4 221.0h.7v.7h-.7zM319.2 221.7h.7v.7h-.7zM310.9 235.1h.7v.7h-.7zM321.0 227.9h.7v.7h-.7zM314.0 232.4h.7v.7h-.7zM315.1 227.6h.7v.7h-.7zM322.8 242.1h.7v.7h-.7zM327.8 225.4h.7v.7h-.7zM331.7 218.5h.7v.7h-.7zM319.6 249.4h.7v.7h-.7zM341.9 234.7h.7v.7h-.7zM318.0 228.3h.7v.7h-.7zM310.6 231.2h.7v.7h-.7zM317.4 223.6h.7v.7h-.7zM331.6 223.3h.7v.7h-.7zM335.9 243.6h.7v.7h-.7zM326.7 225.7h.7v.7h-.7zM316.7 208.0h.7v.7h-.7zM323.5 229.6h.7v.7h-.7zM324.5 224.6h.7v.7h-.7zM325.4 214.2h.7v.7h-.7zM302.1 239.0h.7v.7h-.7zM330.5 193.5h.7v.7h-.7zM332.4 228.6h.7v.7h-.7zM319.7 213.7h.7v.7h-.7zM312.4 242.0h.7v.7h-.7zM314.7 232.6h.7v.7h-.7zM328.9 216.5h.7v.7h-.7zM317.0 218.6h.7v.7h-.7zM309.0 224.5h.7v.7h-.7zM330.7 233.6h.7v.7h-.7zM327.0 231.3h.7v.7h-.7zM317.5 234.1h.7v.7h-.7zM320.5 257.2h.7v.7h-.7zM336.8 237.8h.7v.7h-.7zM326.4 208.0h.7v.7h-.7zM314.2 243.3h.7v.7h-.7zM331.8 228.0h.7v.7h-.7zM319.2 227.3h.7v.7h-.7zM328.1 233.3h.7v.7h-.7zM334.2 247.9h.7v.7h-.7zM318.4 225.4h.7v.7h-.7zM319.1 222.0h.7v.7h-.7zM317.5 232.1h.7v.7h-.7zM328.9 213.2h.7v.7h-.7z" fill="#ec7868" fill-opacity="0.32"/>
<path d="M318.3 197.1h.7v.7h-.7zM322.0 211.3h.7v.7h-.7zM320.4 223.5h.7v.7h-.7zM321.3 203.5h.7v.7h-.7zM323.2 219.6h.7v.7h-.7zM324.1 206.3h.7v.7h-.7zM321.2 208.0h.7v.7h-.7zM324.4 202.0h.7v.7h-.7zM323.0 184.6h.7v.7h-.7zM321.3 219.7h.7v.7h-.7zM327.8 205.2h.7v.7h-.7zM315.7 227.3h.7v.7h-.7zM322.5 235.9h.7v.7h-.7zM321.7 217.7h.7v.7h-.7zM321.0 222.0h.7v.7h-.7zM327.0 193.6h.7v.7h-.7zM327.4 239.3h.7v.7h-.7zM322.3 192.0h.7v.7h-.7zM324.0 201.4h.7v.7h-.7zM318.0 193.8h.7v.7h-.7zM323.9 188.3h.7v.7h-.7zM326.7 211.2h.7v.7h-.7zM322.4 222.3h.7v.7h-.7zM319.9 214.0h.7v.7h-.7zM318.5 202.2h.7v.7h-.7zM325.2 199.8h.7v.7h-.7zM322.7 213.6h.7v.7h-.7zM328.2 221.2h.7v.7h-.7zM324.6 203.0h.7v.7h-.7zM318.2 226.0h.7v.7h-.7zM329.4 180.9h.7v.7h-.7zM326.0 205.5h.7v.7h-.7zM325.4 209.7h.7v.7h-.7zM322.4 206.0h.7v.7h-.7zM322.9 219.6h.7v.7h-.7zM322.2 199.7h.7v.7h-.7zM325.2 213.5h.7v.7h-.7zM324.5 209.3h.7v.7h-.7zM328.0 219.0h.7v.7h-.7zM323.8 203.6h.7v.7h-.7zM325.3 184.2h.7v.7h-.7zM321.3 197.8h.7v.7h-.7zM323.6 201.5h.7v.7h-.7zM331.3 214.6h.7v.7h-.7zM324.4 232.2h.7v.7h-.7zM323.0 202.3h.7v.7h-.7zM327.2 215.7h.7v.7h-.7zM326.2 220.1h.7v.7h-.7zM321.8 198.3h.7v.7h-.7zM320.6 207.2h.7v.7h-.7zM326.4 193.7h.7v.7h-.7zM321.2 190.4h.7v.7h-.7zM329.8 215.3h.7v.7h-.7zM323.8 191.8h.7v.7h-.7zM319.6 198.5h.7v.7h-.7zM323.1 191.2h.7v.7h-.7zM322.3 220.2h.7v.7h-.7zM323.1 207.2h.7v.7h-.7zM316.0 202.8h.7v.7h-.7zM322.5 197.9h.7v.7h-.7zM318.4 205.2h.7v.7h-.7zM319.6 199.6h.7v.7h-.7zM317.7 204.9h.7v.7h-.7zM326.1 196.2h.7v.7h-.7zM324.1 188.3h.7v.7h-.7zM325.0 212.3h.7v.7h-.7zM321.7 216.3h.7v.7h-.7zM320.1 206.6h.7v.7h-.7zM328.7 205.7h.7v.7h-.7zM319.3 219.5h.7v.7h-.7zM324.8 202.8h.7v.7h-.7zM316.9 184.0h.7v.7h-.7zM317.9 223.3h.7v.7h-.7zM324.0 196.1h.7v.7h-.7zM326.9 223.1h.7v.7h-.7zM320.2 211.6h.7v.7h-.7zM317.5 210.4h.7v.7h-.7zM329.1 189.5h.7v.7h-.7zM323.2 198.6h.7v.7h-.7zM322.7 207.0h.7v.7h-.7zM324.0 216.4h.7v.7h-.7zM324.8 218.2h.7v.7h-.7zM326.4 218.9h.7v.7h-.7zM320.8 210.8h.7v.7h-.7zM321.8 196.2h.7v.7h-.7zM329.6 209.4h.7v.7h-.7zM323.2 181.4h.7v.7h-.7zM322.3 215.0h.7v.7h-.7zM322.3 199.6h.7v.7h-.7zM328.0 202.4h.7v.7h-.7zM321.9 204.8h.7v.7h-.7zM322.2 218.3h.7v.7h-.7zM324.9 205.2h.7v.7h-.7zM321.8 203.4h.7v.7h-.7zM328.7 202.4h.7v.7h-.7zM325.2 187.6h.7v.7h-.7zM324.1 214.1h.7v.7h-.7zM327.3 209.7h.7v.7h-.7zM325.0 209.8h.7v.7h-.7zM326.6 230.0h.7v.7h-.7zM323.7 196.5h.7v.7h-.7zM325.0 204.7h.7v.7h-.7zM325.2 215.1h.7v.7h-.7zM323.5 200.9h.7v.7h-.7zM324.1 191.4h.7v.7h-.7zM324.0 195.6h.7v.7h-.7zM324.5 207.4h.7v.7h-.7zM322.3 191.9h.7v.7h-.7zM323.2 198.0h.7v.7h-.7zM322.6 214.1h.7v.7h-.7z" fill="#ec7868" fill-opacity="0.2"/>
<path d="M271.2 226.7h.7v.7h-.7zM271.1 250.0h.7v.7h-.7zM272.9 240.4h.7v.7h-.7zM261.2 253.3h.7v.7h-.7zM259.0 224.6h.7v.7h-.7zM263.0 240.5h.7v.7h-.7zM252.2 227.3h.7v.7h-.7zM281.1 239.0h.7v.7h-.7zM269.6 232.9h.7v.7h-.7zM247.6 236.4h.7v.7h-.7zM274.9 232.1h.7v.7h-.7zM245.0 236.5h.7v.7h-.7zM259.4 238.1h.7v.7h-.7zM252.1 235.3h.7v.7h-.7zM256.9 245.8h.7v.7h-.7zM263.6 245.7h.7v.7h-.7zM261.6 219.3h.7v.7h-.7zM243.4 242.7h.7v.7h-.7zM270.5 245.7h.7v.7h-.7zM261.4 222.3h.7v.7h-.7zM257.4 241.6h.7v.7h-.7zM275.3 235.0h.7v.7h-.7zM256.7 231.2h.7v.7h-.7zM271.9 245.6h.7v.7h-.7zM244.6 248.7h.7v.7h-.7zM253.3 225.1h.7v.7h-.7zM246.9 231.6h.7v.7h-.7zM250.2 232.1h.7v.7h-.7zM263.6 241.7h.7v.7h-.7zM257.5 224.1h.7v.7h-.7zM258.2 232.0h.7v.7h-.7zM245.0 239.3h.7v.7h-.7zM248.1 222.7h.7v.7h-.7zM276.6 246.3h.7v.7h-.7zM276.0 239.0h.7v.7h-.7zM258.2 237.2h.7v.7h-.7zM249.0 244.5h.7v.7h-.7zM264.7 235.3h.7v.7h-.7zM244.2 237.0h.7v.7h-.7zM277.7 250.7h.7v.7h-.7zM270.5 234.9h.7v.7h-.7zM263.4 242.9h.7v.7h-.7zM264.0 247.2h.7v.7h-.7zM255.7 217.6h.7v.7h-.7zM248.9 243.8h.7v.7h-.7zM272.4 238.0h.7v.7h-.7zM267.3 238.7h.7v.7h-.7zM263.8 233.9h.7v.7h-.7zM258.2 248.5h.7v.7h-.7zM259.5 237.6h.7v.7h-.7zM273.6 246.7h.7v.7h-.7zM258.4 240.2h.7v.7h-.7zM252.4 239.2h.7v.7h-.7zM265.1 238.0h.7v.7h-.7zM263.7 241.2h.7v.7h-.7zM262.8 233.7h.7v.7h-.7zM252.9 235.9h.7v.7h-.7zM277.5 236.0h.7v.7h-.7zM255.9 233.8h.7v.7h-.7zM250.7 242.3h.7v.7h-.7zM252.7 246.0h.7v.7h-.7zM270.8 243.0h.7v.7h-.7zM272.1 237.3h.7v.7h-.7zM245.3 237.4h.7v.7h-.7zM268.2 224.4h.7v.7h-.7zM250.4 247.6h.7v.7h-.7zM266.3 249.9h.7v.7h-.7z" fill="#ec7868" fill-opacity="0.2"/>
<path d="M265.4 176.5L266.9 175.4L268.6 174.9L270.4 174.6L272.1 174.0L273.8 174.0L275.5 174.0L277.1 174.3L278.8 173.6L280.4 174.2L280.7 175.7L282.1 176.5L282.3 178.0L281.7 179.0L281.5 180.1L281.9 181.2L281.3 181.9L280.6 182.5L280.4 183.5L279.4 184.6L279.4 186.1L278.8 187.3L277.7 188.7L277.7 190.6L276.5 191.9L275.5 192.3L274.9 193.0L274.2 193.8L273.0 193.4L271.6 194.0L270.4 193.5L269.4 191.8L269.4 189.8L268.8 188.0L269.0 186.7L269.3 185.5L269.2 184.2L267.9 184.0L267.0 183.1L265.8 182.7L266.0 181.3L265.0 180.2L265.0 178.8L265.5 178.1L265.8 177.4Z" fill="#fcd8cc" stroke="#ec5232" stroke-width="1.0" stroke-linejoin="round"/>
<ellipse cx="273.6" cy="178.6" rx="3.6" ry="2.1" fill="#fbd6b0" stroke="#f39a40" stroke-width="0.8"/>
<ellipse cx="273.6" cy="178.6" rx="1.6" ry="0.9" fill="#f8e0a8"/>
<path d="M319.5 178.0L320.9 177.6L322.2 177.0L323.5 176.5L324.7 177.1L325.8 177.8L327.0 178.5L327.0 179.7L326.8 180.9L326.5 182.0L325.4 182.6L324.2 183.1L323.0 183.5L321.9 182.9L320.6 182.6L319.5 182.0L319.7 180.7L319.5 179.3Z" fill="#fbd0b8" stroke="#ec5232" stroke-width="0.7" stroke-linejoin="round"/>
<ellipse cx="323.2" cy="180" rx="1.7" ry="1.2" fill="#f6b070"/>
<path d="M313.0 224.9L314.7 223.8L316.2 222.3L317.3 220.6L319.1 220.1L320.7 219.1L322.5 218.4L323.7 218.4L324.8 219.1L326.0 219.3L327.2 219.4L328.2 220.2L329.4 220.1L329.4 219.0L330.4 218.4L330.7 217.5L331.6 217.5L332.4 217.7L333.3 218.0L333.3 219.4L332.8 220.9L333.3 222.3L332.2 223.5L332.3 225.2L331.6 226.6L330.7 227.9L330.3 229.4L330.3 231.0L329.7 233.0L329.0 235.0L328.5 237.0L328.0 238.9L326.5 240.3L326.0 242.2L325.4 243.9L324.5 245.6L324.2 247.4L322.5 246.6L320.8 246.7L319.0 246.5L317.8 246.7L316.7 247.3L315.6 247.8L314.6 246.7L314.4 245.2L313.8 243.9L312.8 242.6L312.3 241.2L312.1 239.6L312.2 237.2L311.1 235.0L310.8 232.7L310.4 231.3L310.7 229.8L310.8 228.4L311.1 227.0L312.4 226.1Z" fill="#fbcdb6" stroke="#ec5232" stroke-width="0.75" stroke-linejoin="round"/>
<path d="M314.5 226.6L315.5 225.3L316.6 224.2L317.9 223.2L319.4 222.7L320.8 222.3L322.1 221.4L323.1 221.3L323.9 222.1L324.9 222.1L325.8 222.4L326.7 222.6L327.6 222.8L327.9 222.1L328.0 221.2L328.7 220.7L329.4 220.7L330.0 221.0L330.7 221.1L330.9 222.2L330.3 223.4L330.7 224.5L330.4 225.7L329.6 226.7L329.4 228.0L328.8 229.1L328.5 230.3L328.3 231.5L327.9 233.1L327.4 234.7L326.9 236.3L326.0 237.6L325.8 239.2L324.9 240.5L324.6 241.9L324.3 243.4L323.5 244.6L322.1 244.4L320.7 244.2L319.3 243.9L318.3 243.9L317.4 244.3L316.6 244.9L316.0 243.9L315.6 242.9L315.1 241.8L314.4 240.8L314.4 239.5L313.8 238.4L313.4 236.5L312.8 234.7L312.7 232.9L313.0 231.7L312.4 230.6L312.7 229.4L313.1 228.4L313.9 227.5Z" fill="#f9bc88" stroke="#f07846" stroke-width="0.6" stroke-linejoin="round"/>
<path d="M316.0 228.2L317.1 227.6L317.6 226.4L318.6 225.7L319.6 225.1L320.7 224.9L321.7 224.3L322.4 224.4L323.0 224.9L323.8 224.9L324.5 224.8L325.2 225.0L325.8 225.4L326.0 224.8L326.5 224.4L326.6 223.8L327.2 223.7L327.6 224.1L328.2 224.1L327.9 225.0L327.9 225.8L328.2 226.7L327.7 227.5L327.8 228.5L327.2 229.3L326.9 230.1L326.8 231.1L326.4 231.9L326.2 233.2L325.8 234.3L325.3 235.5L324.7 236.5L324.3 237.6L323.8 238.6L323.6 239.7L323.2 240.7L322.7 241.7L321.6 241.8L320.7 241.1L319.6 241.2L318.9 241.3L318.2 241.7L317.6 242.0L317.5 241.1L317.1 240.3L316.5 239.6L316.0 238.8L315.7 238.0L315.5 237.1L315.0 235.7L315.0 234.3L314.7 232.9L314.7 232.1L314.7 231.2L314.7 230.3L315.3 229.7L315.6 228.9Z" fill="#f7c85e" stroke="#f49a40" stroke-width="0.5" stroke-linejoin="round"/>
<g filter="url(#b1)">
<path d="M317.4 229.6L317.9 229.0L318.6 228.5L319.2 227.8L320.0 227.7L320.5 227.0L321.3 226.9L321.8 227.0L322.4 227.0L322.8 227.3L323.3 227.5L323.8 227.5L324.2 227.6L324.6 227.3L324.7 226.9L324.8 226.5L325.1 226.8L325.5 226.7L325.9 226.7L325.8 227.3L325.6 227.9L325.9 228.5L325.5 229.1L325.5 229.8L325.2 230.3L325.2 231.0L324.6 231.5L324.6 232.2L324.6 233.1L323.9 233.8L323.9 234.7L323.3 235.3L323.1 236.1L322.8 236.9L322.3 237.5L322.3 238.3L322.1 239.1L321.3 238.8L320.6 238.8L319.9 238.7L319.4 239.0L319.0 239.3L318.4 239.2L318.3 238.6L317.9 238.2L317.7 237.6L317.3 237.1L317.2 236.4L317.0 235.8L316.7 234.8L316.5 233.9L316.4 232.9L316.6 232.3L316.5 231.7L316.4 231.1L316.8 230.7L317.2 230.2Z" fill="#f1dc52"/>
<ellipse cx="320.5" cy="231.5" rx="3.4" ry="4.8" fill="#e6ee76"/>
<ellipse cx="320.5" cy="231.5" rx="1.7" ry="2.4" fill="#d4f08c"/>
</g>
<rect x="310" y="256.5" width="23.5" height="2.2" rx="1" fill="url(#barG)"/>
<rect x="238.5" y="153.6" width="119.7" height="105.2" fill="none" stroke="#2a2a2a" stroke-width="1.1"/>
<rect x="289.2" y="199.0" width="64.0" height="56.4" fill="none" stroke="#333" stroke-width="1.2" rx="0.8"/>
<text x="251.7" y="165.2" font-size="6.9" textLength="38.1" lengthAdjust="spacingAndGlyphs">KDM6B-PBS</text>
<text x="293.2" y="211.7" font-size="7.36" textLength="20.0" lengthAdjust="spacingAndGlyphs">66.2%</text>
<line x1="383.8" y1="233.3" x2="386.4" y2="233.3" stroke="#333" stroke-width="0.9"/>
<text x="378.1" y="236.6" font-size="8.05" text-anchor="end" textLength="8.4" lengthAdjust="spacingAndGlyphs" fill="#333">10</text>
<text x="378.1" y="232.9" font-size="5.75" textLength="3.0" lengthAdjust="spacingAndGlyphs" fill="#333">0</text>
<line x1="415.2" y1="258.8" x2="415.2" y2="261.4" stroke="#333" stroke-width="0.9"/>
<text x="415.4" y="270.4" font-size="8.05" text-anchor="middle" textLength="8.4" lengthAdjust="spacingAndGlyphs" fill="#333">10</text>
<text x="419.6" y="266.8" font-size="5.75" textLength="3.0" lengthAdjust="spacingAndGlyphs" fill="#333">0</text>
<line x1="383.8" y1="207.2" x2="386.4" y2="207.2" stroke="#333" stroke-width="0.9"/>
<text x="378.1" y="210.5" font-size="8.05" text-anchor="end" textLength="8.4" lengthAdjust="spacingAndGlyphs" fill="#333">10</text>
<text x="378.1" y="206.8" font-size="5.75" textLength="3.0" lengthAdjust="spacingAndGlyphs" fill="#333">1</text>
<line x1="445.2" y1="258.8" x2="445.2" y2="261.4" stroke="#333" stroke-width="0.9"/>
<text x="445.4" y="270.4" font-size="8.05" text-anchor="middle" textLength="8.4" lengthAdjust="spacingAndGlyphs" fill="#333">10</text>
<text x="449.6" y="266.8" font-size="5.75" textLength="3.0" lengthAdjust="spacingAndGlyphs" fill="#333">1</text>
<line x1="383.8" y1="181.1" x2="386.4" y2="181.1" stroke="#333" stroke-width="0.9"/>
<text x="378.1" y="184.4" font-size="8.05" text-anchor="end" textLength="8.4" lengthAdjust="spacingAndGlyphs" fill="#333">10</text>
<text x="378.1" y="180.7" font-size="5.75" textLength="3.0" lengthAdjust="spacingAndGlyphs" fill="#333">2</text>
<line x1="475.2" y1="258.8" x2="475.2" y2="261.4" stroke="#333" stroke-width="0.9"/>
<text x="475.4" y="270.4" font-size="8.05" text-anchor="middle" textLength="8.4" lengthAdjust="spacingAndGlyphs" fill="#333">10</text>
<text x="479.6" y="266.8" font-size="5.75" textLength="3.0" lengthAdjust="spacingAndGlyphs" fill="#333">2</text>
<line x1="383.8" y1="155.0" x2="386.4" y2="155.0" stroke="#333" stroke-width="0.9"/>
<text x="378.1" y="158.3" font-size="8.05" text-anchor="end" textLength="8.4" lengthAdjust="spacingAndGlyphs" fill="#333">10</text>
<text x="378.1" y="154.6" font-size="5.75" textLength="3.0" lengthAdjust="spacingAndGlyphs" fill="#333">3</text>
<line x1="505.2" y1="258.8" x2="505.2" y2="261.4" stroke="#333" stroke-width="0.9"/>
<text x="505.4" y="270.4" font-size="8.05" text-anchor="middle" textLength="8.4" lengthAdjust="spacingAndGlyphs" fill="#333">10</text>
<text x="509.6" y="266.8" font-size="5.75" textLength="3.0" lengthAdjust="spacingAndGlyphs" fill="#333">3</text>
<path d="M394.2 258.8v1.4M386.4 251.5h1.3M399.5 258.8v1.4M386.4 246.9h1.3M403.3 258.8v1.4M386.4 243.7h1.3M406.2 258.8v1.4M386.4 241.2h1.3M408.5 258.8v1.4M386.4 239.1h1.3M410.6 258.8v1.4M386.4 237.3h1.3M412.3 258.8v1.4M386.4 235.8h1.3M413.8 258.8v1.4M386.4 234.5h1.3M424.2 258.8v1.4M386.4 225.4h1.3M429.5 258.8v1.4M386.4 220.8h1.3M433.3 258.8v1.4M386.4 217.6h1.3M436.2 258.8v1.4M386.4 215.1h1.3M438.5 258.8v1.4M386.4 213.0h1.3M440.6 258.8v1.4M386.4 211.2h1.3M442.3 258.8v1.4M386.4 209.7h1.3M443.8 258.8v1.4M386.4 208.4h1.3M454.2 258.8v1.4M386.4 199.3h1.3M459.5 258.8v1.4M386.4 194.7h1.3M463.3 258.8v1.4M386.4 191.5h1.3M466.2 258.8v1.4M386.4 189.0h1.3M468.5 258.8v1.4M386.4 186.9h1.3M470.6 258.8v1.4M386.4 185.1h1.3M472.3 258.8v1.4M386.4 183.6h1.3M473.8 258.8v1.4M386.4 182.3h1.3M484.2 258.8v1.4M386.4 173.2h1.3M489.5 258.8v1.4M386.4 168.6h1.3M493.3 258.8v1.4M386.4 165.4h1.3M496.2 258.8v1.4M386.4 162.9h1.3M498.5 258.8v1.4M386.4 160.8h1.3M500.6 258.8v1.4M386.4 159.0h1.3M502.3 258.8v1.4M386.4 157.5h1.3M503.8 258.8v1.4M386.4 156.2h1.3" stroke="#555" stroke-width="0.6"/>
<path d="M438.4 201.6h.6v.6h-.6zM437.9 192.0h.6v.6h-.6zM478.4 246.0h.6v.6h-.6zM422.2 228.2h.6v.6h-.6zM412.6 156.2h.6v.6h-.6zM467.5 234.9h.6v.6h-.6zM426.0 257.3h.6v.6h-.6zM471.5 188.3h.6v.6h-.6zM476.3 241.8h.6v.6h-.6zM403.8 248.8h.6v.6h-.6zM438.2 183.5h.6v.6h-.6zM431.6 209.5h.6v.6h-.6zM449.0 185.5h.6v.6h-.6zM394.4 220.0h.6v.6h-.6zM471.3 226.6h.6v.6h-.6zM433.8 243.2h.6v.6h-.6zM389.4 168.6h.6v.6h-.6zM389.5 212.2h.6v.6h-.6zM448.6 178.7h.6v.6h-.6zM448.8 155.8h.6v.6h-.6zM391.6 254.0h.6v.6h-.6zM490.9 162.5h.6v.6h-.6zM464.1 207.4h.6v.6h-.6zM450.3 241.5h.6v.6h-.6zM462.4 251.8h.6v.6h-.6zM467.1 249.1h.6v.6h-.6zM401.0 239.6h.6v.6h-.6zM424.8 249.7h.6v.6h-.6zM479.9 254.4h.6v.6h-.6zM475.7 195.4h.6v.6h-.6zM448.6 235.5h.6v.6h-.6zM394.2 210.6h.6v.6h-.6zM453.8 228.9h.6v.6h-.6zM427.4 217.5h.6v.6h-.6zM473.4 194.5h.6v.6h-.6zM467.1 247.9h.6v.6h-.6zM430.6 209.3h.6v.6h-.6zM444.0 241.3h.6v.6h-.6zM419.0 184.7h.6v.6h-.6zM433.3 222.2h.6v.6h-.6zM405.5 255.6h.6v.6h-.6zM446.2 230.2h.6v.6h-.6zM435.6 158.2h.6v.6h-.6zM432.5 213.9h.6v.6h-.6zM398.0 255.8h.6v.6h-.6zM456.0 202.4h.6v.6h-.6zM390.8 180.6h.6v.6h-.6zM426.8 221.9h.6v.6h-.6zM407.8 205.1h.6v.6h-.6zM419.0 213.2h.6v.6h-.6zM467.8 208.4h.6v.6h-.6zM475.1 219.2h.6v.6h-.6zM397.2 222.6h.6v.6h-.6zM444.0 233.1h.6v.6h-.6zM496.9 191.4h.6v.6h-.6zM486.8 178.9h.6v.6h-.6zM463.4 156.0h.6v.6h-.6zM483.8 201.1h.6v.6h-.6zM440.5 206.4h.6v.6h-.6zM430.9 179.0h.6v.6h-.6zM468.3 219.6h.6v.6h-.6zM393.8 183.1h.6v.6h-.6zM496.3 184.4h.6v.6h-.6zM421.7 214.6h.6v.6h-.6zM431.0 252.4h.6v.6h-.6zM502.3 168.6h.6v.6h-.6zM413.7 172.9h.6v.6h-.6zM439.4 184.5h.6v.6h-.6zM466.2 246.1h.6v.6h-.6zM395.7 158.1h.6v.6h-.6zM400.5 187.1h.6v.6h-.6zM403.0 199.6h.6v.6h-.6zM429.9 229.9h.6v.6h-.6zM500.4 255.5h.6v.6h-.6zM436.6 221.3h.6v.6h-.6zM402.9 217.9h.6v.6h-.6zM490.7 246.0h.6v.6h-.6zM403.8 172.4h.6v.6h-.6zM492.8 226.8h.6v.6h-.6zM476.5 162.3h.6v.6h-.6zM459.7 157.7h.6v.6h-.6zM473.5 236.8h.6v.6h-.6zM425.0 155.7h.6v.6h-.6zM473.1 257.6h.6v.6h-.6zM459.9 192.9h.6v.6h-.6zM425.9 238.5h.6v.6h-.6zM500.6 192.8h.6v.6h-.6zM413.2 257.4h.6v.6h-.6zM437.4 200.7h.6v.6h-.6zM423.7 229.6h.6v.6h-.6zM502.3 203.4h.6v.6h-.6zM487.4 196.4h.6v.6h-.6zM436.7 237.5h.6v.6h-.6zM500.9 232.7h.6v.6h-.6zM469.8 240.1h.6v.6h-.6zM494.8 253.0h.6v.6h-.6zM449.5 195.1h.6v.6h-.6zM388.2 209.4h.6v.6h-.6zM428.9 155.4h.6v.6h-.6zM503.5 186.9h.6v.6h-.6zM496.3 157.0h.6v.6h-.6zM429.5 235.7h.6v.6h-.6zM466.1 224.3h.6v.6h-.6zM444.5 164.8h.6v.6h-.6zM484.6 233.3h.6v.6h-.6zM443.3 213.0h.6v.6h-.6zM481.4 206.0h.6v.6h-.6zM443.0 205.0h.6v.6h-.6zM473.5 230.7h.6v.6h-.6zM426.5 234.9h.6v.6h-.6zM431.3 224.4h.6v.6h-.6zM431.5 247.5h.6v.6h-.6zM497.3 235.0h.6v.6h-.6zM432.0 191.4h.6v.6h-.6zM438.1 217.3h.6v.6h-.6zM391.3 211.2h.6v.6h-.6zM495.9 162.0h.6v.6h-.6zM491.6 214.0h.6v.6h-.6zM504.0 229.4h.6v.6h-.6zM471.4 232.5h.6v.6h-.6zM436.6 167.5h.6v.6h-.6zM487.3 245.2h.6v.6h-.6zM471.7 177.7h.6v.6h-.6zM445.8 208.1h.6v.6h-.6zM430.0 205.5h.6v.6h-.6zM440.9 255.8h.6v.6h-.6zM460.7 255.4h.6v.6h-.6zM493.6 173.6h.6v.6h-.6zM477.6 194.4h.6v.6h-.6zM457.2 213.1h.6v.6h-.6zM473.9 186.2h.6v.6h-.6zM466.6 193.2h.6v.6h-.6zM478.9 205.9h.6v.6h-.6zM462.6 257.4h.6v.6h-.6zM420.2 155.9h.6v.6h-.6zM492.1 209.1h.6v.6h-.6zM462.9 240.4h.6v.6h-.6zM491.5 194.9h.6v.6h-.6zM502.8 195.4h.6v.6h-.6zM472.4 240.6h.6v.6h-.6zM429.8 198.4h.6v.6h-.6zM430.2 190.4h.6v.6h-.6zM435.6 242.2h.6v.6h-.6zM394.5 256.7h.6v.6h-.6zM479.8 212.7h.6v.6h-.6zM462.5 186.1h.6v.6h-.6zM476.8 244.9h.6v.6h-.6zM432.0 206.5h.6v.6h-.6zM413.0 181.1h.6v.6h-.6zM487.0 221.2h.6v.6h-.6zM439.7 221.0h.6v.6h-.6zM409.1 155.8h.6v.6h-.6zM429.2 214.3h.6v.6h-.6zM409.0 210.9h.6v.6h-.6zM425.4 182.3h.6v.6h-.6zM473.9 192.3h.6v.6h-.6zM474.2 232.1h.6v.6h-.6zM431.3 158.6h.6v.6h-.6zM485.9 211.9h.6v.6h-.6zM455.2 225.6h.6v.6h-.6zM451.5 248.3h.6v.6h-.6zM388.4 254.6h.6v.6h-.6zM459.4 197.1h.6v.6h-.6zM493.5 247.1h.6v.6h-.6zM457.1 156.4h.6v.6h-.6zM460.3 197.6h.6v.6h-.6zM454.5 240.4h.6v.6h-.6zM402.8 241.9h.6v.6h-.6zM423.7 181.1h.6v.6h-.6zM391.8 166.3h.6v.6h-.6zM418.7 209.6h.6v.6h-.6zM497.3 173.0h.6v.6h-.6zM421.2 193.6h.6v.6h-.6zM462.2 191.6h.6v.6h-.6zM465.7 170.8h.6v.6h-.6zM392.5 214.8h.6v.6h-.6zM472.0 169.1h.6v.6h-.6zM393.0 223.9h.6v.6h-.6zM395.1 250.2h.6v.6h-.6zM468.1 171.8h.6v.6h-.6zM435.3 161.1h.6v.6h-.6zM397.7 191.4h.6v.6h-.6zM490.0 248.5h.6v.6h-.6zM475.4 220.7h.6v.6h-.6zM455.7 207.7h.6v.6h-.6zM464.1 206.3h.6v.6h-.6zM433.9 241.1h.6v.6h-.6zM422.6 197.0h.6v.6h-.6zM466.8 254.1h.6v.6h-.6zM427.7 199.8h.6v.6h-.6zM434.4 176.9h.6v.6h-.6zM428.9 236.3h.6v.6h-.6zM409.4 204.3h.6v.6h-.6zM420.6 214.6h.6v.6h-.6zM477.8 167.2h.6v.6h-.6zM444.3 174.6h.6v.6h-.6zM463.0 224.8h.6v.6h-.6zM413.3 179.0h.6v.6h-.6zM422.8 189.0h.6v.6h-.6zM491.8 244.9h.6v.6h-.6zM479.9 195.7h.6v.6h-.6zM440.8 176.0h.6v.6h-.6zM441.2 252.8h.6v.6h-.6zM398.1 195.8h.6v.6h-.6zM410.2 241.9h.6v.6h-.6zM422.6 205.3h.6v.6h-.6zM393.5 226.1h.6v.6h-.6zM447.5 237.4h.6v.6h-.6zM471.7 231.6h.6v.6h-.6zM418.1 181.1h.6v.6h-.6zM457.3 160.4h.6v.6h-.6zM496.9 229.2h.6v.6h-.6zM445.1 192.4h.6v.6h-.6zM396.5 212.2h.6v.6h-.6zM477.8 167.4h.6v.6h-.6zM399.0 225.6h.6v.6h-.6zM442.3 236.5h.6v.6h-.6zM435.5 256.0h.6v.6h-.6zM489.4 188.3h.6v.6h-.6zM450.1 215.5h.6v.6h-.6zM440.1 239.1h.6v.6h-.6zM469.8 239.2h.6v.6h-.6zM417.0 207.1h.6v.6h-.6zM450.9 215.2h.6v.6h-.6zM389.3 238.6h.6v.6h-.6zM439.8 171.7h.6v.6h-.6zM487.3 212.4h.6v.6h-.6zM473.9 231.2h.6v.6h-.6zM460.2 249.0h.6v.6h-.6zM393.9 189.5h.6v.6h-.6zM406.5 220.5h.6v.6h-.6zM413.1 158.3h.6v.6h-.6zM403.3 173.3h.6v.6h-.6zM450.6 202.0h.6v.6h-.6zM441.7 156.7h.6v.6h-.6zM449.2 181.4h.6v.6h-.6zM398.1 161.2h.6v.6h-.6zM405.0 196.4h.6v.6h-.6zM406.9 202.9h.6v.6h-.6zM406.5 230.7h.6v.6h-.6zM489.8 188.5h.6v.6h-.6zM395.8 254.2h.6v.6h-.6zM397.2 222.0h.6v.6h-.6zM475.8 204.9h.6v.6h-.6zM491.6 170.5h.6v.6h-.6zM471.6 248.3h.6v.6h-.6zM492.3 242.3h.6v.6h-.6zM438.4 207.8h.6v.6h-.6zM486.6 194.3h.6v.6h-.6zM417.2 158.6h.6v.6h-.6zM411.3 169.8h.6v.6h-.6zM496.0 187.1h.6v.6h-.6zM428.6 255.2h.6v.6h-.6zM468.2 199.8h.6v.6h-.6zM399.7 192.8h.6v.6h-.6zM421.4 252.5h.6v.6h-.6zM436.6 255.0h.6v.6h-.6zM419.0 160.3h.6v.6h-.6zM492.5 163.1h.6v.6h-.6zM479.5 216.4h.6v.6h-.6z" fill="#e8a8a0" fill-opacity="0.2"/>
<ellipse cx="416.0" cy="184.0" rx="24" ry="34" fill="url(#halo)" opacity="1" transform="rotate(35 416.0 184.0)"/>
<ellipse cx="472.0" cy="180.0" rx="15" ry="12" fill="url(#halo)" opacity="0.7" transform="rotate(0 472.0 180.0)"/>
<ellipse cx="471.0" cy="230.0" rx="18" ry="27" fill="url(#halo)" opacity="0.75" transform="rotate(0 471.0 230.0)"/>
<path d="M396.0 206.2h.7v.7h-.7zM407.3 161.2h.7v.7h-.7zM426.3 183.2h.7v.7h-.7zM425.5 161.3h.7v.7h-.7zM416.7 181.0h.7v.7h-.7zM425.6 160.1h.7v.7h-.7zM413.3 190.3h.7v.7h-.7zM419.7 196.7h.7v.7h-.7zM416.2 207.6h.7v.7h-.7zM424.9 169.7h.7v.7h-.7zM410.4 198.8h.7v.7h-.7zM415.9 159.7h.7v.7h-.7zM426.2 180.3h.7v.7h-.7zM424.8 194.4h.7v.7h-.7zM424.2 163.7h.7v.7h-.7zM436.3 164.5h.7v.7h-.7zM418.4 160.0h.7v.7h-.7zM412.9 215.2h.7v.7h-.7zM417.9 177.8h.7v.7h-.7zM409.7 204.0h.7v.7h-.7zM389.8 208.7h.7v.7h-.7zM404.0 197.8h.7v.7h-.7zM399.0 171.1h.7v.7h-.7zM392.6 206.5h.7v.7h-.7zM426.1 166.1h.7v.7h-.7zM436.7 185.1h.7v.7h-.7zM427.5 167.5h.7v.7h-.7zM419.2 190.0h.7v.7h-.7zM417.6 177.2h.7v.7h-.7zM418.4 171.6h.7v.7h-.7zM394.5 192.5h.7v.7h-.7zM435.4 170.3h.7v.7h-.7zM403.6 183.3h.7v.7h-.7zM434.6 193.0h.7v.7h-.7zM416.0 179.0h.7v.7h-.7zM419.5 183.0h.7v.7h-.7zM415.0 202.5h.7v.7h-.7zM405.6 207.6h.7v.7h-.7zM419.4 175.5h.7v.7h-.7zM455.8 174.0h.7v.7h-.7zM428.5 171.8h.7v.7h-.7zM443.2 161.9h.7v.7h-.7zM418.6 178.1h.7v.7h-.7zM397.7 193.1h.7v.7h-.7zM408.9 187.8h.7v.7h-.7zM410.7 183.2h.7v.7h-.7zM412.0 182.6h.7v.7h-.7zM421.5 174.5h.7v.7h-.7zM420.9 183.8h.7v.7h-.7zM418.5 165.1h.7v.7h-.7zM407.0 203.8h.7v.7h-.7zM410.1 171.7h.7v.7h-.7zM409.7 200.0h.7v.7h-.7zM432.2 172.1h.7v.7h-.7zM408.0 196.0h.7v.7h-.7zM419.9 182.3h.7v.7h-.7zM405.7 180.0h.7v.7h-.7zM415.2 184.1h.7v.7h-.7zM416.2 207.4h.7v.7h-.7zM408.0 182.9h.7v.7h-.7zM412.8 183.7h.7v.7h-.7zM419.7 204.5h.7v.7h-.7zM422.4 175.5h.7v.7h-.7zM411.4 187.9h.7v.7h-.7zM402.2 195.9h.7v.7h-.7zM427.0 168.5h.7v.7h-.7zM457.9 156.4h.7v.7h-.7zM415.1 181.0h.7v.7h-.7zM413.1 203.8h.7v.7h-.7zM412.4 212.1h.7v.7h-.7zM417.3 187.1h.7v.7h-.7zM423.8 188.9h.7v.7h-.7zM410.9 171.5h.7v.7h-.7zM415.3 195.5h.7v.7h-.7zM396.8 194.0h.7v.7h-.7zM432.1 165.8h.7v.7h-.7zM410.2 199.6h.7v.7h-.7zM422.8 182.7h.7v.7h-.7zM399.7 194.6h.7v.7h-.7zM417.7 185.1h.7v.7h-.7zM422.6 168.3h.7v.7h-.7zM405.3 169.7h.7v.7h-.7zM417.2 199.8h.7v.7h-.7zM396.9 200.5h.7v.7h-.7zM423.6 169.6h.7v.7h-.7zM410.5 207.3h.7v.7h-.7zM424.4 165.9h.7v.7h-.7zM402.4 204.3h.7v.7h-.7zM424.8 175.8h.7v.7h-.7zM425.8 181.2h.7v.7h-.7zM428.7 185.8h.7v.7h-.7zM434.3 189.9h.7v.7h-.7zM426.1 172.6h.7v.7h-.7zM403.4 181.9h.7v.7h-.7zM427.6 173.0h.7v.7h-.7zM424.0 181.5h.7v.7h-.7zM412.6 180.2h.7v.7h-.7zM412.2 195.6h.7v.7h-.7zM421.6 195.4h.7v.7h-.7zM416.9 171.2h.7v.7h-.7zM429.8 170.2h.7v.7h-.7zM418.3 178.1h.7v.7h-.7zM413.6 185.9h.7v.7h-.7zM408.6 210.9h.7v.7h-.7zM413.2 201.9h.7v.7h-.7zM398.5 192.1h.7v.7h-.7zM438.1 172.9h.7v.7h-.7zM439.9 189.6h.7v.7h-.7zM423.9 173.8h.7v.7h-.7zM401.9 195.1h.7v.7h-.7zM421.4 180.4h.7v.7h-.7zM433.2 177.6h.7v.7h-.7zM414.9 172.2h.7v.7h-.7zM404.1 189.2h.7v.7h-.7zM424.0 169.0h.7v.7h-.7zM430.9 155.5h.7v.7h-.7zM416.3 186.2h.7v.7h-.7zM422.7 184.1h.7v.7h-.7zM427.5 173.8h.7v.7h-.7zM414.8 186.2h.7v.7h-.7zM401.6 185.4h.7v.7h-.7zM416.6 185.4h.7v.7h-.7zM394.0 207.8h.7v.7h-.7zM423.1 173.9h.7v.7h-.7zM404.3 187.4h.7v.7h-.7zM421.7 172.5h.7v.7h-.7zM402.1 192.5h.7v.7h-.7zM406.9 198.3h.7v.7h-.7zM426.8 168.4h.7v.7h-.7zM419.5 192.7h.7v.7h-.7zM414.0 176.5h.7v.7h-.7zM401.2 189.9h.7v.7h-.7zM408.5 188.1h.7v.7h-.7zM420.3 181.9h.7v.7h-.7zM421.0 182.7h.7v.7h-.7zM411.1 172.4h.7v.7h-.7zM400.4 187.8h.7v.7h-.7zM426.2 179.7h.7v.7h-.7zM418.3 190.4h.7v.7h-.7zM431.8 176.8h.7v.7h-.7zM425.3 171.1h.7v.7h-.7zM398.4 198.4h.7v.7h-.7zM409.6 161.6h.7v.7h-.7zM412.5 196.7h.7v.7h-.7zM399.9 179.9h.7v.7h-.7zM415.8 201.6h.7v.7h-.7zM398.2 197.9h.7v.7h-.7zM409.0 191.1h.7v.7h-.7zM400.0 203.9h.7v.7h-.7zM411.9 184.9h.7v.7h-.7zM424.6 176.0h.7v.7h-.7zM424.7 167.9h.7v.7h-.7zM413.5 183.9h.7v.7h-.7zM402.7 206.8h.7v.7h-.7zM396.5 180.4h.7v.7h-.7zM429.8 171.1h.7v.7h-.7zM416.6 184.3h.7v.7h-.7zM402.0 188.3h.7v.7h-.7zM423.9 202.7h.7v.7h-.7zM412.0 202.0h.7v.7h-.7zM406.1 196.1h.7v.7h-.7zM408.4 182.2h.7v.7h-.7zM409.2 204.7h.7v.7h-.7zM416.6 178.7h.7v.7h-.7zM420.2 185.4h.7v.7h-.7zM409.7 195.2h.7v.7h-.7zM402.3 191.5h.7v.7h-.7zM421.2 182.5h.7v.7h-.7zM412.6 169.3h.7v.7h-.7zM407.1 196.0h.7v.7h-.7zM395.0 183.1h.7v.7h-.7zM427.8 170.2h.7v.7h-.7zM418.7 193.6h.7v.7h-.7zM428.2 173.5h.7v.7h-.7zM399.6 190.2h.7v.7h-.7zM423.0 196.0h.7v.7h-.7zM418.7 177.1h.7v.7h-.7zM394.4 188.0h.7v.7h-.7zM404.1 199.6h.7v.7h-.7zM401.1 194.0h.7v.7h-.7zM405.4 187.9h.7v.7h-.7zM432.5 181.9h.7v.7h-.7zM422.7 188.6h.7v.7h-.7zM407.3 181.8h.7v.7h-.7zM427.2 178.0h.7v.7h-.7zM419.2 175.2h.7v.7h-.7zM412.3 177.3h.7v.7h-.7zM426.6 181.8h.7v.7h-.7zM428.6 185.4h.7v.7h-.7zM401.2 194.4h.7v.7h-.7zM432.2 182.7h.7v.7h-.7zM430.9 171.9h.7v.7h-.7zM416.4 177.0h.7v.7h-.7zM432.6 171.3h.7v.7h-.7zM418.5 172.4h.7v.7h-.7zM427.9 168.5h.7v.7h-.7zM431.3 165.5h.7v.7h-.7zM434.1 171.2h.7v.7h-.7zM387.1 196.0h.7v.7h-.7zM432.8 179.5h.7v.7h-.7zM403.7 184.6h.7v.7h-.7zM425.4 202.2h.7v.7h-.7zM431.6 172.0h.7v.7h-.7zM399.5 179.9h.7v.7h-.7zM422.1 190.9h.7v.7h-.7zM403.4 201.9h.7v.7h-.7zM399.9 193.9h.7v.7h-.7zM427.7 180.1h.7v.7h-.7zM415.9 186.0h.7v.7h-.7zM429.1 174.3h.7v.7h-.7zM413.5 184.0h.7v.7h-.7zM416.0 184.4h.7v.7h-.7zM419.6 182.8h.7v.7h-.7zM403.0 194.8h.7v.7h-.7zM414.2 176.6h.7v.7h-.7zM420.0 164.7h.7v.7h-.7zM419.6 185.7h.7v.7h-.7zM410.9 189.2h.7v.7h-.7zM408.6 191.9h.7v.7h-.7zM426.0 197.7h.7v.7h-.7zM399.1 204.0h.7v.7h-.7zM436.2 166.1h.7v.7h-.7zM423.8 193.5h.7v.7h-.7zM432.6 173.4h.7v.7h-.7zM415.7 171.3h.7v.7h-.7zM430.2 172.3h.7v.7h-.7zM402.2 192.7h.7v.7h-.7zM410.3 182.2h.7v.7h-.7zM424.9 157.5h.7v.7h-.7zM416.5 182.0h.7v.7h-.7zM396.8 189.3h.7v.7h-.7zM414.0 199.6h.7v.7h-.7zM422.7 166.6h.7v.7h-.7zM413.9 185.7h.7v.7h-.7zM420.0 175.5h.7v.7h-.7zM415.4 169.4h.7v.7h-.7zM419.8 177.3h.7v.7h-.7zM430.6 188.9h.7v.7h-.7zM423.5 180.3h.7v.7h-.7zM423.5 170.5h.7v.7h-.7zM426.0 162.2h.7v.7h-.7zM388.9 190.7h.7v.7h-.7zM404.4 184.2h.7v.7h-.7zM420.2 176.0h.7v.7h-.7zM426.3 180.5h.7v.7h-.7zM422.5 181.4h.7v.7h-.7zM414.4 201.2h.7v.7h-.7zM406.6 198.4h.7v.7h-.7zM405.6 206.6h.7v.7h-.7zM429.0 163.5h.7v.7h-.7zM415.4 188.1h.7v.7h-.7zM415.2 179.5h.7v.7h-.7zM425.3 166.5h.7v.7h-.7zM435.4 182.7h.7v.7h-.7zM422.5 158.2h.7v.7h-.7zM410.3 179.2h.7v.7h-.7zM421.3 199.1h.7v.7h-.7zM421.9 164.3h.7v.7h-.7zM408.7 177.2h.7v.7h-.7zM426.6 182.2h.7v.7h-.7zM410.2 216.9h.7v.7h-.7zM436.6 157.0h.7v.7h-.7zM424.8 188.2h.7v.7h-.7zM411.9 200.0h.7v.7h-.7zM408.2 179.7h.7v.7h-.7zM424.0 175.2h.7v.7h-.7zM422.2 185.8h.7v.7h-.7zM396.2 206.1h.7v.7h-.7zM402.5 205.8h.7v.7h-.7zM405.6 196.5h.7v.7h-.7zM409.2 182.1h.7v.7h-.7zM443.3 161.5h.7v.7h-.7zM422.3 183.2h.7v.7h-.7zM422.2 191.8h.7v.7h-.7zM427.0 167.1h.7v.7h-.7zM443.8 189.3h.7v.7h-.7zM420.2 173.1h.7v.7h-.7zM411.8 185.2h.7v.7h-.7zM396.9 190.8h.7v.7h-.7zM408.7 190.3h.7v.7h-.7zM405.5 166.6h.7v.7h-.7zM417.3 177.5h.7v.7h-.7zM408.4 184.5h.7v.7h-.7zM427.8 173.4h.7v.7h-.7zM395.3 183.4h.7v.7h-.7zM404.1 196.1h.7v.7h-.7zM423.2 187.0h.7v.7h-.7zM408.9 172.1h.7v.7h-.7zM399.6 196.2h.7v.7h-.7zM395.6 187.1h.7v.7h-.7zM410.0 168.8h.7v.7h-.7zM412.1 167.9h.7v.7h-.7zM409.5 186.5h.7v.7h-.7zM405.6 189.8h.7v.7h-.7zM427.2 194.8h.7v.7h-.7zM409.3 175.8h.7v.7h-.7zM418.5 178.8h.7v.7h-.7zM413.9 204.6h.7v.7h-.7zM425.7 200.8h.7v.7h-.7zM398.0 168.8h.7v.7h-.7zM428.1 177.0h.7v.7h-.7zM403.5 192.6h.7v.7h-.7zM427.1 170.2h.7v.7h-.7zM427.0 168.2h.7v.7h-.7zM426.3 168.4h.7v.7h-.7zM413.9 172.6h.7v.7h-.7zM446.7 182.7h.7v.7h-.7zM412.3 171.0h.7v.7h-.7zM416.4 199.5h.7v.7h-.7zM423.9 183.3h.7v.7h-.7zM423.8 174.7h.7v.7h-.7zM421.9 172.7h.7v.7h-.7zM414.4 163.8h.7v.7h-.7zM426.3 198.7h.7v.7h-.7zM411.6 178.7h.7v.7h-.7zM401.8 197.3h.7v.7h-.7zM421.5 175.6h.7v.7h-.7zM418.0 191.4h.7v.7h-.7zM418.0 170.6h.7v.7h-.7zM431.7 163.6h.7v.7h-.7zM400.3 192.3h.7v.7h-.7zM412.2 202.6h.7v.7h-.7zM418.1 174.0h.7v.7h-.7zM418.3 176.4h.7v.7h-.7zM427.2 187.5h.7v.7h-.7zM432.1 181.6h.7v.7h-.7zM404.1 206.6h.7v.7h-.7zM416.5 171.8h.7v.7h-.7zM426.1 160.2h.7v.7h-.7zM419.6 174.1h.7v.7h-.7zM436.1 188.9h.7v.7h-.7zM392.1 185.3h.7v.7h-.7zM423.1 188.2h.7v.7h-.7zM411.6 194.5h.7v.7h-.7zM411.6 181.6h.7v.7h-.7zM402.1 205.9h.7v.7h-.7zM424.6 193.2h.7v.7h-.7zM398.4 188.5h.7v.7h-.7zM405.1 198.6h.7v.7h-.7zM414.7 186.5h.7v.7h-.7zM427.2 177.8h.7v.7h-.7zM390.6 210.0h.7v.7h-.7zM401.4 191.5h.7v.7h-.7zM413.5 197.8h.7v.7h-.7zM437.8 173.6h.7v.7h-.7zM441.3 162.3h.7v.7h-.7zM413.3 188.5h.7v.7h-.7zM413.6 203.0h.7v.7h-.7zM411.7 175.7h.7v.7h-.7zM421.1 174.2h.7v.7h-.7zM416.0 171.3h.7v.7h-.7zM412.0 207.1h.7v.7h-.7zM406.2 209.3h.7v.7h-.7zM426.4 170.4h.7v.7h-.7zM409.4 183.2h.7v.7h-.7zM412.4 204.6h.7v.7h-.7zM400.9 191.7h.7v.7h-.7zM406.8 188.9h.7v.7h-.7zM409.2 207.5h.7v.7h-.7zM410.0 184.4h.7v.7h-.7zM422.8 180.7h.7v.7h-.7zM411.2 192.0h.7v.7h-.7zM409.9 167.4h.7v.7h-.7zM428.4 201.3h.7v.7h-.7zM428.4 157.5h.7v.7h-.7zM404.4 185.7h.7v.7h-.7zM416.8 193.0h.7v.7h-.7zM425.6 179.1h.7v.7h-.7zM437.5 177.5h.7v.7h-.7zM422.0 183.0h.7v.7h-.7zM395.5 186.9h.7v.7h-.7zM407.6 191.6h.7v.7h-.7zM423.6 192.4h.7v.7h-.7zM413.1 177.8h.7v.7h-.7zM402.4 202.1h.7v.7h-.7zM407.8 208.6h.7v.7h-.7zM428.2 177.9h.7v.7h-.7zM413.8 201.0h.7v.7h-.7zM410.9 189.2h.7v.7h-.7zM425.0 166.1h.7v.7h-.7zM408.4 193.3h.7v.7h-.7zM400.4 193.9h.7v.7h-.7zM407.4 199.5h.7v.7h-.7zM414.3 174.7h.7v.7h-.7zM415.7 168.9h.7v.7h-.7zM418.3 188.3h.7v.7h-.7zM409.8 185.3h.7v.7h-.7zM410.1 172.3h.7v.7h-.7zM418.7 157.1h.7v.7h-.7zM416.1 162.9h.7v.7h-.7zM414.8 209.5h.7v.7h-.7zM430.2 182.7h.7v.7h-.7zM430.6 172.4h.7v.7h-.7zM409.8 184.3h.7v.7h-.7zM402.7 178.4h.7v.7h-.7zM439.0 160.3h.7v.7h-.7zM400.9 168.1h.7v.7h-.7zM413.7 185.1h.7v.7h-.7zM402.7 185.6h.7v.7h-.7zM423.4 175.1h.7v.7h-.7zM425.3 195.5h.7v.7h-.7zM404.5 211.5h.7v.7h-.7zM414.4 178.6h.7v.7h-.7zM405.5 172.2h.7v.7h-.7zM396.4 218.4h.7v.7h-.7zM418.1 189.3h.7v.7h-.7zM414.5 166.6h.7v.7h-.7zM415.1 156.8h.7v.7h-.7zM414.0 188.3h.7v.7h-.7zM411.3 176.5h.7v.7h-.7zM404.5 187.9h.7v.7h-.7zM425.5 179.9h.7v.7h-.7zM423.7 165.8h.7v.7h-.7zM392.8 209.8h.7v.7h-.7zM408.0 194.9h.7v.7h-.7zM406.7 205.9h.7v.7h-.7zM421.7 170.6h.7v.7h-.7zM415.0 201.0h.7v.7h-.7zM401.2 194.7h.7v.7h-.7zM416.2 183.3h.7v.7h-.7zM424.3 200.0h.7v.7h-.7zM421.0 181.4h.7v.7h-.7zM407.8 198.5h.7v.7h-.7zM426.0 176.4h.7v.7h-.7zM420.2 184.6h.7v.7h-.7zM419.9 182.9h.7v.7h-.7zM425.0 181.4h.7v.7h-.7zM438.5 156.5h.7v.7h-.7zM408.7 197.9h.7v.7h-.7zM429.1 167.9h.7v.7h-.7zM427.7 181.9h.7v.7h-.7zM410.0 183.6h.7v.7h-.7zM395.2 208.8h.7v.7h-.7zM395.4 211.0h.7v.7h-.7zM430.4 170.1h.7v.7h-.7zM415.4 184.6h.7v.7h-.7zM414.6 207.7h.7v.7h-.7zM440.3 188.1h.7v.7h-.7zM391.6 212.0h.7v.7h-.7zM406.2 184.0h.7v.7h-.7zM436.7 178.9h.7v.7h-.7zM420.2 172.5h.7v.7h-.7zM416.0 191.8h.7v.7h-.7zM409.6 192.2h.7v.7h-.7zM413.7 175.0h.7v.7h-.7zM400.9 212.5h.7v.7h-.7zM415.1 184.5h.7v.7h-.7zM424.6 191.5h.7v.7h-.7zM423.1 193.6h.7v.7h-.7zM422.5 192.1h.7v.7h-.7zM417.0 168.2h.7v.7h-.7zM401.8 210.5h.7v.7h-.7zM432.2 189.2h.7v.7h-.7zM444.1 182.0h.7v.7h-.7zM401.3 191.8h.7v.7h-.7zM396.6 188.1h.7v.7h-.7zM412.9 194.0h.7v.7h-.7zM403.7 182.8h.7v.7h-.7zM423.1 188.0h.7v.7h-.7zM423.1 189.4h.7v.7h-.7zM421.2 181.5h.7v.7h-.7zM407.5 175.0h.7v.7h-.7zM426.4 176.6h.7v.7h-.7zM427.4 187.6h.7v.7h-.7zM399.1 196.2h.7v.7h-.7zM428.4 163.4h.7v.7h-.7zM420.8 170.2h.7v.7h-.7zM422.9 171.1h.7v.7h-.7zM412.2 190.2h.7v.7h-.7zM413.6 178.4h.7v.7h-.7zM407.2 193.9h.7v.7h-.7zM403.8 190.1h.7v.7h-.7zM426.7 187.7h.7v.7h-.7zM411.7 175.0h.7v.7h-.7zM408.0 167.9h.7v.7h-.7zM408.8 175.6h.7v.7h-.7zM408.5 188.8h.7v.7h-.7zM412.9 190.0h.7v.7h-.7zM413.0 187.4h.7v.7h-.7zM401.6 186.8h.7v.7h-.7zM415.1 205.0h.7v.7h-.7zM402.3 182.6h.7v.7h-.7zM397.2 185.6h.7v.7h-.7zM418.6 176.9h.7v.7h-.7zM412.7 177.0h.7v.7h-.7zM424.7 171.3h.7v.7h-.7zM413.9 187.6h.7v.7h-.7zM420.1 186.0h.7v.7h-.7zM394.6 214.2h.7v.7h-.7zM420.2 193.3h.7v.7h-.7zM400.2 185.0h.7v.7h-.7zM411.2 188.1h.7v.7h-.7zM415.3 185.4h.7v.7h-.7zM402.1 201.2h.7v.7h-.7zM421.2 182.2h.7v.7h-.7zM395.1 210.1h.7v.7h-.7zM414.5 172.7h.7v.7h-.7zM416.9 187.5h.7v.7h-.7zM405.6 203.2h.7v.7h-.7zM420.3 195.2h.7v.7h-.7zM416.8 183.3h.7v.7h-.7zM405.0 195.9h.7v.7h-.7zM416.3 163.9h.7v.7h-.7zM421.4 169.0h.7v.7h-.7zM399.6 195.8h.7v.7h-.7zM394.3 180.1h.7v.7h-.7zM408.6 174.1h.7v.7h-.7zM420.8 168.0h.7v.7h-.7zM404.5 177.3h.7v.7h-.7zM403.0 196.3h.7v.7h-.7zM432.0 189.5h.7v.7h-.7zM412.7 176.1h.7v.7h-.7zM410.7 198.6h.7v.7h-.7zM404.6 185.3h.7v.7h-.7zM405.2 198.8h.7v.7h-.7zM414.8 179.1h.7v.7h-.7zM421.9 162.3h.7v.7h-.7zM411.3 194.6h.7v.7h-.7zM421.6 193.2h.7v.7h-.7zM421.0 169.6h.7v.7h-.7zM414.1 168.6h.7v.7h-.7zM417.5 186.8h.7v.7h-.7zM400.2 170.9h.7v.7h-.7zM423.4 168.8h.7v.7h-.7zM410.9 190.8h.7v.7h-.7zM420.8 161.0h.7v.7h-.7zM411.1 185.7h.7v.7h-.7zM399.9 202.9h.7v.7h-.7zM426.2 171.5h.7v.7h-.7zM427.5 179.4h.7v.7h-.7zM420.0 188.8h.7v.7h-.7zM434.0 177.2h.7v.7h-.7zM417.3 193.2h.7v.7h-.7zM402.9 188.6h.7v.7h-.7zM429.2 200.2h.7v.7h-.7zM411.7 178.0h.7v.7h-.7zM423.1 193.9h.7v.7h-.7zM432.7 183.0h.7v.7h-.7zM439.9 170.0h.7v.7h-.7zM417.4 179.2h.7v.7h-.7zM401.1 197.5h.7v.7h-.7zM408.3 185.5h.7v.7h-.7zM421.9 204.2h.7v.7h-.7zM419.6 172.3h.7v.7h-.7zM397.8 178.7h.7v.7h-.7zM412.2 203.0h.7v.7h-.7zM397.9 213.5h.7v.7h-.7zM442.8 157.6h.7v.7h-.7zM402.2 189.9h.7v.7h-.7zM405.3 192.9h.7v.7h-.7zM441.7 187.1h.7v.7h-.7zM432.8 194.2h.7v.7h-.7zM404.3 177.7h.7v.7h-.7zM427.9 181.0h.7v.7h-.7zM435.5 180.6h.7v.7h-.7zM406.1 195.1h.7v.7h-.7zM419.5 175.6h.7v.7h-.7zM409.8 192.5h.7v.7h-.7zM416.2 210.7h.7v.7h-.7zM429.9 193.2h.7v.7h-.7zM404.2 174.9h.7v.7h-.7zM422.1 168.8h.7v.7h-.7zM412.8 180.4h.7v.7h-.7zM407.9 196.3h.7v.7h-.7zM398.7 194.3h.7v.7h-.7zM409.5 193.8h.7v.7h-.7zM436.4 174.1h.7v.7h-.7zM434.3 182.8h.7v.7h-.7zM408.9 200.3h.7v.7h-.7zM437.1 168.2h.7v.7h-.7zM406.7 199.7h.7v.7h-.7zM415.8 182.3h.7v.7h-.7zM401.4 205.9h.7v.7h-.7zM420.6 168.8h.7v.7h-.7zM412.7 171.4h.7v.7h-.7zM411.0 187.3h.7v.7h-.7zM431.1 161.0h.7v.7h-.7zM398.2 184.8h.7v.7h-.7zM433.7 169.9h.7v.7h-.7zM445.2 156.9h.7v.7h-.7zM427.6 203.7h.7v.7h-.7zM399.1 182.2h.7v.7h-.7zM419.9 177.9h.7v.7h-.7zM415.3 179.2h.7v.7h-.7zM423.5 171.6h.7v.7h-.7zM406.7 188.4h.7v.7h-.7zM432.1 169.3h.7v.7h-.7zM398.0 202.0h.7v.7h-.7zM406.1 209.3h.7v.7h-.7zM415.6 163.4h.7v.7h-.7zM422.9 168.3h.7v.7h-.7zM414.4 169.2h.7v.7h-.7zM407.0 194.0h.7v.7h-.7zM436.3 163.8h.7v.7h-.7zM430.0 187.3h.7v.7h-.7zM408.9 178.4h.7v.7h-.7zM425.8 163.7h.7v.7h-.7zM432.8 184.4h.7v.7h-.7zM406.6 188.0h.7v.7h-.7zM423.9 199.0h.7v.7h-.7zM405.3 185.1h.7v.7h-.7zM420.7 194.7h.7v.7h-.7zM425.2 181.0h.7v.7h-.7zM430.9 161.5h.7v.7h-.7zM421.1 165.4h.7v.7h-.7zM402.3 203.7h.7v.7h-.7zM411.5 155.1h.7v.7h-.7zM410.0 178.0h.7v.7h-.7zM431.7 179.8h.7v.7h-.7zM399.0 195.9h.7v.7h-.7zM413.9 192.9h.7v.7h-.7zM429.0 178.6h.7v.7h-.7zM423.7 176.5h.7v.7h-.7zM409.4 182.0h.7v.7h-.7zM430.9 169.5h.7v.7h-.7zM404.7 188.0h.7v.7h-.7zM411.1 193.6h.7v.7h-.7zM421.1 171.8h.7v.7h-.7zM416.2 195.9h.7v.7h-.7zM387.0 180.7h.7v.7h-.7zM404.2 188.8h.7v.7h-.7zM430.2 188.5h.7v.7h-.7zM406.5 182.4h.7v.7h-.7zM411.4 191.9h.7v.7h-.7zM403.3 180.0h.7v.7h-.7zM416.2 197.8h.7v.7h-.7zM409.6 203.0h.7v.7h-.7zM398.6 195.8h.7v.7h-.7zM426.7 172.0h.7v.7h-.7zM411.3 186.0h.7v.7h-.7zM406.0 203.5h.7v.7h-.7zM422.1 178.3h.7v.7h-.7zM435.2 191.0h.7v.7h-.7zM401.4 191.9h.7v.7h-.7zM420.2 171.5h.7v.7h-.7zM397.2 194.1h.7v.7h-.7zM407.2 179.9h.7v.7h-.7zM414.4 179.1h.7v.7h-.7zM408.5 181.8h.7v.7h-.7zM410.8 201.0h.7v.7h-.7zM424.1 166.8h.7v.7h-.7zM404.9 176.4h.7v.7h-.7zM415.1 185.8h.7v.7h-.7zM411.6 168.3h.7v.7h-.7zM404.3 189.1h.7v.7h-.7zM407.3 190.0h.7v.7h-.7zM437.5 161.4h.7v.7h-.7zM402.6 199.4h.7v.7h-.7zM411.0 183.1h.7v.7h-.7zM426.3 167.3h.7v.7h-.7zM433.3 193.6h.7v.7h-.7zM424.8 181.5h.7v.7h-.7zM415.7 206.5h.7v.7h-.7zM415.9 202.7h.7v.7h-.7zM408.4 205.9h.7v.7h-.7zM417.7 187.9h.7v.7h-.7zM430.1 176.6h.7v.7h-.7zM389.7 181.6h.7v.7h-.7zM423.5 175.6h.7v.7h-.7zM422.7 170.2h.7v.7h-.7zM408.0 182.2h.7v.7h-.7zM409.2 195.6h.7v.7h-.7zM409.4 191.9h.7v.7h-.7zM427.4 178.4h.7v.7h-.7zM409.7 166.4h.7v.7h-.7zM418.9 175.8h.7v.7h-.7zM438.5 186.6h.7v.7h-.7zM426.5 176.5h.7v.7h-.7zM432.6 171.1h.7v.7h-.7zM421.3 191.4h.7v.7h-.7zM423.9 166.4h.7v.7h-.7zM433.6 185.2h.7v.7h-.7zM448.7 160.0h.7v.7h-.7zM390.4 201.6h.7v.7h-.7zM428.9 193.6h.7v.7h-.7zM417.7 197.3h.7v.7h-.7zM412.1 184.0h.7v.7h-.7zM419.7 160.6h.7v.7h-.7zM410.1 194.3h.7v.7h-.7zM428.3 168.9h.7v.7h-.7zM421.4 189.7h.7v.7h-.7zM424.1 184.2h.7v.7h-.7z" fill="#ec7868" fill-opacity="0.32"/>
<path d="M470.3 185.3h.7v.7h-.7zM480.9 174.0h.7v.7h-.7zM464.8 184.9h.7v.7h-.7zM474.3 180.3h.7v.7h-.7zM465.6 185.1h.7v.7h-.7zM473.2 181.1h.7v.7h-.7zM474.5 177.4h.7v.7h-.7zM474.6 180.7h.7v.7h-.7zM476.7 182.0h.7v.7h-.7zM463.6 176.5h.7v.7h-.7zM470.3 185.9h.7v.7h-.7zM467.8 185.7h.7v.7h-.7zM479.0 184.4h.7v.7h-.7zM486.7 180.0h.7v.7h-.7zM474.1 186.2h.7v.7h-.7zM474.7 185.0h.7v.7h-.7zM471.2 187.1h.7v.7h-.7zM474.3 170.5h.7v.7h-.7zM479.1 179.1h.7v.7h-.7zM466.2 178.6h.7v.7h-.7zM470.2 185.8h.7v.7h-.7zM474.2 179.7h.7v.7h-.7zM471.9 175.6h.7v.7h-.7zM467.8 177.7h.7v.7h-.7zM470.5 174.3h.7v.7h-.7zM469.4 185.1h.7v.7h-.7zM475.0 180.1h.7v.7h-.7zM474.3 178.9h.7v.7h-.7zM464.3 184.5h.7v.7h-.7zM486.6 182.6h.7v.7h-.7zM476.5 192.3h.7v.7h-.7zM464.1 182.7h.7v.7h-.7zM469.8 178.7h.7v.7h-.7zM461.2 179.7h.7v.7h-.7zM474.6 172.1h.7v.7h-.7zM470.6 177.6h.7v.7h-.7zM465.5 183.2h.7v.7h-.7zM482.7 182.2h.7v.7h-.7zM478.7 183.9h.7v.7h-.7zM471.6 183.0h.7v.7h-.7zM480.6 178.0h.7v.7h-.7zM471.0 173.2h.7v.7h-.7zM459.9 176.0h.7v.7h-.7zM477.8 181.9h.7v.7h-.7zM473.7 186.6h.7v.7h-.7zM460.5 186.9h.7v.7h-.7zM472.5 183.9h.7v.7h-.7zM481.0 176.0h.7v.7h-.7zM466.3 182.1h.7v.7h-.7zM471.6 177.2h.7v.7h-.7zM471.2 176.5h.7v.7h-.7zM472.9 178.2h.7v.7h-.7zM483.1 174.9h.7v.7h-.7zM475.8 180.5h.7v.7h-.7zM482.3 175.3h.7v.7h-.7zM469.0 188.7h.7v.7h-.7zM467.7 178.2h.7v.7h-.7zM469.4 175.2h.7v.7h-.7zM480.0 187.6h.7v.7h-.7zM471.0 176.3h.7v.7h-.7zM463.2 183.4h.7v.7h-.7zM468.5 182.8h.7v.7h-.7zM456.3 178.0h.7v.7h-.7zM476.1 182.1h.7v.7h-.7zM453.3 181.5h.7v.7h-.7zM472.8 180.0h.7v.7h-.7zM469.8 177.9h.7v.7h-.7zM472.9 182.6h.7v.7h-.7zM451.4 180.0h.7v.7h-.7zM478.1 179.0h.7v.7h-.7zM480.0 175.4h.7v.7h-.7zM484.5 184.8h.7v.7h-.7zM469.4 193.7h.7v.7h-.7zM481.4 187.9h.7v.7h-.7zM464.2 179.5h.7v.7h-.7zM475.1 185.3h.7v.7h-.7zM472.5 173.6h.7v.7h-.7zM480.0 179.2h.7v.7h-.7zM474.9 178.5h.7v.7h-.7zM471.3 173.3h.7v.7h-.7zM476.4 177.0h.7v.7h-.7zM460.4 182.1h.7v.7h-.7zM471.8 184.8h.7v.7h-.7zM477.4 174.1h.7v.7h-.7zM470.8 180.1h.7v.7h-.7zM472.6 174.8h.7v.7h-.7zM472.5 184.9h.7v.7h-.7zM480.1 187.3h.7v.7h-.7zM476.9 167.6h.7v.7h-.7zM470.2 177.4h.7v.7h-.7zM453.1 187.7h.7v.7h-.7zM477.9 180.0h.7v.7h-.7zM474.4 182.5h.7v.7h-.7zM470.6 186.9h.7v.7h-.7zM483.9 184.1h.7v.7h-.7zM468.4 181.3h.7v.7h-.7zM478.4 183.6h.7v.7h-.7zM467.5 184.8h.7v.7h-.7zM476.7 182.9h.7v.7h-.7zM469.3 179.9h.7v.7h-.7zM459.5 179.9h.7v.7h-.7zM469.1 178.6h.7v.7h-.7zM470.2 178.5h.7v.7h-.7zM472.6 180.5h.7v.7h-.7zM468.0 179.4h.7v.7h-.7zM471.4 182.5h.7v.7h-.7zM474.9 178.3h.7v.7h-.7zM466.6 171.9h.7v.7h-.7zM463.8 182.1h.7v.7h-.7zM466.0 188.0h.7v.7h-.7zM471.0 178.1h.7v.7h-.7zM471.0 177.4h.7v.7h-.7zM467.9 180.4h.7v.7h-.7zM462.6 180.7h.7v.7h-.7zM471.4 175.6h.7v.7h-.7zM478.7 181.8h.7v.7h-.7zM479.1 176.8h.7v.7h-.7zM463.9 174.2h.7v.7h-.7zM461.7 170.7h.7v.7h-.7zM482.2 177.7h.7v.7h-.7zM473.3 177.4h.7v.7h-.7zM471.1 187.8h.7v.7h-.7zM460.7 175.2h.7v.7h-.7zM472.9 175.6h.7v.7h-.7zM476.5 186.4h.7v.7h-.7zM477.8 183.8h.7v.7h-.7zM470.9 185.0h.7v.7h-.7zM466.8 174.2h.7v.7h-.7zM470.3 178.8h.7v.7h-.7zM480.0 175.2h.7v.7h-.7z" fill="#ec7868" fill-opacity="0.32"/>
<path d="M480.2 219.9h.7v.7h-.7zM460.9 209.0h.7v.7h-.7zM470.7 212.0h.7v.7h-.7zM472.7 229.7h.7v.7h-.7zM467.8 206.3h.7v.7h-.7zM466.8 234.4h.7v.7h-.7zM456.7 237.3h.7v.7h-.7zM471.1 222.7h.7v.7h-.7zM472.6 236.8h.7v.7h-.7zM470.8 219.9h.7v.7h-.7zM477.3 221.0h.7v.7h-.7zM473.9 240.6h.7v.7h-.7zM481.5 248.0h.7v.7h-.7zM479.2 230.8h.7v.7h-.7zM469.4 231.3h.7v.7h-.7zM476.3 219.3h.7v.7h-.7zM483.2 210.2h.7v.7h-.7zM479.1 213.9h.7v.7h-.7zM462.3 223.1h.7v.7h-.7zM468.7 213.1h.7v.7h-.7zM476.0 227.7h.7v.7h-.7zM481.8 217.0h.7v.7h-.7zM456.5 237.2h.7v.7h-.7zM469.2 240.6h.7v.7h-.7zM452.2 214.3h.7v.7h-.7zM471.7 252.2h.7v.7h-.7zM461.1 206.5h.7v.7h-.7zM467.4 245.8h.7v.7h-.7zM483.7 212.9h.7v.7h-.7zM466.1 207.2h.7v.7h-.7zM464.2 217.6h.7v.7h-.7zM474.4 242.6h.7v.7h-.7zM490.1 224.8h.7v.7h-.7zM477.6 231.7h.7v.7h-.7zM472.0 252.0h.7v.7h-.7zM476.6 247.6h.7v.7h-.7zM473.4 239.3h.7v.7h-.7zM475.1 227.9h.7v.7h-.7zM465.4 224.3h.7v.7h-.7zM471.1 224.5h.7v.7h-.7zM468.3 220.7h.7v.7h-.7zM477.9 226.2h.7v.7h-.7zM470.1 226.5h.7v.7h-.7zM481.5 222.7h.7v.7h-.7zM482.3 218.8h.7v.7h-.7zM483.3 236.3h.7v.7h-.7zM467.1 234.5h.7v.7h-.7zM480.1 217.8h.7v.7h-.7zM469.2 232.8h.7v.7h-.7zM469.3 225.6h.7v.7h-.7zM471.2 232.8h.7v.7h-.7zM477.2 246.6h.7v.7h-.7zM468.4 250.1h.7v.7h-.7zM470.0 211.8h.7v.7h-.7zM467.5 225.0h.7v.7h-.7zM479.6 205.1h.7v.7h-.7zM465.9 227.5h.7v.7h-.7zM476.3 233.7h.7v.7h-.7zM477.9 227.2h.7v.7h-.7zM469.1 243.4h.7v.7h-.7zM484.8 233.6h.7v.7h-.7zM472.3 218.9h.7v.7h-.7zM487.9 233.8h.7v.7h-.7zM476.0 210.0h.7v.7h-.7zM469.7 226.6h.7v.7h-.7zM483.3 226.8h.7v.7h-.7zM477.8 252.1h.7v.7h-.7zM461.7 219.2h.7v.7h-.7zM476.5 230.4h.7v.7h-.7zM471.3 227.1h.7v.7h-.7zM472.1 233.3h.7v.7h-.7zM467.2 225.8h.7v.7h-.7zM472.9 216.2h.7v.7h-.7zM474.6 203.0h.7v.7h-.7zM476.1 227.6h.7v.7h-.7zM461.6 245.1h.7v.7h-.7zM461.7 253.6h.7v.7h-.7zM465.2 243.4h.7v.7h-.7zM470.5 248.2h.7v.7h-.7zM469.3 241.3h.7v.7h-.7zM468.5 206.8h.7v.7h-.7zM474.1 234.7h.7v.7h-.7zM474.2 248.9h.7v.7h-.7zM465.2 212.1h.7v.7h-.7zM473.1 220.8h.7v.7h-.7zM470.2 229.0h.7v.7h-.7zM464.5 242.0h.7v.7h-.7zM470.1 250.3h.7v.7h-.7zM473.0 241.6h.7v.7h-.7zM468.7 221.2h.7v.7h-.7zM466.8 218.6h.7v.7h-.7zM474.6 230.7h.7v.7h-.7zM462.4 210.8h.7v.7h-.7zM464.2 207.4h.7v.7h-.7zM464.0 211.0h.7v.7h-.7zM476.7 215.3h.7v.7h-.7zM466.3 227.6h.7v.7h-.7zM471.3 234.1h.7v.7h-.7zM477.1 236.7h.7v.7h-.7zM468.3 243.9h.7v.7h-.7zM474.0 220.6h.7v.7h-.7zM482.9 215.0h.7v.7h-.7zM474.8 244.0h.7v.7h-.7zM471.9 233.2h.7v.7h-.7zM472.0 237.0h.7v.7h-.7zM472.8 229.1h.7v.7h-.7zM476.6 206.5h.7v.7h-.7zM473.0 225.5h.7v.7h-.7zM486.6 232.5h.7v.7h-.7zM465.8 236.8h.7v.7h-.7zM468.0 214.9h.7v.7h-.7zM468.8 235.0h.7v.7h-.7zM480.5 241.5h.7v.7h-.7zM472.9 227.1h.7v.7h-.7zM472.6 243.4h.7v.7h-.7zM470.0 242.8h.7v.7h-.7zM464.7 228.9h.7v.7h-.7zM477.2 237.4h.7v.7h-.7zM472.6 222.9h.7v.7h-.7zM456.8 223.8h.7v.7h-.7zM464.3 224.3h.7v.7h-.7zM483.6 219.9h.7v.7h-.7zM477.8 228.8h.7v.7h-.7zM462.3 230.3h.7v.7h-.7zM477.0 214.9h.7v.7h-.7zM461.9 224.5h.7v.7h-.7zM476.8 221.9h.7v.7h-.7zM474.4 234.5h.7v.7h-.7zM471.1 234.4h.7v.7h-.7zM481.1 226.8h.7v.7h-.7zM473.6 216.4h.7v.7h-.7zM465.3 227.9h.7v.7h-.7zM477.5 221.1h.7v.7h-.7zM460.1 240.0h.7v.7h-.7zM489.8 198.5h.7v.7h-.7zM462.7 230.5h.7v.7h-.7zM474.9 217.8h.7v.7h-.7zM473.7 242.1h.7v.7h-.7zM468.9 237.7h.7v.7h-.7zM472.0 218.0h.7v.7h-.7zM466.2 221.8h.7v.7h-.7zM481.5 242.8h.7v.7h-.7zM472.9 210.5h.7v.7h-.7zM467.2 224.3h.7v.7h-.7zM455.9 228.8h.7v.7h-.7zM473.3 213.3h.7v.7h-.7zM467.7 223.6h.7v.7h-.7zM485.6 236.9h.7v.7h-.7zM477.1 230.1h.7v.7h-.7zM461.0 240.0h.7v.7h-.7zM465.7 206.2h.7v.7h-.7zM476.8 224.9h.7v.7h-.7zM471.0 235.1h.7v.7h-.7zM469.2 233.9h.7v.7h-.7zM481.2 225.2h.7v.7h-.7zM468.3 229.2h.7v.7h-.7zM476.1 224.3h.7v.7h-.7zM471.7 220.9h.7v.7h-.7zM470.4 235.5h.7v.7h-.7zM464.6 226.9h.7v.7h-.7zM459.6 220.7h.7v.7h-.7zM471.6 235.3h.7v.7h-.7zM463.0 227.8h.7v.7h-.7zM463.8 232.8h.7v.7h-.7zM473.1 234.3h.7v.7h-.7zM469.4 212.2h.7v.7h-.7zM466.6 213.2h.7v.7h-.7zM465.7 228.3h.7v.7h-.7zM479.5 221.4h.7v.7h-.7zM465.0 231.4h.7v.7h-.7zM454.9 252.6h.7v.7h-.7zM459.0 241.0h.7v.7h-.7zM478.7 240.4h.7v.7h-.7zM470.2 237.7h.7v.7h-.7zM468.3 240.4h.7v.7h-.7zM465.9 219.4h.7v.7h-.7zM474.0 223.7h.7v.7h-.7zM476.3 218.9h.7v.7h-.7zM473.1 217.4h.7v.7h-.7zM470.2 254.4h.7v.7h-.7zM462.6 214.5h.7v.7h-.7zM458.5 226.3h.7v.7h-.7zM483.7 223.7h.7v.7h-.7zM478.3 226.8h.7v.7h-.7zM466.1 252.8h.7v.7h-.7zM479.4 207.3h.7v.7h-.7zM463.4 233.9h.7v.7h-.7zM476.1 226.4h.7v.7h-.7zM473.5 235.4h.7v.7h-.7zM468.3 240.8h.7v.7h-.7zM464.4 237.9h.7v.7h-.7zM478.1 231.4h.7v.7h-.7zM468.3 228.8h.7v.7h-.7zM453.8 232.0h.7v.7h-.7zM460.0 205.2h.7v.7h-.7zM477.0 218.2h.7v.7h-.7zM473.8 229.6h.7v.7h-.7zM457.3 218.4h.7v.7h-.7zM468.9 234.6h.7v.7h-.7zM471.6 214.1h.7v.7h-.7zM466.9 230.3h.7v.7h-.7zM461.1 223.8h.7v.7h-.7zM466.8 203.9h.7v.7h-.7zM484.4 239.4h.7v.7h-.7zM467.4 240.2h.7v.7h-.7zM462.9 247.1h.7v.7h-.7zM468.1 230.7h.7v.7h-.7zM466.5 230.1h.7v.7h-.7zM473.6 229.4h.7v.7h-.7zM464.6 238.0h.7v.7h-.7zM475.3 229.0h.7v.7h-.7zM479.2 220.3h.7v.7h-.7zM480.9 227.1h.7v.7h-.7zM482.8 223.8h.7v.7h-.7zM469.1 231.5h.7v.7h-.7zM479.5 246.0h.7v.7h-.7zM467.5 220.4h.7v.7h-.7zM476.9 243.7h.7v.7h-.7zM476.5 225.1h.7v.7h-.7zM480.9 228.7h.7v.7h-.7zM472.3 236.4h.7v.7h-.7zM466.6 202.3h.7v.7h-.7zM472.7 237.5h.7v.7h-.7zM474.4 235.4h.7v.7h-.7zM472.3 241.3h.7v.7h-.7zM471.9 246.6h.7v.7h-.7zM471.4 238.4h.7v.7h-.7zM466.7 232.6h.7v.7h-.7zM474.3 230.7h.7v.7h-.7zM483.0 229.5h.7v.7h-.7zM479.7 233.2h.7v.7h-.7zM479.5 218.4h.7v.7h-.7zM468.2 240.4h.7v.7h-.7zM464.7 233.7h.7v.7h-.7zM475.4 231.3h.7v.7h-.7zM474.4 235.4h.7v.7h-.7zM469.2 233.9h.7v.7h-.7zM467.0 223.7h.7v.7h-.7zM458.7 227.8h.7v.7h-.7zM457.9 229.4h.7v.7h-.7zM472.6 216.2h.7v.7h-.7zM471.6 232.4h.7v.7h-.7zM468.3 218.2h.7v.7h-.7zM470.2 233.9h.7v.7h-.7zM478.2 251.9h.7v.7h-.7zM455.7 233.1h.7v.7h-.7zM474.4 221.5h.7v.7h-.7zM473.5 253.8h.7v.7h-.7zM471.9 245.2h.7v.7h-.7zM479.3 223.8h.7v.7h-.7zM453.1 242.7h.7v.7h-.7zM482.9 208.2h.7v.7h-.7zM469.5 220.8h.7v.7h-.7zM472.6 229.7h.7v.7h-.7zM479.9 222.0h.7v.7h-.7zM485.9 208.8h.7v.7h-.7zM470.3 236.5h.7v.7h-.7zM477.9 224.9h.7v.7h-.7zM456.2 231.5h.7v.7h-.7zM476.7 204.8h.7v.7h-.7zM467.2 235.6h.7v.7h-.7zM452.4 226.7h.7v.7h-.7zM458.7 213.1h.7v.7h-.7zM474.2 242.5h.7v.7h-.7zM480.0 221.2h.7v.7h-.7zM474.9 208.0h.7v.7h-.7zM459.6 235.5h.7v.7h-.7zM467.9 216.9h.7v.7h-.7zM456.5 226.2h.7v.7h-.7zM488.3 205.1h.7v.7h-.7zM462.9 242.3h.7v.7h-.7zM456.2 221.6h.7v.7h-.7zM471.5 242.4h.7v.7h-.7zM470.4 250.6h.7v.7h-.7zM470.8 227.7h.7v.7h-.7zM474.4 233.2h.7v.7h-.7zM459.4 217.8h.7v.7h-.7zM469.2 233.1h.7v.7h-.7zM461.5 220.5h.7v.7h-.7zM465.2 233.0h.7v.7h-.7zM467.7 236.2h.7v.7h-.7zM474.0 218.1h.7v.7h-.7zM468.7 214.3h.7v.7h-.7zM471.8 238.6h.7v.7h-.7zM463.4 208.0h.7v.7h-.7zM475.0 225.6h.7v.7h-.7zM470.8 234.5h.7v.7h-.7zM473.9 240.0h.7v.7h-.7zM467.5 202.8h.7v.7h-.7zM467.2 225.4h.7v.7h-.7zM467.8 233.7h.7v.7h-.7zM469.1 244.4h.7v.7h-.7zM466.1 228.9h.7v.7h-.7zM468.2 254.2h.7v.7h-.7zM463.6 217.1h.7v.7h-.7zM468.0 238.1h.7v.7h-.7zM471.1 226.9h.7v.7h-.7zM459.6 204.3h.7v.7h-.7zM469.3 226.2h.7v.7h-.7zM484.7 233.4h.7v.7h-.7zM474.3 240.5h.7v.7h-.7zM464.0 214.3h.7v.7h-.7zM468.1 246.7h.7v.7h-.7zM478.7 222.0h.7v.7h-.7zM461.3 240.1h.7v.7h-.7zM479.5 215.9h.7v.7h-.7zM483.5 219.8h.7v.7h-.7zM476.8 226.5h.7v.7h-.7zM468.4 221.7h.7v.7h-.7zM476.4 236.4h.7v.7h-.7zM477.3 225.7h.7v.7h-.7zM464.4 254.6h.7v.7h-.7zM484.4 226.7h.7v.7h-.7zM462.1 246.9h.7v.7h-.7zM472.0 229.7h.7v.7h-.7zM477.7 233.2h.7v.7h-.7zM471.9 252.7h.7v.7h-.7zM456.2 236.7h.7v.7h-.7zM463.3 229.9h.7v.7h-.7zM469.7 232.2h.7v.7h-.7zM452.1 237.3h.7v.7h-.7zM489.2 224.1h.7v.7h-.7zM478.1 236.5h.7v.7h-.7zM473.3 223.0h.7v.7h-.7zM476.0 232.2h.7v.7h-.7z" fill="#ec7868" fill-opacity="0.32"/>
<path d="M419.2 247.5h.7v.7h-.7zM398.0 213.9h.7v.7h-.7zM419.8 244.4h.7v.7h-.7zM406.7 234.6h.7v.7h-.7zM429.6 252.0h.7v.7h-.7zM406.0 236.7h.7v.7h-.7zM410.6 252.2h.7v.7h-.7zM410.1 248.5h.7v.7h-.7zM407.6 243.2h.7v.7h-.7zM392.6 241.1h.7v.7h-.7zM405.5 239.3h.7v.7h-.7zM402.6 242.8h.7v.7h-.7zM399.3 238.2h.7v.7h-.7zM396.2 229.2h.7v.7h-.7zM399.7 236.3h.7v.7h-.7zM394.4 218.1h.7v.7h-.7zM421.2 249.2h.7v.7h-.7zM401.3 245.0h.7v.7h-.7zM394.0 225.5h.7v.7h-.7zM408.3 245.2h.7v.7h-.7zM398.2 240.0h.7v.7h-.7zM415.4 241.5h.7v.7h-.7zM406.8 245.2h.7v.7h-.7zM392.4 242.2h.7v.7h-.7zM398.8 223.1h.7v.7h-.7zM413.8 238.3h.7v.7h-.7zM388.7 228.6h.7v.7h-.7zM415.7 252.7h.7v.7h-.7zM408.9 243.2h.7v.7h-.7zM411.9 245.9h.7v.7h-.7zM392.4 246.7h.7v.7h-.7zM414.8 236.4h.7v.7h-.7zM395.9 235.6h.7v.7h-.7zM399.2 244.7h.7v.7h-.7zM412.7 240.2h.7v.7h-.7zM402.0 224.1h.7v.7h-.7zM400.8 231.1h.7v.7h-.7zM399.5 243.1h.7v.7h-.7zM396.3 235.2h.7v.7h-.7zM393.6 237.7h.7v.7h-.7zM402.2 249.0h.7v.7h-.7zM411.4 235.3h.7v.7h-.7zM398.2 241.8h.7v.7h-.7zM410.2 238.6h.7v.7h-.7zM403.4 240.2h.7v.7h-.7zM394.2 242.4h.7v.7h-.7zM410.7 240.5h.7v.7h-.7zM393.7 240.0h.7v.7h-.7zM403.9 242.8h.7v.7h-.7zM400.8 247.4h.7v.7h-.7zM415.8 247.4h.7v.7h-.7zM407.3 250.9h.7v.7h-.7zM404.6 238.5h.7v.7h-.7zM390.8 240.2h.7v.7h-.7zM417.0 231.5h.7v.7h-.7zM412.7 228.7h.7v.7h-.7zM407.9 256.3h.7v.7h-.7zM405.4 229.6h.7v.7h-.7zM407.8 238.7h.7v.7h-.7zM412.9 235.4h.7v.7h-.7zM387.8 235.8h.7v.7h-.7zM410.8 249.1h.7v.7h-.7zM407.7 240.2h.7v.7h-.7zM411.8 238.3h.7v.7h-.7z" fill="#ec7868" fill-opacity="0.2"/>
<path d="M422.3 169.2L423.8 168.8L425.3 168.1L427.0 168.2L428.0 169.0L429.3 168.9L430.4 169.2L430.2 170.1L431.0 170.7L431.0 171.5L430.0 173.5L429.2 175.5L428.0 177.3L427.5 178.8L427.0 180.3L426.9 181.9L425.7 184.2L424.5 186.5L423.4 188.8L422.8 190.8L421.4 192.5L421.1 194.6L419.5 196.2L417.5 197.2L415.4 198.0L413.9 197.9L412.4 197.6L411.0 198.2L409.8 197.6L408.5 198.0L407.3 197.5L407.0 195.9L405.7 194.8L405.0 193.4L404.3 191.8L403.6 190.3L402.7 188.8L403.2 186.5L403.8 184.3L403.8 181.9L405.1 180.6L405.6 178.7L406.7 177.3L409.1 176.1L410.8 174.1L413.1 172.7L416.2 171.7L419.1 170.0Z" fill="#fac2a4" stroke="#ec5232" stroke-width="0.75" stroke-linejoin="round"/>
<path d="M421.3 171.6L422.6 171.4L423.9 170.9L425.2 170.7L426.1 171.4L427.1 171.4L428.1 171.6L428.4 172.2L428.1 172.9L428.6 173.5L428.0 175.3L426.7 176.7L426.1 178.4L425.7 179.6L425.8 181.0L425.2 182.2L424.2 184.2L423.5 186.2L422.2 188.0L421.2 189.5L421.2 191.4L420.3 192.9L418.6 193.8L417.1 194.8L415.5 195.8L414.3 196.1L413.0 195.5L411.8 195.9L410.8 195.7L409.7 195.4L408.7 195.3L407.9 194.3L407.2 193.2L406.8 191.9L406.0 190.7L405.1 189.5L404.8 188.0L404.9 186.1L405.4 184.2L405.8 182.2L406.5 180.9L407.6 179.8L408.2 178.4L409.8 176.9L411.6 175.6L413.6 174.5L416.1 173.5L418.8 172.7Z" fill="#f6cc62" stroke="#f28a48" stroke-width="0.55" stroke-linejoin="round"/>
<g filter="url(#b1)">
<path d="M420.0 174.3L421.0 173.9L422.1 173.6L423.2 173.6L424.0 173.6L424.7 174.0L425.5 174.3L425.7 174.8L425.6 175.3L425.9 175.8L425.3 177.2L424.6 178.5L423.8 179.8L423.4 180.8L423.5 181.9L423.1 182.9L422.5 184.6L421.3 185.9L420.7 187.6L420.0 188.8L419.8 190.3L419.1 191.5L417.9 192.4L416.6 193.1L415.3 193.8L414.3 194.1L413.3 193.8L412.3 194.0L411.5 193.6L410.6 193.5L409.8 193.5L409.2 192.6L408.9 191.5L408.2 190.7L407.9 189.6L407.0 188.7L406.6 187.6L407.0 186.0L406.9 184.4L407.4 182.9L408.3 182.0L408.8 180.9L409.4 179.8L410.8 178.7L412.3 177.8L413.7 176.6L415.7 175.7L417.8 174.8Z" fill="#e8e45a"/>
<ellipse cx="414.8" cy="183.2" rx="4.8" ry="9.5" fill="#b4e45c"/>
<ellipse cx="414.8" cy="179" rx="2.8" ry="2.9" fill="#7ede5a"/><ellipse cx="414.8" cy="187.4" rx="2.7" ry="3.0" fill="#7ede5a"/>
</g>
<path d="M470.6 178.2L471.2 177.9L471.8 177.5L472.5 177.2L473.0 177.7L473.4 178.3L474.0 178.8L473.7 179.5L473.5 180.2L473.2 180.8L472.5 180.9L471.7 180.9L471.0 181.0L470.9 180.1L470.8 179.1Z" fill="#f4a080" stroke="#ec5232" stroke-width="0.6" stroke-linejoin="round"/>
<path d="M470.0 223.0L471.1 222.5L472.3 222.3L473.5 222.0L473.7 223.3L473.9 224.7L474.0 226.0L473.6 227.7L473.0 229.3L472.5 231.0L472.0 232.2L471.6 233.4L471.0 234.5L470.1 234.2L469.3 233.8L468.5 233.5L468.8 231.7L468.8 229.8L469.0 228.0L469.3 226.3L469.5 224.6Z" fill="#f9cab8" stroke="#ec5232" stroke-width="0.7" stroke-linejoin="round"/>
<rect x="463" y="256.6" width="15.5" height="2" fill="url(#barO)"/>
<rect x="386.4" y="154.4" width="118.9" height="104.4" fill="none" stroke="#2a2a2a" stroke-width="1.1"/>
<rect x="438.5" y="200.0" width="63.7" height="55.4" fill="none" stroke="#333" stroke-width="1.2" rx="0.8"/>
<text x="399.0" y="165.8" font-size="6.9" textLength="36.9" lengthAdjust="spacingAndGlyphs">KDM6B-LPS</text>
<text x="442.5" y="212.3" font-size="7.36" textLength="19.7" lengthAdjust="spacingAndGlyphs">18.9%</text>
<rect x="0" y="0" width="520" height="1.2" fill="#111"/><rect x="0" y="0" width="1.3" height="668" fill="#111"/><rect x="518.1" y="0" width="1.9" height="668" fill="#2a2a2a"/><rect x="0" y="666.1" width="520" height="1.9" fill="#111"/>
</svg>
</body></html>
